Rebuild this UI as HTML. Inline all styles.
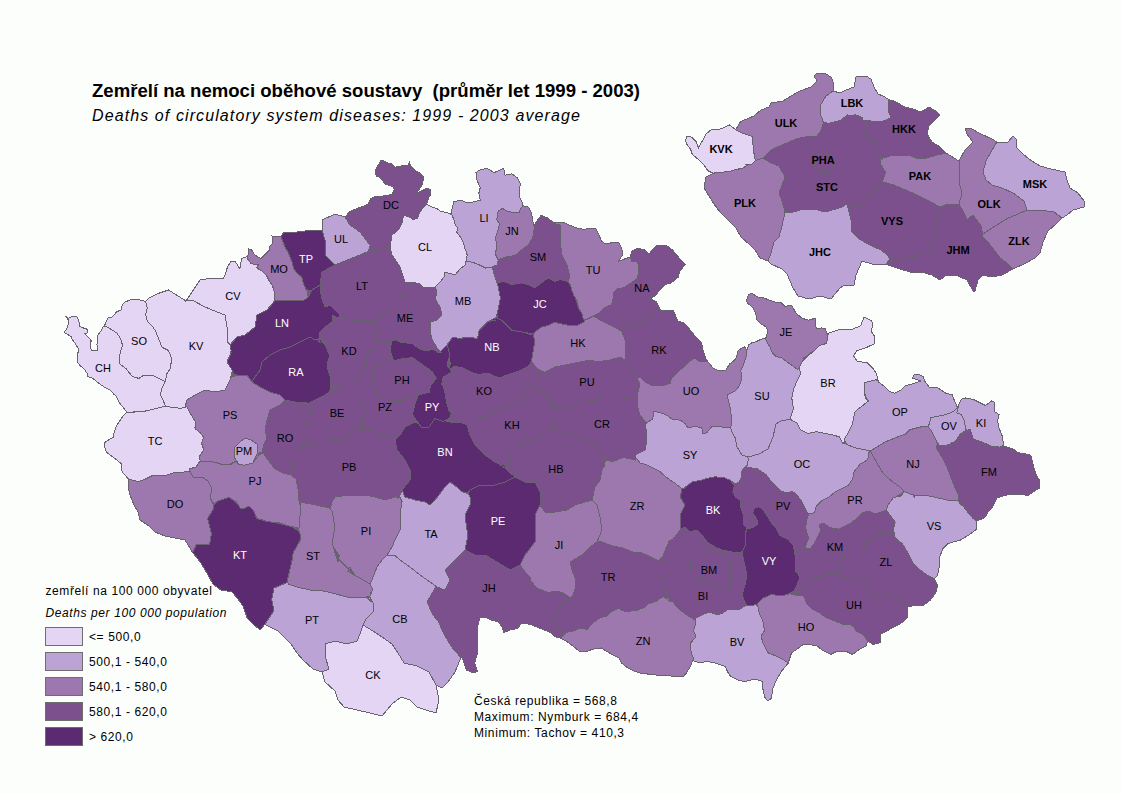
<!DOCTYPE html>
<html><head><meta charset="utf-8"><style>
html,body{margin:0;padding:0;background:#fcfefc;}
body{width:1122px;height:794px;overflow:hidden;position:relative;}
svg{position:absolute;left:0;top:0;font-family:"Liberation Sans",sans-serif;}
.l{font-size:11px;text-anchor:middle;}
.q{font-size:11px;font-weight:bold;text-anchor:middle;}
.s{font-size:12px;letter-spacing:0.6px;}
.t1{font-size:19.2px;font-weight:bold;}
.t2{font-size:16px;font-style:italic;letter-spacing:1.1px;}
</style></head><body>
<svg width="1122" height="794" viewBox="0 0 1122 794" shape-rendering="crispEdges">
<path d="M237.9,462.9 L237.2,462.6 L237.7,463.4 L237.8,463.5 L238.1,464.1 L239.6,464.5 L241.4,464.5 L243.2,465.0 L245.0,465.0 L253.0,463.0 L257.0,454.0 L257.0,444.0 L251.0,440.0 L245.0,438.0 L240.0,442.0 L234.0,448.0 L234.0,457.0 L238.0,463.0ZM253.0,463.0 L254.6,460.5 L254.8,460.1 L254.1,460.4Z" fill="#bba4d5" fill-rule="evenodd"/>
<path d="M939.6,445.1 L939.8,445.3 L941.4,445.3 L942.6,445.1 L943.8,445.3 L946.1,445.3 L953.7,442.8 L953.9,442.6 L954.1,442.2 L950.6,443.3 L955.2,441.8 L958.2,437.3 L961.2,432.7 L959.2,435.7 L959.9,435.6 L961.6,433.1 L966.3,429.9 L966.3,429.5 L965.8,429.7 L964.2,420.6 L961.2,414.5 L956.7,413.0 L958.2,407.0 L953.6,411.5 L946.0,414.5 L938.5,416.1 L930.9,417.6 L929.4,423.6 L927.9,426.7 L930.9,429.7 L933.9,435.8 L937.0,441.8 L936.9,442.4 L938.9,444.4 L937.3,442.8 L937.2,443.5 L939.0,445.2ZM961.6,433.1 L960.3,435.0 L961.0,434.8 L961.9,433.4 L961.4,434.3 L962.1,434.1 L962.3,433.8 L963.0,433.3 L964.8,431.5 L966.9,430.2 L966.8,429.9 L966.0,430.2ZM948.4,445.1 L949.4,445.3 L950.1,445.0 L950.9,444.3 L951.9,443.9 L952.7,443.2 L946.3,445.2 L947.4,445.4Z" fill="#bba4d5" fill-rule="evenodd"/>
<path d="M692.0,575.0 L700.0,580.0 L710.0,582.0 L715.0,587.0 L725.0,590.0 L730.0,585.0 L730.0,575.0 L730.0,562.0 L725.0,555.0 L715.0,550.0 L705.0,552.0 L695.0,555.0 L690.0,560.0 L690.0,567.0Z" fill="#7b508d" fill-rule="evenodd"/>
<path d="M966.3,429.9 L966.0,430.2 L966.8,429.9 L966.9,430.2 L966.2,430.6 L969.6,429.5 L969.7,429.7 L970.2,429.5 L970.0,428.8 L970.3,430.0 L970.3,430.0 L972.8,437.6 L973.0,437.7 L973.3,438.8 L980.9,441.8 L988.5,444.8 L982.0,442.2 L982.6,443.0 L988.3,445.3 L993.8,446.7 L994.9,446.9 L998.1,446.9 L999.3,447.1 L1000.3,446.9 L1000.7,446.9 L1003.7,445.3 L1003.6,444.8 L1002.1,435.8 L999.1,428.2 L999.0,427.5 L997.6,420.6 L999.1,414.5 L994.5,411.5 L994.5,402.4 L991.5,400.9 L985.5,405.5 L979.4,402.4 L973.3,399.4 L965.8,397.9 L961.2,399.4 L958.2,405.5 L957.8,407.4 L958.2,407.0 L956.7,413.0 L961.2,414.5 L964.2,420.6 L965.8,429.7 L966.3,429.5ZM1003.7,445.3 L1001.0,446.8 L1002.6,446.5 L1003.8,445.8 L1003.8,445.8ZM988.3,445.3 L983.5,443.4 L984.1,444.1 L986.1,444.9 L988.7,445.4Z" fill="#bba4d5" fill-rule="evenodd"/>
<path d="M534.1,224.8 L533.5,225.6 L531.5,212.7 L528.7,207.1 L523.1,205.7 L520.4,208.5 L519.0,212.7 L513.4,212.7 L507.9,211.3 L502.4,208.5 L498.2,211.3 L496.8,219.6 L499.6,223.7 L498.2,229.3 L495.4,237.6 L496.8,245.9 L495.4,254.2 L498.2,259.8 L506.5,257.0 L514.8,255.6 L523.1,248.7 L528.7,244.5 L532.8,237.6 L534.2,229.3 L534.2,225.1 L534.6,224.6 L534.5,224.4Z" fill="#9d78ae" fill-rule="evenodd"/>
<path d="M355.0,257.0 L367.0,252.0 L367.3,251.2 L368.0,250.9 L369.3,248.0 L368.3,250.2 L369.0,249.9 L369.5,248.7 L369.5,247.4 L370.0,246.3 L370.0,245.0 L360.0,232.0 L350.0,225.0 L345.0,217.0 L335.0,214.0 L322.0,220.0 L322.0,230.0 L325.0,240.0 L325.0,255.0 L335.0,265.0Z" fill="#bba4d5" fill-rule="evenodd"/>
<path d="M308.5,291.3 L308.4,290.8 L307.9,290.7 L308.5,293.2 L308.8,292.6 L308.7,291.9 L308.9,291.4ZM308.6,293.9 L307.7,290.2 L307.2,290.1 L308.2,294.2 L307.1,289.5 L307.0,289.5 L306.6,289.7 L308.1,295.9 L308.4,295.3 L308.3,294.6ZM254.1,264.7 L258.5,264.7 L256.7,267.3 L258.5,269.1 L262.9,271.7 L266.4,275.3 L269.1,280.6 L272.6,285.9 L274.4,292.9 L274.4,300.8 L279.7,300.8 L286.7,300.0 L295.5,300.8 L304.4,300.0 L307.9,297.3 L308.3,296.7 L306.5,289.2 L306.5,289.2 L306.0,289.4 L303.5,284.0 L301.7,277.0 L297.3,273.5 L293.8,269.0 L292.0,262.0 L288.5,253.2 L285.0,247.0 L281.0,237.0 L272.0,236.0 L272.6,243.5 L269.1,247.0 L269.1,250.6 L264.7,255.0 L261.2,258.5 L261.2,258.5 L258.9,257.7 L258.5,257.6 L258.5,257.6 L258.5,257.6 L254.1,254.1 L254.1,254.1 L251.5,249.7 L248.8,248.8 L247.9,255.9 L247.9,256.2 L247.4,256.3 L246.9,256.5 L246.9,257.0 L247.4,257.7 L247.4,258.6 L247.9,259.4 L250.6,263.0Z" fill="#9d78ae" fill-rule="evenodd"/>
<path d="M307.2,290.1 L311.0,290.8 L311.2,290.4 L311.7,290.5 L312.0,290.0 L320.0,285.0 L322.0,272.0 L335.0,265.0 L325.0,255.0 L325.0,240.0 L322.0,230.0 L305.0,231.0 L297.0,232.0 L284.0,232.0 L281.0,237.0 L285.0,247.0 L288.5,253.2 L292.0,262.0 L293.8,269.0 L297.3,273.5 L301.7,277.0 L303.5,284.0 L306.0,289.4 L306.5,289.2 L306.5,289.2 L306.6,289.7 L307.0,289.5 L307.1,289.5ZM307.2,290.1 L307.7,290.2 L307.9,290.7 L308.4,290.8 L308.5,291.3 L309.4,291.5 L309.7,291.1 L310.2,291.2 L310.5,290.7Z" fill="#5c2a71" fill-rule="evenodd"/>
<path d="M375.6,391.9 L378.9,396.0 L382.1,398.3 L382.5,398.5 L383.5,398.5 L384.3,399.0 L385.3,399.0 L386.1,399.5 L387.1,399.5 L387.5,399.8 L388.7,400.0 L391.4,400.0 L394.6,400.6 L393.8,400.4 L395.7,400.9 L401.7,399.8 L396.8,400.7 L398.0,401.0 L399.2,400.8 L400.0,401.0 L402.9,400.4 L414.1,395.9 L415.7,394.7 L416.6,394.7 L417.3,394.2 L417.7,394.2 L417.6,394.7 L418.1,394.7 L418.0,395.2 L418.3,395.2 L419.1,394.7 L419.9,394.7 L420.7,394.2 L421.6,394.2 L422.3,393.7 L429.2,392.3 L430.6,385.4 L436.2,378.5 L432.0,371.5 L422.3,364.6 L412.6,357.7 L403.0,358.5 L394.6,360.5 L394.4,360.0 L393.8,360.0 L393.6,359.5 L393.1,359.5 L392.9,359.0 L392.3,359.0 L392.2,358.9 L392.1,359.0 L391.4,359.0 L390.9,359.5 L390.2,359.5 L389.7,360.0 L389.0,360.0 L388.5,360.5 L387.7,360.5 L378.0,364.6 L373.5,369.2 L372.0,370.0 L372.0,370.3 L372.5,372.2 L372.5,374.3 L372.9,375.8 L372.9,381.3 L374.3,388.6 L373.0,381.8 L373.0,384.6 L373.1,385.3 L374.4,389.6 L379.8,396.2 L375.3,390.7ZM410.3,397.9 L412.1,396.7 L405.3,399.4 L408.0,398.9Z" fill="#7b508d" fill-rule="evenodd"/>
<path d="M390.0,347.6 L390.0,350.0 L391.8,341.3 L391.3,341.5 L390.6,344.7 L391.2,342.1 L390.6,342.3 L390.5,342.8 L390.5,345.2ZM390.0,350.0 L391.0,353.6 L393.2,358.5 L392.5,357.0 L392.6,357.1 L392.2,357.5 L392.7,358.7 L392.4,358.0 L392.0,358.4 L392.3,359.0 L392.9,359.0 L393.1,359.5 L393.6,359.5 L393.8,360.0 L394.4,360.0 L394.6,360.5 L403.0,358.5 L412.6,357.7 L422.3,364.6 L432.0,371.5 L436.2,378.5 L430.6,385.4 L429.2,392.3 L422.3,393.7 L421.6,394.2 L420.7,394.2 L419.9,394.7 L419.1,394.7 L418.3,395.2 L418.0,395.2 L418.1,394.8 L417.9,395.5 L417.4,395.8 L417.3,396.1 L416.9,397.9 L417.8,396.2 L416.1,399.5 L415.7,401.4 L418.2,396.5 L415.4,402.0 L414.0,407.6 L412.6,413.1 L412.8,412.4 L412.4,413.7 L412.8,414.2 L412.6,414.8 L417.3,421.9 L413.8,416.7 L414.9,419.1 L416.9,422.1 L417.7,422.7 L418.2,423.7 L419.1,424.3 L417.8,421.7 L419.6,425.3 L420.4,425.9 L421.0,427.0 L429.2,427.0 L434.8,418.6 L443.1,421.4 L448.6,418.6 L444.2,420.8 L445.0,421.0 L445.7,420.6 L446.5,420.8 L449.3,419.3 L449.5,419.0 L449.5,417.9 L450.0,417.0 L450.0,415.9 L451.4,413.1 L448.6,410.3 L449.0,410.7 L448.4,408.1 L446.4,401.9 L446.6,402.6 L446.5,402.1 L444.7,391.1 L443.3,386.9 L442.8,384.9 L442.7,385.3 L443.0,383.6 L442.7,382.4 L442.2,385.4 L442.9,381.1 L442.6,379.8 L441.7,385.4 L443.1,377.1 L452.0,372.0 L447.0,365.0 L450.0,355.0 L448.0,349.7 L448.0,348.2 L447.5,346.9 L447.5,345.5 L447.4,345.2 L447.0,345.6 L447.0,345.4 L445.5,346.4 L442.7,349.2 L441.5,351.0 L440.8,351.1 L440.5,351.6 L439.9,351.6 L439.8,351.7 L439.7,351.6 L439.7,351.6 L440.0,352.0 L439.8,352.1 L442.0,352.0 L437.6,352.2 L433.4,349.4 L425.1,350.8 L419.3,348.5 L417.0,347.0 L416.6,346.8 L418.2,348.0 L412.6,343.9 L408.2,343.3 L406.5,342.6 L403.9,342.3 L401.2,341.8 L401.7,342.0 L399.5,340.9 L397.7,340.5 L401.6,342.5 L396.0,339.7 L395.0,340.0 L395.0,340.0 L394.8,340.1 L394.9,340.0 L391.9,341.0ZM447.0,365.0 L449.0,367.8 L449.3,367.4 L447.5,364.9 L449.6,358.1 L449.3,357.2ZM447.5,364.9 L449.0,367.0 L449.3,366.6 L449.0,366.1 L449.4,365.7 L448.6,364.7 L449.5,361.9 L449.3,360.9 L449.5,360.0 L449.3,359.1ZM448.6,364.7 L449.1,365.3 L449.4,364.9 L449.2,364.6 L449.5,363.7 L449.2,362.8ZM449.0,420.1 L449.0,419.5 L447.2,420.4 L448.0,420.6Z" fill="#5c2a71" fill-rule="evenodd"/>
<path d="M262.0,450.3 L262.6,451.4 L262.2,450.6 L261.9,451.1 L262.1,451.6 L261.8,452.0 L262.2,452.7 L262.7,452.5 L262.9,452.9 L263.3,452.8 L263.6,453.1 L264.7,455.2 L266.3,457.1 L267.4,459.2 L269.0,461.0 L275.0,469.0 L283.0,473.0 L291.0,475.0 L293.0,465.0 L291.0,455.0 L296.0,450.0 L304.0,444.0 L308.0,438.0 L307.0,430.0 L310.0,415.0 L310.0,405.0 L305.0,402.0 L295.0,402.0 L285.0,400.0 L280.0,405.0 L270.0,410.0 L267.0,420.0 L265.0,430.0 L266.7,436.7 L266.4,437.8 L266.5,437.9 L266.4,438.1 L266.0,440.0 L263.0,446.0 L263.0,447.8 L262.5,448.5 L262.5,449.4 L262.0,450.1Z" fill="#7b508d" fill-rule="evenodd"/>
<path d="M321.4,340.8 L322.3,341.5 L322.6,342.3 L323.3,342.7 L323.5,343.5 L324.2,344.0 L324.5,344.8 L325.2,345.3 L325.5,346.1 L325.8,346.3 L326.6,348.0 L324.1,340.4 L327.7,351.3 L329.3,354.5 L329.5,355.0 L329.3,355.6 L329.6,356.2 L327.0,365.0 L327.7,366.8 L327.5,367.6 L331.5,377.1 L327.9,368.4 L327.7,369.2 L331.0,377.1 L330.5,380.0 L330.8,381.5 L330.6,382.9 L330.9,384.3 L330.0,390.0 L335.0,387.0 L331.8,388.9 L331.9,389.4 L332.3,389.2 L332.4,389.3 L334.3,388.6 L335.4,387.9 L336.6,387.7 L339.3,386.6 L335.2,387.5 L342.2,386.1 L345.0,385.0 L355.0,385.0 L360.0,375.0 L367.0,365.0 L365.0,355.0 L372.0,350.0 L375.0,340.0 L375.5,338.8 L375.5,337.4 L376.0,336.2 L376.0,331.0 L375.7,329.0 L374.8,326.0 L374.4,322.7 L373.9,321.0 L373.3,321.0 L373.2,320.5 L372.7,320.5 L372.5,320.0 L372.0,320.0 L369.5,320.0 L367.0,320.5 L364.4,320.5 L362.0,321.0 L357.0,320.5 L355.0,320.5 L344.8,319.5 L344.5,319.2 L343.6,319.2 L342.9,318.6 L342.4,318.5 L339.4,317.0 L339.0,317.4 L342.3,319.0 L338.6,317.2 L338.2,317.5 L342.1,319.5 L337.7,317.3 L337.3,317.7 L332.0,315.0 L332.0,322.0 L325.0,327.0 L320.0,332.0 L319.7,332.5 L324.5,340.2 L320.0,332.9 L319.7,333.4 L320.0,333.9 L319.7,334.4 L320.0,334.8 L319.7,335.3 L320.0,335.8 L319.7,336.2 L320.0,336.7 L319.7,337.2 L320.0,337.7 L319.7,338.1ZM365.0,355.0 L365.7,358.3 L366.0,357.5 L365.8,356.6 L366.2,355.7 L366.1,355.4 L366.4,355.3 L366.6,354.8 L366.9,354.3 L365.6,355.2 L367.9,353.5 L368.6,352.4ZM355.0,385.0 L355.0,385.5 L355.3,385.5 L355.7,384.7 L355.9,383.2ZM331.0,377.1 L328.2,370.4 L329.6,375.0 L330.5,377.2 L330.4,377.7 L330.7,378.9Z" fill="#7b508d" fill-rule="evenodd"/>
<path d="M307.0,430.0 L308.0,438.0 L305.9,441.2 L310.0,447.0 L320.0,442.0 L332.0,440.0 L342.0,440.0 L350.0,435.0 L357.0,430.0 L357.6,430.0 L357.8,429.5 L358.4,429.5 L358.6,429.0 L362.3,421.7 L362.0,421.1 L362.3,420.6 L362.0,420.0 L365.0,410.0 L360.0,400.0 L355.0,390.0 L355.5,386.3 L355.5,385.1 L355.3,385.5 L355.0,385.5 L355.0,385.0 L345.0,385.0 L342.2,386.1 L339.3,386.6 L336.6,387.7 L335.4,387.9 L334.3,388.6 L331.9,389.5 L332.0,390.0 L325.0,395.0 L315.0,400.0 L307.7,403.6 L310.0,405.0 L310.0,415.0ZM358.6,429.0 L359.2,429.0 L360.6,426.1 L359.4,428.5 L360.0,428.5 L360.2,428.0 L360.8,428.0 L361.0,427.5 L361.6,427.5 L361.9,427.0 L362.1,427.0 L362.0,426.7 L362.3,426.1 L362.0,425.6 L362.3,425.0 L362.0,424.5 L362.3,423.9 L362.0,423.4 L362.3,422.8 L362.0,422.2Z" fill="#7b508d" fill-rule="evenodd"/>
<path d="M366.4,430.0 L367.0,430.0 L377.0,432.0 L385.0,435.0 L395.0,440.0 L400.0,435.0 L405.0,427.0 L415.0,422.0 L415.5,422.3 L415.6,422.2 L415.4,421.7 L416.2,422.2 L415.8,421.3 L416.6,421.9 L416.3,421.3 L414.9,419.1 L413.8,416.7 L412.6,414.8 L412.8,414.2 L412.4,413.7 L412.8,412.4 L414.0,407.6 L415.4,402.0 L415.7,401.4 L416.1,399.5 L416.9,397.9 L417.3,396.1 L417.4,395.8 L417.9,395.5 L418.1,394.7 L417.6,394.7 L417.7,394.2 L417.3,394.2 L416.6,394.7 L415.7,394.7 L414.1,395.9 L412.1,396.7 L410.3,397.9 L408.0,398.9 L405.3,399.4 L402.9,400.4 L400.0,401.0 L399.2,400.8 L398.0,401.0 L396.8,400.7 L395.7,400.9 L393.8,400.4 L391.4,400.0 L388.7,400.0 L387.5,399.8 L387.1,399.5 L386.1,399.5 L385.3,399.0 L384.3,399.0 L383.5,398.5 L382.5,398.5 L382.1,398.3 L378.9,396.0 L377.7,394.5 L376.7,393.8 L376.5,392.9 L375.6,391.9 L375.3,390.7 L374.4,389.6 L373.1,385.3 L373.0,384.6 L373.0,381.8 L372.9,381.3 L372.9,375.8 L372.5,374.3 L372.5,372.2 L372.0,370.3 L372.0,370.0 L373.5,369.2 L378.0,364.6 L387.7,360.5 L388.5,360.5 L389.0,360.0 L389.7,360.0 L390.2,359.5 L390.9,359.5 L391.4,359.0 L392.1,359.0 L392.2,358.9 L392.0,358.4 L392.4,358.0 L392.2,357.5 L392.6,357.1 L392.5,357.0 L391.0,353.6 L390.0,350.0 L390.0,347.6 L390.5,345.2 L390.5,342.8 L390.6,342.3 L390.5,342.3 L390.5,341.8 L390.0,342.0 L382.0,342.0 L375.0,340.0 L372.0,350.0 L368.6,352.4 L367.9,353.5 L366.9,354.3 L366.6,354.8 L366.4,355.3 L366.1,355.4 L366.2,355.7 L365.8,356.6 L366.0,357.5 L365.7,358.3 L367.0,365.0 L360.0,375.0 L355.9,383.2 L355.7,384.7 L355.5,385.1 L355.5,386.3 L355.0,390.0 L360.0,400.0 L365.0,410.0 L362.0,420.0 L362.3,420.6 L362.0,421.1 L362.3,421.7 L362.0,422.2 L362.3,422.8 L362.0,423.4 L362.3,423.9 L362.0,424.5 L362.3,425.0 L362.0,425.6 L362.3,426.1 L362.0,426.7 L362.4,427.5 L363.0,427.5 L363.2,428.0 L363.8,428.0 L364.0,428.5 L364.6,428.5 L364.8,429.0 L365.4,429.0 L365.6,429.5 L366.2,429.5Z" fill="#7b508d" fill-rule="evenodd"/>
<path d="M815.0,325.7 L815.0,318.2 L808.5,320.3 L802.1,318.2 L795.7,312.8 L793.5,308.6 L791.4,305.3 L785.0,306.4 L780.7,302.1 L775.3,302.1 L768.9,300.0 L763.6,297.8 L757.1,296.8 L751.8,293.0 L748.6,294.6 L746.4,301.1 L747.5,303.2 L751.8,306.4 L753.9,309.6 L756.1,315.0 L757.1,320.3 L760.3,323.5 L765.7,326.8 L767.8,330.0 L766.8,335.3 L766.8,337.4 L766.3,337.6 L765.8,337.8 L765.3,337.9 L765.2,338.0 L765.3,338.1 L765.3,338.8 L765.8,339.3 L765.8,340.0 L766.3,340.5 L766.3,341.2 L766.8,341.7 L770.0,347.1 L772.1,352.5 L776.4,356.7 L781.8,357.8 L787.1,362.1 L793.5,366.4 L797.8,369.6 L800.0,366.4 L802.1,362.1 L804.2,356.7 L802.6,360.8 L803.5,359.9 L804.6,357.0 L803.9,358.8 L804.8,358.0 L805.0,357.3 L806.7,356.1 L807.3,355.5 L810.6,353.0 L808.8,353.9 L813.0,351.8 L814.7,350.6 L820.0,345.3 L822.4,344.7 L826.2,343.2 L825.8,343.3 L826.6,343.1 L827.7,336.4 L827.5,334.7 L827.7,333.4 L827.3,333.5 L826.8,333.7 L826.4,333.8 L825.7,328.9 L821.4,327.8 L817.1,328.9Z" fill="#9d78ae" fill-rule="evenodd"/>
<path d="M374.6,320.5 L374.1,320.5 L374.1,321.0 L373.9,321.0 L374.4,322.7 L374.8,326.0 L375.7,329.0 L376.0,331.0 L376.0,336.2 L375.5,337.4 L375.5,338.8 L375.0,340.0 L382.0,342.0 L390.0,342.0 L390.5,341.8 L390.5,342.3 L391.2,342.1 L391.3,341.5 L391.8,341.3 L391.9,341.0 L394.8,340.1 L395.0,340.0 L395.0,340.0 L396.0,339.7 L397.7,340.5 L399.5,340.9 L401.2,341.8 L403.9,342.3 L406.5,342.6 L408.2,343.3 L412.6,343.9 L416.6,346.8 L417.0,347.0 L419.3,348.5 L425.1,350.8 L433.4,349.4 L437.6,352.2 L439.8,352.1 L440.0,352.0 L439.7,351.6 L439.7,351.6 L437.0,348.0 L432.0,339.0 L430.0,330.0 L430.0,322.0 L437.0,320.0 L442.0,315.0 L440.0,307.0 L435.0,299.0 L437.0,292.0 L435.0,287.0 L432.5,287.0 L430.0,287.5 L427.4,287.5 L425.3,287.9 L424.9,287.5 L424.2,287.5 L423.7,287.0 L423.0,287.0 L420.0,284.0 L411.0,282.0 L405.0,282.0 L405.0,292.0 L397.0,299.0 L391.0,301.0 L391.0,310.0 L387.0,315.0 L380.0,317.0 L375.0,320.0 L374.5,320.0Z" fill="#7b508d" fill-rule="evenodd"/>
<path d="M534.2,225.1 L534.2,229.3 L532.8,237.6 L528.7,244.5 L523.1,248.7 L514.8,255.6 L506.5,257.0 L498.2,259.8 L497.0,265.0 L492.2,266.5 L493.8,273.1 L497.1,282.9 L503.7,281.3 L511.9,284.6 L521.7,282.9 L528.2,284.6 L534.8,287.8 L541.3,282.9 L547.9,278.0 L554.4,281.3 L561.0,279.6 L567.5,281.3 L567.8,281.8 L568.0,281.5 L567.6,281.2 L570.0,277.0 L567.0,265.0 L562.0,255.0 L560.0,240.0 L560.0,225.0 L555.0,223.7 L548.0,218.2 L541.2,215.4 L537.0,221.0 L534.5,224.4 L534.6,224.6ZM555.0,223.7 L555.0,223.1 L554.5,222.7 L554.5,222.2 L553.9,222.2 L553.1,222.2Z" fill="#7b508d" fill-rule="evenodd"/>
<path d="M116.7,332.9 L120.3,338.2 L122.0,343.5 L122.0,347.0 L119.5,355.5 L119.5,363.6 L126.0,368.6 L132.5,376.7 L139.0,378.4 L144.0,375.0 L152.2,375.0 L158.7,378.4 L165.3,381.6 L167.0,373.5 L170.2,368.6 L171.8,358.7 L168.6,350.6 L162.0,347.3 L158.7,339.0 L155.5,331.0 L152.2,326.0 L147.3,321.0 L145.6,314.5 L147.3,308.0 L145.6,301.5 L139.0,299.8 L131.0,299.8 L124.7,302.0 L122.0,305.6 L121.1,310.0 L116.7,311.7 L112.3,317.0 L107.9,317.9 L104.4,325.9 L109.7,328.5Z" fill="#e3d5f3" fill-rule="evenodd"/>
<path d="M734.5,483.7 L734.4,483.8 L734.8,484.2 L734.3,484.4 L734.6,484.8 L734.2,485.0 L734.5,485.4 L733.0,491.4 L736.0,497.5 L740.6,500.5 L740.6,506.5 L743.6,515.6 L743.6,524.7 L746.6,527.7 L746.5,528.2 L747.0,528.2 L746.9,528.7 L748.0,528.7 L749.0,528.2 L750.1,528.2 L751.2,527.7 L752.7,527.7 L757.2,524.7 L757.2,520.1 L752.7,512.6 L754.2,508.0 L758.5,506.9 L759.4,507.2 L760.0,507.1 L760.6,507.6 L761.7,508.0 L761.9,508.2 L763.0,510.0 L764.4,511.4 L766.7,515.3 L766.9,515.5 L768.9,518.8 L769.1,519.3 L770.7,521.5 L772.3,524.7 L773.9,525.8 L774.8,526.9 L775.9,527.7 L778.0,531.9 L778.9,534.0 L779.5,534.4 L779.9,535.3 L788.5,539.5 L793.5,545.9 L794.5,552.1 L794.7,552.7 L795.0,552.5 L795.0,551.9 L799.6,548.9 L800.7,548.9 L801.7,548.4 L802.8,548.4 L804.3,547.6 L803.8,547.9 L804.6,547.9 L804.6,547.5 L805.1,547.3 L805.1,546.7 L805.6,546.5 L805.6,545.9 L808.6,538.3 L805.6,527.7 L807.1,518.6 L808.6,514.1 L805.6,509.6 L801.1,500.5 L796.5,494.4 L792.0,491.4 L787.5,492.9 L781.4,491.4 L775.4,485.4 L770.8,480.8 L766.3,474.8 L757.2,468.7 L745.1,467.2 L742.1,470.2 L742.1,470.5 L741.6,472.5 L741.6,474.5 L741.3,475.7 L741.3,478.0 L740.8,478.7 L740.8,479.6 L738.7,482.4 L737.9,482.6 L737.5,483.2 L736.0,483.6 L735.2,484.0Z" fill="#7b508d" fill-rule="evenodd"/>
<path d="M796.0,586.9 L795.5,587.3 L795.5,587.9 L795.0,588.3 L795.0,588.9 L794.5,589.2 L794.5,589.9 L794.0,590.2 L794.0,590.8 L793.7,591.0 L794.0,590.9 L794.0,591.5 L794.5,591.3 L794.5,591.8 L795.0,591.6 L795.0,592.1 L795.5,592.0 L795.5,592.5 L796.0,592.3 L796.0,592.8 L796.5,592.7 L796.5,593.4 L796.0,593.2 L796.0,593.7 L795.5,593.5 L795.5,594.1 L795.0,593.9 L795.0,594.4 L794.5,594.3 L794.5,594.9 L795.0,594.9 L795.0,595.4 L796.3,595.4 L797.8,594.8 L797.0,594.6 L795.5,595.2 L797.8,594.3 L797.0,594.1 L796.0,594.4 L797.8,593.8 L797.0,593.5 L797.7,593.3 L797.0,593.0 L805.0,590.0 L808.0,582.0 L816.0,577.0 L830.0,574.0 L831.1,574.0 L832.1,573.5 L833.2,573.5 L834.2,573.0 L834.6,573.0 L834.9,572.7 L834.5,572.9 L836.3,571.9 L837.5,570.8 L838.9,570.1 L840.0,569.0 L843.0,558.0 L851.0,553.0 L862.0,553.0 L867.0,542.0 L872.0,537.0 L880.0,532.0 L888.2,532.9 L891.7,531.1 L891.9,531.5 L892.0,531.5 L893.6,530.0 L893.5,529.4 L895.3,522.3 L890.0,515.3 L886.5,510.0 L875.2,514.1 L869.1,511.1 L863.1,512.6 L858.5,517.1 L851.0,523.2 L844.9,526.2 L838.9,529.2 L829.8,527.7 L823.8,523.2 L819.2,524.7 L820.7,530.7 L817.7,536.8 L814.7,542.8 L810.1,548.9 L805.6,548.9 L805.6,548.4 L805.1,548.4 L805.1,547.9 L803.8,547.9 L802.8,548.4 L801.7,548.4 L800.7,548.9 L799.6,548.9 L795.0,551.9 L795.0,552.5 L794.7,552.7 L794.5,552.1 L795.0,554.9 L795.0,560.0 L795.0,570.0 L800.0,577.0 L797.0,585.0 L796.5,585.4 L796.5,586.0 L796.0,586.3ZM892.3,531.2 L892.6,531.7 L893.3,531.0 L893.2,530.4Z" fill="#7b508d" fill-rule="evenodd"/>
<path d="M495.3,318.1 L494.3,318.3 L493.5,318.9 L493.3,319.0 L492.5,319.2 L491.8,319.8 L491.0,320.0 L490.3,320.6 L489.4,320.8 L488.8,321.4 L495.5,320.1 L487.9,321.6 L487.3,322.2 L479.1,330.4 L477.5,338.6 L467.7,337.0 L459.5,338.6 L452.9,337.0 L448.0,343.5 L447.5,343.8 L447.5,344.4 L447.0,344.8 L447.0,345.6 L447.4,345.2 L447.5,345.5 L447.5,346.9 L448.0,348.2 L448.0,349.7 L450.0,355.0 L449.3,357.2 L449.6,358.1 L449.3,359.1 L450.8,364.7 L449.5,360.0 L449.3,360.9 L449.5,361.9 L449.2,362.8 L449.5,363.7 L449.2,364.6 L449.4,364.9 L449.1,365.3 L449.4,365.7 L449.0,366.1 L449.3,366.6 L449.0,367.0 L449.3,367.4 L449.0,367.8 L450.0,369.2 L454.6,366.4 L462.8,368.0 L472.6,373.0 L479.1,374.6 L487.3,373.0 L498.8,378.0 L508.6,374.6 L518.4,371.3 L528.2,366.4 L531.5,361.5 L533.1,351.7 L534.8,341.9 L534.8,340.8 L534.3,339.8 L534.3,338.7 L533.8,337.7 L533.8,336.5 L533.3,335.5 L533.3,334.4 L532.9,333.7 L532.4,333.5 L530.9,333.5 L532.6,334.1 L529.4,333.0 L527.8,333.0 L532.2,334.5 L526.3,332.5 L524.8,332.5 L531.9,334.9 L523.3,332.0 L521.7,332.0 L511.9,330.4 L507.0,325.5 L502.0,320.6 L501.6,320.1 L501.0,320.1 L500.6,319.6 L500.0,319.6 L499.6,319.1 L499.0,319.1 L498.6,318.6 L498.0,318.6 L497.7,318.1 L497.0,318.1 L496.7,317.6 L496.2,317.6 L495.5,318.1Z" fill="#5c2a71" fill-rule="evenodd"/>
<path d="M904.0,491.0 L899.0,486.0 L894.0,483.0 L888.0,478.0 L883.0,473.0 L878.0,465.0 L870.3,450.9 L869.1,452.1 L867.6,459.7 L860.0,464.2 L854.0,471.8 L852.5,479.3 L848.0,485.4 L841.9,488.4 L835.9,491.4 L828.3,497.5 L822.2,500.5 L816.2,506.5 L814.7,512.6 L808.6,514.1 L807.1,518.6 L805.6,527.7 L808.6,538.3 L805.6,545.9 L805.6,546.5 L805.1,546.7 L805.1,547.3 L804.6,547.5 L804.6,547.9 L805.1,547.9 L805.1,548.4 L805.6,548.4 L805.6,548.9 L810.1,548.9 L814.7,542.8 L817.7,536.8 L820.7,530.7 L819.2,524.7 L823.8,523.2 L829.8,527.7 L838.9,529.2 L844.9,526.2 L851.0,523.2 L858.5,517.1 L863.1,512.6 L869.1,511.1 L875.2,514.1 L886.5,510.0 L888.0,505.0 L893.5,497.6 L894.2,497.6 L894.3,497.4 L894.8,497.1 L895.8,497.1 L903.3,492.6 L903.8,491.8 L904.5,491.8 L904.0,491.6 L904.5,491.3ZM896.6,496.6 L897.6,496.6 L900.2,495.0 L898.4,496.1 L899.4,496.1 L900.1,495.7 L900.7,494.7 L901.7,494.1 L902.3,493.2Z" fill="#9d78ae" fill-rule="evenodd"/>
<path d="M496.7,314.3 L497.0,314.7 L496.6,315.0 L496.9,315.4 L496.5,315.6 L499.0,319.1 L499.6,319.1 L500.0,319.6 L500.6,319.6 L501.0,320.1 L501.6,320.1 L502.0,320.6 L507.0,325.5 L511.9,330.4 L521.7,332.0 L523.3,332.0 L524.8,332.5 L526.3,332.5 L527.8,333.0 L529.4,333.0 L530.9,333.5 L532.4,333.5 L532.9,333.7 L533.1,334.0 L533.3,334.0 L533.3,333.5 L533.8,333.5 L533.8,333.0 L534.3,333.0 L534.3,332.5 L534.8,332.5 L534.8,332.0 L541.3,327.1 L547.9,325.5 L554.4,322.2 L561.0,323.9 L569.2,325.5 L577.3,325.5 L583.9,322.2 L584.3,321.8 L584.2,321.2 L584.6,320.8 L584.4,319.8 L583.9,319.8 L584.1,320.6 L583.8,319.3 L583.3,319.3 L582.2,314.0 L577.3,305.8 L579.0,308.7 L578.9,307.5 L577.8,305.6 L575.0,297.1 L573.8,295.4 L574.1,296.0 L570.8,287.8 L572.0,290.8 L571.7,288.6 L571.3,287.6 L568.4,282.0 L567.6,281.2 L568.0,281.5 L567.8,281.8 L567.5,281.3 L561.0,279.6 L554.4,281.3 L547.9,278.0 L541.3,282.9 L534.8,287.8 L528.2,284.6 L521.7,282.9 L511.9,284.6 L503.7,281.3 L497.1,282.9 L498.8,289.5 L500.4,297.7 L498.8,305.8 L497.1,314.0ZM577.8,305.6 L578.2,306.4 L578.1,304.9 L576.6,300.4 L575.5,298.8ZM499.0,319.1 L496.7,316.0 L496.3,316.3 L496.6,316.7 L496.2,317.0 L496.5,317.4 L496.2,317.6 L496.7,317.6 L497.0,318.1 L497.7,318.1 L498.0,318.6 L498.6,318.6ZM569.1,283.3 L570.9,286.8 L570.6,285.2 L570.2,284.4Z" fill="#5c2a71" fill-rule="evenodd"/>
<path d="M639.0,270.0 L637.6,277.3 L633.2,281.6 L624.5,287.4 L617.3,288.9 L613.0,293.2 L613.0,299.0 L611.5,304.8 L604.3,307.7 L598.5,313.5 L594.7,315.4 L593.2,316.4 L594.1,316.4 L601.4,320.8 L610.0,325.1 L618.7,329.4 L621.6,328.0 L630.3,326.5 L640.0,324.0 L648.0,318.0 L656.4,313.9 L661.4,311.3 L656.4,301.9 L650.6,299.0 L656.4,294.7 L659.3,290.4 L659.3,290.3 L659.3,290.3 L662.2,287.4 L665.1,284.5 L670.9,283.1 L678.1,277.3 L679.6,271.5 L685.4,264.3 L679.6,258.5 L672.3,249.8 L666.5,245.4 L656.4,245.4 L653.5,248.3 L651.8,250.5 L649.2,254.1 L649.2,254.1 L649.2,254.1 L644.8,249.8 L637.6,248.3 L631.8,251.2 L630.3,257.0 L630.3,257.0 L631.8,261.4 L637.6,261.4Z" fill="#7b508d" fill-rule="evenodd"/>
<path d="M540.9,371.5 L540.4,371.0 L540.5,371.0 L540.4,371.0 L539.6,370.0 L538.4,369.5 L540.2,371.5ZM446.5,402.1 L446.6,402.6 L448.4,408.1 L449.0,410.7 L451.4,413.1 L450.0,415.9 L450.0,417.0 L449.5,417.9 L449.5,419.0 L449.3,419.3 L449.0,419.5 L449.0,420.1 L448.5,420.3 L448.5,420.7 L449.0,420.8 L449.0,421.3 L449.5,421.4 L449.5,421.9 L450.0,422.0 L460.0,422.0 L467.0,425.0 L472.0,420.0 L480.0,417.0 L490.0,415.0 L500.0,410.0 L510.0,405.0 L520.0,400.0 L525.0,390.0 L535.0,385.0 L540.0,372.0 L540.5,372.0 L540.6,371.9 L537.6,368.5 L536.4,368.0 L531.5,361.5 L528.2,366.4 L518.4,371.3 L508.6,374.6 L498.8,378.0 L487.3,373.0 L479.1,374.6 L472.6,373.0 L462.8,368.0 L454.6,366.4 L450.0,369.2 L452.0,372.0 L443.1,377.1 L442.6,379.8 L442.9,381.1 L442.7,382.4 L443.0,383.6 L442.8,384.9 L443.3,386.9 L444.7,391.1 L444.5,390.1Z" fill="#7b508d" fill-rule="evenodd"/>
<path d="M533.3,335.5 L533.8,336.5 L533.8,337.7 L534.3,338.7 L534.3,339.8 L534.8,340.8 L534.8,341.9 L533.1,351.7 L531.5,361.5 L536.4,368.0 L537.6,368.5 L538.4,369.5 L543.8,372.0 L545.0,372.0 L555.0,367.0 L565.0,365.0 L580.0,362.0 L590.0,360.0 L597.0,362.0 L610.0,360.0 L620.0,357.0 L625.0,360.0 L625.0,350.0 L625.0,340.0 L622.0,332.0 L618.7,329.4 L610.0,325.1 L601.4,320.8 L594.1,316.4 L593.2,316.4 L594.0,315.9 L593.7,315.9 L592.7,316.4 L586.9,319.3 L586.2,319.3 L585.7,319.8 L584.9,319.8 L584.5,320.2 L584.6,320.8 L584.2,321.2 L584.3,321.8 L583.9,322.2 L577.3,325.5 L569.2,325.5 L561.0,323.9 L554.4,322.2 L547.9,325.5 L541.3,327.1 L534.8,332.0 L534.8,332.5 L534.3,332.5 L534.3,333.0 L533.8,333.0 L533.8,333.5 L533.3,333.5 L533.3,334.0 L533.1,334.0 L532.9,333.7 L533.3,334.4ZM538.4,369.5 L539.6,370.0 L540.4,371.0 L541.6,371.5 L542.7,371.5Z" fill="#9d78ae" fill-rule="evenodd"/>
<path d="M318.6,338.9 L318.4,339.3 L318.0,339.0 L317.7,339.5 L318.1,339.7 L318.1,339.7 L317.3,339.2 L317.0,339.6 L316.6,339.3 L316.4,339.7 L320.9,342.9 L315.9,339.4 L315.7,339.9 L315.3,339.6 L315.3,339.6 L315.0,340.0 L310.0,337.0 L300.0,342.0 L290.0,347.0 L280.0,350.0 L270.0,355.0 L262.0,362.0 L260.0,370.0 L255.0,377.0 L252.0,382.0 L260.0,387.0 L270.0,392.0 L280.0,395.0 L285.0,400.0 L295.0,402.0 L305.0,402.0 L307.7,403.6 L315.0,400.0 L325.0,395.0 L332.0,390.0 L331.9,389.5 L332.4,389.3 L332.3,389.2 L331.9,389.4 L331.8,388.9 L330.0,390.0 L330.9,384.3 L330.6,382.9 L330.8,381.5 L330.5,380.0 L330.7,378.9 L330.4,377.7 L330.5,377.2 L329.6,375.0 L328.2,370.4 L327.7,369.2 L327.9,368.4 L327.5,367.6 L327.7,366.8 L327.0,365.0 L329.6,356.2 L329.3,355.6 L329.5,355.0 L329.3,354.5 L327.7,351.3 L326.6,348.0 L325.8,346.3 L325.5,346.1 L325.2,345.3 L324.5,344.8 L324.2,344.0 L323.5,343.5 L323.3,342.7 L322.6,342.3 L322.3,341.5 L321.4,340.8 L320.7,339.7 L319.3,338.8 L319.1,339.2ZM320.2,341.2 L319.7,340.8 L319.4,340.6Z" fill="#5c2a71" fill-rule="evenodd"/>
<path d="M540.2,371.5 L540.6,371.9 L540.5,372.0 L540.0,372.0 L535.0,385.0 L540.0,390.0 L545.0,395.0 L550.0,400.0 L550.7,401.4 L554.7,405.4 L558.7,407.0 L560.0,407.0 L562.5,407.0 L568.7,405.8 L580.0,402.0 L595.0,400.0 L605.0,397.0 L620.0,397.0 L630.0,400.0 L637.0,395.0 L640.0,385.0 L637.0,377.0 L630.0,367.0 L625.0,360.0 L620.0,357.0 L610.0,360.0 L597.0,362.0 L590.0,360.0 L580.0,362.0 L565.0,365.0 L555.0,367.0 L545.0,372.0 L543.8,372.0 L542.7,371.5 L541.6,371.5 L540.5,371.0 L540.4,371.0 L540.9,371.5ZM554.7,405.4 L551.8,402.5 L552.5,403.9 L554.4,405.9 L553.7,405.1 L554.1,406.0 L554.8,406.0 L556.1,406.5 L557.4,406.5Z" fill="#7b508d" fill-rule="evenodd"/>
<path d="M741.6,551.9 L741.6,552.0 L742.1,552.0 L743.6,560.0 L747.0,575.0 L745.0,585.0 L742.0,595.0 L745.0,602.0 L744.7,602.4 L745.2,602.6 L744.9,603.1 L745.4,603.3 L745.1,603.7 L745.6,603.9 L745.3,604.3 L748.6,605.7 L749.0,605.6 L749.5,605.5 L750.3,605.9 L751.1,605.7 L751.9,606.1 L752.3,606.0 L753.5,605.2 L754.9,604.9 L756.1,604.2 L756.8,604.0 L757.3,603.5 L758.4,602.7 L759.3,601.6 L760.5,600.9 L761.6,599.4 L762.4,598.8 L763.3,598.0 L764.4,597.8 L765.2,597.1 L766.3,596.9 L767.2,596.2 L768.2,596.0 L769.1,595.3 L770.1,595.1 L770.2,595.0 L770.5,594.6 L770.9,594.9 L771.2,594.5 L771.7,594.8 L772.0,594.4 L772.4,594.6 L772.7,594.2 L773.1,594.5 L773.5,594.1 L775.0,595.0 L785.0,595.0 L785.5,594.5 L786.0,594.7 L786.4,594.3 L786.9,594.5 L787.3,594.1 L787.8,594.3 L788.2,593.9 L788.7,594.1 L789.1,593.7 L789.6,593.9 L790.0,593.6 L790.5,593.8 L790.7,593.5 L790.2,593.3 L790.9,592.6 L792.2,592.1 L794.0,590.8 L794.0,590.2 L794.5,589.9 L794.5,589.2 L795.0,588.9 L795.0,588.3 L795.5,587.9 L795.5,587.3 L796.0,586.9 L796.0,586.3 L796.5,586.0 L796.5,585.4 L797.0,585.0 L800.0,577.0 L795.0,570.0 L795.0,560.0 L795.0,554.9 L793.5,545.9 L788.5,539.5 L779.9,535.3 L779.5,534.4 L778.9,534.0 L778.0,531.9 L775.9,527.7 L774.8,526.9 L773.9,525.8 L772.3,524.7 L770.7,521.5 L769.1,519.3 L768.9,518.8 L766.9,515.5 L766.7,515.3 L764.4,511.4 L763.0,510.0 L761.9,508.2 L761.7,508.0 L760.6,507.6 L760.0,507.1 L759.4,507.2 L758.5,506.9 L754.2,508.0 L752.7,512.6 L757.2,520.1 L757.2,524.7 L752.7,527.7 L751.2,527.7 L750.1,528.2 L749.0,528.2 L748.0,528.7 L747.2,528.7 L746.6,529.6 L746.3,531.1 L745.5,532.3 L745.1,533.8 L745.1,545.9 L742.1,551.9ZM745.3,604.3 L745.8,604.5 L745.5,604.9 L746.0,605.1 L745.9,605.2 L746.1,605.2 L746.9,605.5 L747.8,605.4Z" fill="#5c2a71" fill-rule="evenodd"/>
<path d="M682.2,488.6 L681.6,488.4 L681.8,488.9 L681.4,489.2 L681.6,489.7 L681.6,489.7 L681.4,490.4 L681.7,491.2 L680.0,497.0 L685.0,505.0 L680.0,515.0 L680.0,530.0 L685.0,527.0 L690.0,532.0 L697.0,530.0 L702.0,535.0 L707.0,542.0 L715.0,547.0 L722.0,550.0 L732.0,552.0 L740.0,552.0 L741.6,552.0 L741.6,551.9 L742.1,551.9 L745.1,545.9 L745.1,533.8 L745.5,532.3 L746.3,531.1 L746.6,529.6 L747.2,528.7 L746.9,528.7 L747.0,528.2 L746.5,528.2 L746.6,527.7 L743.6,524.7 L743.6,515.6 L740.6,506.5 L740.6,500.5 L736.0,497.5 L733.0,491.4 L734.5,485.4 L730.0,480.0 L722.0,477.0 L716.6,477.0 L715.6,476.8 L714.4,477.0 L712.0,477.0 L702.0,480.0 L692.0,482.0 L684.3,488.1 L684.2,488.2 L683.7,488.0 L683.2,488.4 L682.7,488.2ZM734.5,485.4 L734.2,485.0 L734.6,484.8 L734.3,484.4 L734.8,484.2 L734.4,483.8 L734.5,483.7 L735.2,484.0 L734.4,483.7 L733.8,483.0 L732.9,482.7 L732.3,481.9 L731.4,481.6Z" fill="#5c2a71" fill-rule="evenodd"/>
<path d="M495.8,462.5 L496.7,462.5 L497.4,463.0 L498.3,463.0 L499.1,463.5 L500.0,463.5 L500.7,464.0 L501.6,464.0 L502.4,464.5 L503.3,464.5 L504.0,465.0 L504.9,465.0 L505.2,465.2 L505.1,465.5 L505.3,465.0 L505.8,465.0 L505.9,464.5 L506.5,464.5 L506.6,464.0 L507.1,464.0 L507.2,463.5 L507.8,463.5 L508.3,461.7 L507.6,463.0 L509.4,459.4 L510.1,456.9 L507.3,462.5 L511.3,454.5 L512.0,452.0 L520.0,445.0 L522.8,444.2 L525.4,442.9 L528.2,442.0 L530.7,440.7 L533.3,440.0 L535.8,438.8 L536.2,438.7 L536.4,438.5 L537.8,437.8 L538.9,436.7 L540.3,435.9 L541.5,434.8 L542.9,434.1 L544.0,433.0 L550.0,430.0 L552.8,424.5 L555.0,420.0 L555.0,410.0 L555.0,408.9 L551.8,402.5 L550.7,401.4 L550.0,400.0 L545.0,395.0 L540.0,390.0 L535.0,385.0 L525.0,390.0 L520.0,400.0 L510.0,405.0 L500.0,410.0 L490.0,415.0 L480.0,417.0 L472.0,420.0 L467.0,425.0 L470.0,435.0 L475.0,445.0 L485.0,455.0 L495.0,462.0ZM552.8,424.5 L551.2,427.6 L552.0,427.0ZM554.5,406.8 L553.7,405.1 L552.5,403.9 L554.5,407.9Z" fill="#7b508d" fill-rule="evenodd"/>
<path d="M370.0,246.3 L369.5,247.4 L369.5,248.7 L369.0,249.9 L369.0,249.9 L369.5,249.7 L369.5,250.2 L370.0,250.0 L380.0,250.0 L390.0,247.0 L392.0,235.0 L398.3,230.0 L400.4,226.5 L402.4,222.5 L402.4,218.5 L404.4,215.5 L408.4,216.5 L413.4,219.5 L417.5,218.5 L419.5,212.4 L422.5,208.4 L426.5,204.4 L428.5,198.3 L428.5,198.3 L430.6,194.3 L430.6,189.3 L426.5,188.3 L422.5,190.3 L416.5,193.3 L418.5,190.3 L418.5,190.3 L422.1,184.8 L422.5,184.2 L423.5,177.2 L420.5,173.2 L414.5,170.1 L410.4,165.1 L409.4,162.1 L408.4,165.1 L404.4,165.1 L400.4,166.1 L395.3,167.1 L393.8,165.6 L392.3,164.1 L388.3,163.1 L384.2,161.1 L381.2,160.1 L378.2,165.1 L375.2,170.1 L376.2,176.2 L380.2,177.2 L382.2,180.2 L385.2,184.2 L392.3,186.3 L392.3,186.3 L392.3,186.3 L393.0,187.3 L394.3,189.3 L392.3,194.3 L388.3,195.3 L380.2,196.3 L375.2,196.3 L371.1,198.3 L368.1,204.4 L360.0,207.4 L350.0,211.4 L345.0,217.0 L345.0,217.0 L350.0,225.0 L360.0,232.0 L370.0,245.0Z" fill="#7b508d" fill-rule="evenodd"/>
<path d="M246.2,256.8 L241.8,258.5 L240.9,263.0 L240.9,263.0 L239.8,268.6 L237.3,264.7 L235.6,262.0 L231.2,261.2 L227.6,266.5 L225.0,275.0 L223.0,279.0 L223.0,279.0 L213.0,278.0 L200.0,280.0 L186.0,301.0 L192.0,300.0 L205.0,307.0 L217.0,312.0 L225.0,315.0 L227.0,327.0 L227.0,341.0 L230.0,345.0 L237.0,337.0 L245.0,335.0 L255.0,327.0 L257.0,315.0 L267.0,310.0 L272.6,303.5 L274.4,300.8 L274.4,292.9 L272.6,285.9 L269.1,280.6 L266.4,275.3 L262.9,271.7 L258.5,269.1 L256.7,267.3 L258.5,264.7 L254.1,264.7 L250.6,263.0 L247.9,259.4 L247.4,258.6 L247.4,257.7 L246.7,256.6Z" fill="#e3d5f3" fill-rule="evenodd"/>
<path d="M126.4,411.5 L126.8,412.0 L133.4,412.0 L134.9,411.5 L136.5,411.5 L137.9,411.0 L145.6,411.0 L158.7,407.8 L165.2,406.2 L165.9,406.4 L165.9,406.3 L165.3,406.2 L163.6,401.3 L160.4,394.7 L162.0,388.2 L165.3,381.6 L158.7,378.4 L152.2,375.0 L144.0,375.0 L139.0,378.4 L132.5,376.7 L126.0,368.6 L119.5,363.6 L119.5,355.5 L122.0,347.0 L122.0,343.5 L120.3,338.2 L116.7,332.9 L109.7,328.5 L104.4,325.9 L102.6,327.6 L100.9,331.1 L97.3,335.6 L97.0,344.7 L97.0,350.9 L97.0,350.9 L92.8,350.3 L91.2,350.0 L90.3,344.4 L90.3,344.4 L91.2,340.8 L89.3,338.4 L88.5,337.3 L85.0,333.8 L85.0,333.8 L85.0,333.8 L87.6,332.9 L87.6,329.4 L85.0,328.5 L79.7,326.7 L78.8,320.6 L77.0,317.0 L71.8,316.2 L68.2,318.8 L68.2,318.8 L66.9,317.5 L65.6,316.2 L68.2,319.7 L68.2,324.1 L66.5,329.4 L64.7,331.1 L63.8,332.0 L64.7,332.9 L70.9,336.4 L71.3,337.2 L72.6,340.0 L75.3,343.5 L78.5,349.1 L77.6,355.3 L77.6,362.3 L80.3,365.9 L83.8,368.5 L87.3,373.8 L87.3,376.4 L92.6,378.2 L97.9,382.6 L101.0,384.8 L104.1,387.0 L106.2,388.1 L109.6,389.8 L114.5,394.8 L116.2,396.4 L117.9,399.7 L119.5,403.0 L126.0,411.0Z" fill="#e3d5f3" fill-rule="evenodd"/>
<path d="M451.1,212.7 L453.9,219.6 L455.2,225.1 L458.0,227.9 L457.8,227.7 L457.9,228.1 L456.6,232.0 L460.8,237.6 L463.6,243.1 L465.0,248.7 L467.7,255.6 L466.1,251.4 L466.5,253.8 L467.2,255.6 L466.9,256.6 L467.0,257.0 L465.8,261.6 L466.1,261.7 L466.4,260.8 L466.3,261.2 L473.3,262.5 L480.2,265.3 L485.7,268.1 L492.0,267.0 L492.3,266.9 L492.2,266.5 L497.0,265.0 L498.2,259.8 L495.4,254.2 L496.8,245.9 L495.4,237.6 L498.2,229.3 L499.6,223.7 L496.8,219.6 L498.2,211.3 L502.4,208.5 L507.9,211.3 L513.4,212.7 L519.0,212.7 L520.4,208.5 L523.1,205.7 L521.8,201.6 L519.0,196.0 L519.0,196.0 L519.0,190.5 L519.0,190.5 L520.4,183.6 L517.6,178.0 L512.0,173.9 L505.1,175.2 L503.7,168.3 L498.2,171.1 L497.5,171.3 L494.0,172.5 L494.0,172.5 L487.1,168.3 L480.2,169.7 L476.0,172.5 L477.0,180.0 L480.2,187.7 L478.8,193.3 L480.2,200.2 L474.6,201.6 L467.7,203.0 L460.8,200.2 L453.9,201.6ZM451.1,212.7 L450.9,213.5 L451.4,214.7 L452.0,215.0 L452.2,215.4Z" fill="#bba4d5" fill-rule="evenodd"/>
<path d="M937.7,443.9 L937.2,443.5 L937.3,442.8 L936.9,442.4 L937.0,441.8 L933.9,435.8 L930.9,429.7 L927.9,426.7 L921.8,426.7 L915.8,428.2 L909.7,429.7 L905.2,434.2 L900.6,435.8 L893.0,438.8 L885.5,441.8 L877.9,446.4 L870.3,450.9 L878.0,465.0 L883.0,473.0 L888.0,478.0 L894.0,483.0 L899.0,486.0 L904.0,491.0 L904.5,491.3 L904.0,491.6 L905.5,492.3 L906.6,492.3 L910.0,494.0 L912.3,494.0 L912.6,494.5 L913.2,494.5 L913.5,495.0 L914.1,495.0 L914.5,495.5 L915.1,495.5 L915.4,495.9 L917.0,495.5 L919.1,495.5 L920.6,495.1 L921.8,495.4 L924.1,495.4 L926.5,495.9 L928.9,495.9 L934.0,497.0 L947.0,500.0 L957.4,500.0 L957.8,500.5 L958.4,500.5 L958.8,501.0 L959.0,501.0 L959.0,500.4 L959.0,500.0 L958.7,499.7 L958.5,499.7 L958.5,499.1 L958.0,499.0 L958.0,494.0 L953.0,483.0 L947.0,467.0 L942.0,457.0 L939.2,452.7 L938.8,451.4 L936.0,447.7 L936.3,446.2 L936.8,446.1 L936.9,445.6 L937.4,445.5 L937.5,444.7 L937.5,445.0 L938.0,444.9 L937.6,444.5Z" fill="#9d78ae" fill-rule="evenodd"/>
<path d="M893.7,532.8 L892.9,531.3 L892.6,531.7 L892.3,531.2 L892.0,531.5 L891.9,531.5 L891.7,531.1 L888.2,532.9 L880.0,532.0 L872.0,537.0 L867.0,542.0 L862.0,553.0 L851.0,553.0 L843.0,558.0 L840.0,569.0 L838.9,570.1 L837.5,570.8 L836.3,571.9 L834.9,572.7 L834.1,573.5 L834.8,573.5 L834.3,574.0 L835.0,574.0 L846.0,577.0 L856.0,580.0 L860.0,578.8 L867.0,584.0 L870.6,592.9 L877.6,596.4 L886.5,594.6 L895.3,598.2 L902.3,599.9 L907.6,607.0 L914.7,605.2 L923.5,605.2 L930.5,599.9 L934.9,594.0 L935.8,592.9 L937.6,585.8 L934.1,578.8 L927.0,575.2 L920.0,570.0 L912.9,562.9 L907.6,552.3 L902.3,543.5 L895.3,538.2 L894.9,536.3 L894.1,534.7Z" fill="#7b508d" fill-rule="evenodd"/>
<path d="M625.0,340.0 L625.0,350.0 L625.0,360.0 L630.0,367.0 L637.0,377.0 L641.3,378.1 L645.0,381.9 L652.6,385.6 L662.7,385.6 L670.2,383.1 L671.5,378.1 L676.5,373.0 L684.0,366.8 L689.1,361.7 L694.2,358.0 L700.5,361.7 L708.0,361.7 L705.5,358.0 L703.0,350.4 L701.7,342.8 L695.4,336.5 L690.4,330.2 L690.2,330.0 L684.0,322.7 L682.2,322.3 L677.8,321.4 L675.3,315.1 L672.7,310.0 L665.2,310.0 L661.4,311.3 L661.4,311.3 L656.4,313.9 L648.0,318.0 L640.0,324.0 L630.3,326.5 L621.6,328.0 L618.7,329.4 L622.0,332.0Z" fill="#7b508d" fill-rule="evenodd"/>
<path d="M299.0,531.7 L299.5,532.5 L299.5,533.4 L300.0,534.1 L300.0,540.4 L299.5,541.1 L299.5,542.0 L298.7,543.2 L294.0,551.1 L293.5,551.8 L293.5,551.9 L293.2,552.4 L293.2,553.2 L292.7,555.4 L292.7,557.6 L291.0,565.0 L288.0,578.0 L289.6,570.9 L288.9,573.1 L287.5,580.0 L287.5,582.7 L288.0,583.0 L288.0,584.0 L297.0,587.0 L310.0,590.0 L319.0,590.0 L332.0,593.0 L347.0,597.0 L366.0,597.0 L366.4,597.3 L366.7,597.0 L367.1,597.3 L367.5,596.9 L367.9,597.3 L368.2,596.9 L368.6,597.2 L368.9,596.9 L369.3,597.2 L370.0,596.6 L369.9,596.0 L370.3,595.5 L370.2,594.9 L370.6,594.5 L370.5,593.9 L371.0,593.4 L370.9,592.8 L371.3,592.4 L371.2,591.8 L373.0,590.0 L370.0,584.0 L360.0,578.0 L347.0,571.0 L354.3,574.9 L353.8,574.1 L353.0,573.7 L352.6,572.9 L351.8,572.4 L351.4,571.6 L347.9,569.8 L350.6,571.2 L350.1,570.4 L349.3,570.0 L348.9,569.2 L348.5,569.0 L340.2,560.7 L339.9,559.7 L339.1,559.0 L338.8,557.9 L337.8,556.4 L339.3,561.2 L337.3,554.7 L336.3,553.2 L338.9,561.5 L335.7,551.5 L334.7,550.0 L334.2,548.3 L333.2,546.8 L338.0,562.0 L332.0,543.0 L335.0,527.0 L332.0,511.0 L330.2,509.2 L330.3,508.6 L329.9,508.2 L330.0,508.0 L329.6,507.9 L329.3,507.5 L321.7,505.8 L318.3,505.5 L329.0,508.0 L316.0,505.0 L300.0,502.0 L300.0,511.0 L300.0,516.0 L299.5,519.0 L299.5,522.0 L299.0,525.0 L299.0,528.1 L298.8,529.2 L298.5,529.1 L298.5,529.6 L298.1,529.6 L298.5,529.9 L298.5,530.5 L299.0,530.9Z" fill="#9d78ae" fill-rule="evenodd"/>
<path d="M640.0,415.0 L637.0,405.0 L637.0,395.0 L630.0,400.0 L620.0,397.0 L605.0,397.0 L595.0,400.0 L580.0,402.0 L568.7,405.8 L562.5,407.0 L560.0,407.0 L558.7,407.0 L557.4,406.5 L556.1,406.5 L554.8,406.0 L554.1,406.0 L554.5,406.8 L554.5,407.9 L555.0,408.9 L555.0,410.0 L555.0,417.0 L555.0,420.0 L552.8,424.5 L552.0,427.0 L562.0,432.0 L575.0,435.0 L585.0,440.0 L595.0,445.0 L602.0,455.0 L602.2,455.7 L602.8,456.0 L603.0,456.6 L603.6,456.9 L603.8,457.6 L604.4,457.9 L604.6,458.6 L605.2,458.9 L605.4,459.5 L606.4,460.0 L607.5,460.0 L608.5,460.5 L609.6,460.5 L610.6,461.0 L611.8,461.0 L611.9,461.1 L617.9,459.3 L612.1,461.0 L613.9,461.0 L616.1,460.3 L618.7,459.0 L621.5,458.2 L622.6,457.6 L623.4,457.8 L624.1,457.5 L635.0,460.0 L635.0,457.0 L635.5,457.5 L635.5,456.8 L635.6,456.9 L635.5,456.2 L635.5,455.3 L635.8,455.1 L635.7,454.6 L645.0,450.0 L647.0,440.0 L646.4,435.5 L646.4,431.7 L645.9,428.0 L645.9,424.6 L645.4,423.6 L644.4,421.5 L643.9,420.6 L642.6,419.1 L641.7,417.3 L640.4,415.8Z" fill="#7b508d" fill-rule="evenodd"/>
<path d="M445.0,272.0 L444.0,277.0 L440.0,282.0 L435.0,287.0 L437.0,292.0 L435.0,299.0 L440.0,307.0 L442.0,315.0 L437.0,320.0 L430.0,322.0 L430.0,330.0 L432.0,339.0 L437.0,348.0 L439.8,351.7 L440.1,351.3 L440.3,351.6 L440.5,351.6 L440.8,351.1 L441.5,351.0 L442.7,349.2 L445.5,346.4 L447.0,345.4 L447.0,344.8 L447.5,344.4 L447.5,343.8 L448.0,343.5 L452.9,337.0 L459.5,338.6 L467.7,337.0 L477.5,338.6 L479.1,330.4 L487.3,322.2 L487.9,321.6 L488.8,321.4 L489.4,320.8 L490.3,320.6 L491.0,320.0 L491.8,319.8 L492.5,319.2 L493.3,319.0 L493.5,318.9 L494.3,318.3 L495.3,318.1 L495.5,318.1 L496.5,317.4 L496.2,317.0 L496.6,316.7 L496.3,316.3 L496.7,316.0 L496.5,315.6 L496.9,315.4 L496.6,315.0 L497.0,314.7 L496.7,314.3 L497.1,314.0 L498.8,305.8 L500.4,297.7 L498.8,289.5 L497.1,282.9 L493.8,273.1 L492.3,266.9 L492.0,267.0 L485.7,268.1 L480.2,265.3 L473.3,262.5 L466.3,261.2 L466.4,260.8 L466.1,261.7 L465.8,261.6 L465.0,265.0 L460.0,269.0 L455.0,275.0Z" fill="#bba4d5" fill-rule="evenodd"/>
<path d="M797.0,594.1 L801.1,595.5 L801.9,595.2 L802.7,595.5 L803.5,595.2 L806.8,603.7 L811.9,608.8 L818.7,612.2 L825.5,617.3 L834.0,620.6 L842.4,624.0 L849.2,624.0 L854.3,627.4 L856.0,630.8 L862.7,634.2 L867.8,641.0 L872.9,644.4 L880.0,642.7 L881.0,634.0 L894.0,627.0 L903.0,622.0 L907.6,617.0 L907.6,607.0 L907.6,607.0 L902.3,599.9 L895.3,598.2 L886.5,594.6 L877.6,596.4 L870.6,592.9 L867.0,584.0 L860.0,578.8 L856.0,580.0 L846.0,577.0 L835.0,574.0 L834.3,574.0 L834.8,573.5 L834.1,573.5 L834.6,573.0 L834.2,573.0 L833.2,573.5 L832.1,573.5 L831.1,574.0 L830.0,574.0 L816.0,577.0 L808.0,582.0 L805.0,590.0 L797.0,593.0 L797.7,593.3 L797.0,593.5 L797.8,593.8ZM797.0,594.1 L797.8,594.3 L797.0,594.6 L797.8,594.8 L797.0,595.1 L797.9,595.4 L798.2,595.4 L798.8,595.2 L799.6,595.5 L800.4,595.2ZM790.9,592.6 L790.2,593.3 L790.7,593.5 L790.5,593.8 L792.1,594.4 L793.3,594.4 L794.5,594.8 L794.5,594.3 L795.0,594.4 L795.0,593.9 L795.5,594.1 L795.5,593.5 L796.0,593.7 L796.0,593.2 L796.5,593.4 L796.5,592.7 L796.0,592.8 L796.0,592.3 L795.5,592.5 L795.5,592.0 L795.0,592.1 L795.0,591.6 L794.5,591.8 L794.5,591.3 L794.0,591.5 L794.0,590.9 L793.7,591.0 L792.2,592.1Z" fill="#7b508d" fill-rule="evenodd"/>
<path d="M790.0,593.6 L789.6,593.9 L789.1,593.7 L788.7,594.1 L788.2,593.9 L787.8,594.3 L787.3,594.1 L786.9,594.5 L786.4,594.3 L786.0,594.7 L785.5,594.5 L785.0,595.0 L775.0,595.0 L773.5,594.1 L773.1,594.5 L772.7,594.2 L772.4,594.6 L772.0,594.4 L771.7,594.8 L771.2,594.5 L770.9,594.9 L770.5,594.6 L770.2,595.0 L770.1,595.1 L770.2,595.1 L769.1,595.3 L768.2,596.0 L767.2,596.2 L766.3,596.9 L765.2,597.1 L764.4,597.8 L763.3,598.0 L761.6,599.4 L760.5,600.9 L759.3,601.6 L758.4,602.7 L757.3,603.5 L756.4,604.6 L757.1,604.5 L756.7,605.1 L757.4,604.9 L757.2,605.3 L757.2,605.5 L757.7,605.4 L759.4,613.9 L762.8,620.6 L764.5,630.8 L761.1,635.9 L762.8,642.7 L767.9,652.8 L776.4,656.2 L783.1,659.6 L788.2,663.0 L791.6,652.8 L796.7,649.4 L803.5,644.4 L808.5,644.4 L817.0,646.0 L823.8,651.1 L830.6,654.5 L837.3,651.1 L845.8,651.1 L852.6,654.5 L858.2,650.2 L859.3,649.4 L866.1,646.0 L866.8,644.0 L867.8,641.0 L862.7,634.2 L856.0,630.8 L854.3,627.4 L849.2,624.0 L842.4,624.0 L834.0,620.6 L825.5,617.3 L818.7,612.2 L811.9,608.8 L806.8,603.7 L803.5,595.2 L802.7,595.5 L801.9,595.2 L801.1,595.5 L800.4,595.2 L799.6,595.5 L798.8,595.2 L798.2,595.4 L797.9,595.4 L797.0,595.1 L796.3,595.4 L795.0,595.4 L795.0,594.9 L794.5,594.9 L794.5,594.8 L793.3,594.4 L792.1,594.4Z" fill="#9d78ae" fill-rule="evenodd"/>
<path d="M450.7,214.4 L446.7,212.4 L440.6,211.4 L436.6,208.4 L430.6,206.4 L426.5,204.4 L422.5,208.4 L419.5,212.4 L417.5,218.5 L413.4,219.5 L408.4,216.5 L404.4,215.5 L402.4,218.5 L402.4,222.5 L400.4,226.5 L398.3,230.0 L392.0,235.0 L390.0,247.0 L392.0,255.0 L400.0,267.0 L405.0,282.0 L411.0,282.0 L420.0,284.0 L423.0,287.0 L423.7,287.0 L424.2,287.5 L424.9,287.5 L425.3,287.9 L427.4,287.5 L430.0,287.5 L432.5,287.0 L435.0,287.0 L440.0,282.0 L444.0,277.0 L445.0,272.0 L455.0,275.0 L460.0,269.0 L465.0,265.0 L467.0,257.0 L466.9,256.6 L467.2,255.6 L466.5,253.8 L466.1,251.4 L465.0,248.7 L463.6,243.1 L460.8,237.6 L456.6,232.0 L457.9,228.1 L457.8,227.7 L455.2,225.1 L453.9,219.6 L452.2,215.4 L452.0,215.0 L451.4,214.7 L451.1,214.0 L450.9,213.9 L450.8,213.9Z" fill="#e3d5f3" fill-rule="evenodd"/>
<path d="M320.0,334.8 L319.7,334.4 L320.0,333.9 L319.7,333.4 L320.0,332.9 L319.7,332.5 L320.0,332.0 L325.0,327.0 L332.0,322.0 L332.0,315.0 L337.3,317.7 L337.7,317.3 L338.2,317.5 L338.6,317.2 L339.0,317.4 L339.4,317.0 L339.9,317.3 L340.5,316.7 L340.1,316.3 L340.4,316.0 L340.0,315.7 L340.4,315.3 L340.0,315.0 L330.0,305.0 L325.0,307.0 L324.2,304.2 L322.9,301.6 L322.0,298.8 L321.0,296.8 L321.0,294.0 L320.5,291.0 L320.5,288.0 L320.1,285.5 L320.0,285.6 L320.0,285.0 L312.0,290.0 L307.9,297.3 L304.4,300.0 L295.5,300.8 L286.7,300.0 L279.7,300.8 L274.4,300.8 L272.6,303.5 L267.0,310.0 L257.0,315.0 L255.0,327.0 L245.0,335.0 L237.0,337.0 L230.0,345.0 L231.1,350.6 L230.8,351.7 L231.1,352.8 L230.8,354.0 L230.9,354.8 L230.2,355.8 L229.3,357.9 L227.9,359.8 L227.0,362.0 L227.7,363.4 L228.8,364.5 L229.8,366.4 L231.7,369.2 L233.1,371.9 L233.0,372.0 L233.4,372.5 L233.3,373.1 L233.6,373.7 L233.5,374.3 L233.8,374.8 L234.2,374.5 L234.5,374.9 L234.9,374.6 L235.2,375.1 L235.6,374.8 L235.9,375.2 L236.3,374.9 L236.6,375.3 L237.0,375.0 L247.0,375.0 L252.0,382.0 L255.0,377.0 L260.0,370.0 L262.0,362.0 L270.0,355.0 L280.0,350.0 L290.0,347.0 L300.0,342.0 L310.0,337.0 L315.0,340.0 L315.3,339.6 L315.3,339.6 L315.7,339.9 L315.9,339.4 L316.4,339.7 L316.6,339.3 L317.0,339.6 L317.3,339.2 L318.1,339.7 L318.1,339.7 L317.7,339.5 L318.0,339.0 L318.4,339.3 L318.6,338.9 L319.1,339.2 L320.0,337.7 L319.7,337.2 L320.0,336.7 L319.7,336.2 L320.0,335.8 L319.7,335.3ZM308.3,296.7 L311.7,290.5 L311.2,290.4 L311.0,290.8 L310.5,290.7 L309.0,293.3 L310.2,291.2 L309.7,291.1 L309.4,291.5 L308.9,291.4 L308.7,291.9 L308.8,292.6 L308.5,293.2 L308.6,293.9 L308.3,294.6 L308.4,295.3 L308.1,295.9Z" fill="#5c2a71" fill-rule="evenodd"/>
<path d="M254.6,460.5 L253.0,463.0 L245.0,465.0 L243.2,465.0 L241.4,464.5 L239.6,464.5 L238.1,464.1 L237.8,463.5 L237.7,463.4 L237.2,462.6 L236.8,462.5 L236.0,461.0 L230.0,465.0 L234.1,462.3 L232.5,462.8 L229.8,464.5 L231.0,463.7 L228.4,464.5 L226.7,464.5 L225.0,465.0 L223.3,464.5 L222.1,464.5 L214.8,462.1 L213.9,462.3 L210.0,461.0 L200.0,461.0 L196.0,467.0 L189.0,469.0 L193.0,477.0 L202.0,477.0 L208.0,481.0 L212.0,489.0 L210.0,497.0 L210.4,498.5 L213.8,503.6 L211.3,499.9 L211.7,501.4 L213.7,504.3 L212.6,502.8 L213.1,504.3 L213.5,504.9 L214.4,504.5 L214.8,503.7 L215.5,503.4 L215.9,502.6 L216.6,502.2 L217.0,501.5 L218.0,501.0 L221.2,500.0 L222.2,499.5 L224.3,498.9 L228.4,497.6 L228.8,497.8 L229.4,497.7 L234.4,500.9 L236.1,502.2 L236.7,503.3 L237.8,504.1 L236.0,501.0 L240.0,508.0 L245.0,508.0 L249.0,506.0 L248.8,506.1 L249.7,506.7 L253.7,510.7 L254.2,511.9 L254.6,512.3 L255.6,515.5 L256.8,518.4 L257.6,518.7 L264.9,520.5 L264.4,520.4 L267.8,521.5 L276.8,523.0 L277.2,523.1 L279.5,523.5 L280.4,523.7 L283.4,524.7 L286.6,525.2 L277.0,522.0 L289.0,526.0 L298.0,528.0 L291.7,526.6 L292.7,527.3 L293.8,527.6 L294.8,528.3 L298.8,529.2 L299.0,528.1 L299.0,525.0 L299.5,522.0 L299.5,519.0 L300.0,516.0 L300.0,511.0 L300.0,505.0 L298.0,497.0 L298.0,489.0 L296.0,479.0 L291.0,475.0 L283.0,473.0 L275.0,469.0 L269.0,461.0 L267.4,459.2 L266.3,457.1 L264.7,455.2 L263.6,453.1 L263.3,452.8 L258.7,455.0 L258.2,455.8 L257.3,456.3 L255.0,460.0 L254.8,460.1ZM263.3,452.8 L262.9,452.9 L262.7,452.5 L260.1,453.8 L259.5,454.6ZM262.7,452.5 L262.2,452.7 L262.0,452.3 L261.5,452.5 L261.2,452.8 L260.9,453.4ZM298.8,529.2 L296.0,528.6 L296.9,529.3 L298.5,529.6 L298.5,529.1Z" fill="#9d78ae" fill-rule="evenodd"/>
<path d="M899.4,496.1 L898.4,496.1 L897.6,496.6 L896.6,496.6 L895.8,497.1 L894.8,497.1 L894.3,497.4 L894.2,497.6 L893.5,497.6 L888.0,505.0 L886.5,510.0 L890.0,515.3 L895.3,522.3 L893.5,529.4 L895.3,538.2 L902.3,543.5 L907.6,552.3 L912.9,562.9 L920.0,570.0 L927.0,575.2 L934.1,578.8 L937.6,575.2 L939.4,566.4 L939.4,557.6 L942.9,548.8 L948.2,543.5 L960.5,540.0 L969.3,534.7 L976.4,529.4 L976.4,522.3 L976.4,521.6 L973.3,518.5 L972.8,518.2 L972.4,517.6 L970.0,515.3 L968.6,513.4 L964.9,508.4 L964.5,507.7 L963.1,505.9 L959.0,500.4 L959.0,501.0 L958.8,501.0 L958.4,500.5 L957.8,500.5 L962.3,506.5 L957.4,500.0 L947.0,500.0 L934.0,497.0 L928.9,495.9 L926.5,495.9 L924.1,495.4 L921.8,495.4 L920.6,495.1 L919.1,495.5 L917.0,495.5 L915.4,495.9 L915.1,495.5 L914.5,495.5 L914.1,495.0 L913.5,495.0 L913.2,494.5 L912.6,494.5 L914.7,497.6 L912.3,494.0 L910.0,494.0 L906.6,492.3 L905.5,492.3 L904.5,491.8 L903.8,491.8 L900.3,497.1 L903.3,492.6 L902.3,493.2 L901.7,494.1 L900.7,494.7 L900.1,495.7ZM963.0,505.7 L961.9,503.6 L959.9,501.6ZM894.9,536.3 L893.6,530.0 L893.2,530.4 L893.3,531.0 L892.9,531.3 L893.7,532.8 L893.6,532.3 L894.1,534.7Z" fill="#bba4d5" fill-rule="evenodd"/>
<path d="M398.4,496.4 L398.1,496.7 L397.7,496.5 L397.3,496.8 L398.6,497.7 L396.9,496.5 L396.5,496.9 L398.3,498.1 L396.1,496.6 L395.8,496.9 L398.1,498.6 L395.4,496.6 L395.0,497.0 L385.0,500.0 L375.0,497.0 L365.0,495.0 L350.0,495.0 L335.0,497.0 L332.0,502.0 L330.2,509.2 L332.0,511.0 L335.0,527.0 L332.0,543.0 L333.2,546.8 L340.0,557.0 L334.2,548.3 L334.7,550.0 L335.7,551.5 L336.3,553.2 L339.2,557.6 L336.3,553.2 L337.3,554.7 L337.8,556.4 L338.8,557.9 L339.1,559.0 L339.9,559.7 L340.2,560.7 L348.5,569.0 L348.9,569.2 L349.3,570.0 L350.1,570.4 L350.5,571.1 L350.6,571.2 L351.4,571.6 L351.8,572.4 L352.6,572.9 L349.6,567.3 L353.0,573.7 L353.8,574.1 L350.0,567.0 L354.3,574.9 L360.0,578.0 L370.0,584.0 L370.2,584.4 L372.0,580.0 L377.0,567.0 L382.0,560.0 L387.0,555.0 L392.0,547.0 L395.0,540.0 L400.0,530.0 L400.0,515.0 L402.0,502.0 L402.0,501.4 L401.5,501.0 L401.5,500.4 L401.0,500.1 L401.0,499.4 L400.5,499.1 L400.5,498.5 L400.0,498.1 L400.0,497.5 L399.5,497.1 L399.5,496.5 L399.2,496.3 L398.9,496.7Z" fill="#9d78ae" fill-rule="evenodd"/>
<path d="M368.3,250.2 L368.0,250.9 L367.3,251.2 L367.0,252.0 L355.0,257.0 L335.0,265.0 L322.0,272.0 L320.0,285.0 L320.5,288.0 L320.5,291.0 L321.0,294.0 L321.0,296.8 L322.0,298.8 L322.9,301.6 L324.2,304.2 L322.0,297.0 L325.0,307.0 L330.0,305.0 L340.0,315.0 L340.4,315.3 L340.0,315.7 L340.4,316.0 L340.1,316.3 L340.5,316.7 L340.1,317.0 L341.3,318.0 L342.4,318.5 L342.9,318.6 L343.6,319.2 L344.5,319.2 L344.8,319.5 L355.0,320.5 L357.0,320.5 L362.0,321.0 L364.4,320.5 L367.0,320.5 L369.5,320.0 L372.0,320.0 L372.5,320.0 L372.7,320.5 L373.2,320.5 L373.3,321.0 L374.1,321.0 L374.1,320.5 L374.6,320.5 L374.5,320.0 L375.0,320.0 L380.0,317.0 L387.0,315.0 L391.0,310.0 L391.0,301.0 L397.0,299.0 L405.0,292.0 L405.0,282.0 L400.0,267.0 L392.0,255.0 L390.0,247.0 L380.0,250.0 L370.0,250.0 L368.2,250.8 L369.5,250.2 L369.5,249.7 L369.0,249.9 L369.0,249.9 L369.3,249.2 L369.0,249.9Z" fill="#7b508d" fill-rule="evenodd"/>
<path d="M877.9,380.5 L877.3,380.6 L877.5,380.8 L876.4,379.7 L870.3,381.2 L864.2,382.7 L864.2,387.4 L864.1,387.6 L864.1,390.4 L865.3,395.0 L864.6,392.2 L864.6,394.2 L864.9,395.2 L867.0,399.5 L867.8,400.1 L868.2,400.7 L868.1,400.8 L868.5,401.1 L862.7,405.5 L855.2,411.5 L853.6,417.6 L852.1,425.2 L849.1,431.2 L844.5,438.8 L845.0,439.8 L844.7,440.3 L847.0,444.7 L847.6,444.8 L855.2,447.9 L862.7,449.4 L870.3,450.9 L877.9,446.4 L885.5,441.8 L893.0,438.8 L900.6,435.8 L905.2,434.2 L909.7,429.7 L915.8,428.2 L921.8,426.7 L927.9,426.7 L929.4,423.6 L930.9,417.6 L938.5,416.1 L946.0,414.5 L953.6,411.5 L958.2,407.0 L957.8,407.4 L958.2,405.5 L958.2,405.5 L957.3,407.4 L952.1,394.8 L946.0,393.3 L941.5,390.3 L937.0,387.3 L929.4,387.3 L924.8,381.2 L923.3,376.7 L918.8,374.4 L914.2,374.4 L912.7,378.2 L921.2,381.0 L914.3,383.2 L911.2,384.2 L905.2,385.8 L903.0,388.0 L900.6,390.3 L897.5,391.8 L894.5,393.3 L894.5,393.3 L890.0,391.8 L885.5,387.3 L879.4,382.7 L878.5,381.8 L878.5,381.8 L878.5,381.8 L878.3,380.9ZM865.7,398.1 L866.6,398.6 L865.1,395.6 L865.1,396.8ZM844.7,441.4 L845.7,443.4 L845.0,442.0 L844.7,442.5 L845.2,443.4 L845.8,443.5 L846.1,444.0 L846.7,444.1 L845.0,440.9Z" fill="#bba4d5" fill-rule="evenodd"/>
<path d="M213.5,504.9 L213.1,504.3 L213.6,506.1 L213.9,505.5 L213.7,504.8ZM211.3,499.9 L210.4,498.5 L210.0,497.0 L212.0,489.0 L208.0,481.0 L202.0,477.0 L193.0,477.0 L190.2,471.4 L187.9,471.4 L181.1,472.5 L174.3,472.5 L167.5,474.8 L163.0,475.9 L151.7,475.9 L144.9,479.3 L138.1,481.6 L129.0,479.3 L128.0,487.0 L130.0,495.0 L134.0,505.0 L138.0,512.0 L138.0,512.0 L140.0,520.0 L149.0,526.0 L155.0,532.0 L165.0,536.0 L185.0,540.0 L192.6,552.3 L192.6,552.3 L196.3,544.8 L209.5,544.8 L211.4,533.5 L207.7,518.4 L213.3,508.9 L213.6,508.2 L213.4,507.5 L213.8,506.8 L212.6,502.8 L211.7,501.4Z" fill="#9d78ae" fill-rule="evenodd"/>
<path d="M570.5,284.7 L570.9,286.8 L571.3,287.6 L571.7,288.6 L572.0,290.8 L573.8,295.4 L575.0,297.1 L575.5,298.8 L577.7,302.1 L576.6,300.4 L577.2,302.1 L577.2,302.3 L577.3,302.5 L578.1,304.9 L578.2,306.4 L578.9,307.5 L579.0,308.7 L582.2,314.0 L583.3,319.3 L583.8,319.3 L583.9,319.8 L584.4,319.8 L584.5,320.2 L584.9,319.8 L585.7,319.8 L586.2,319.3 L586.9,319.3 L592.7,316.4 L593.7,315.9 L594.0,315.9 L594.7,315.4 L598.5,313.5 L604.3,307.7 L611.5,304.8 L613.0,299.0 L613.0,293.2 L617.3,288.9 L624.5,287.4 L633.2,281.6 L637.6,277.3 L639.0,270.0 L637.6,261.4 L631.8,261.4 L630.3,257.0 L627.3,258.1 L626.0,258.5 L618.5,261.1 L620.2,258.5 L623.0,254.1 L621.6,248.3 L618.7,242.5 L613.0,242.5 L605.7,244.0 L601.4,241.1 L598.5,233.8 L595.6,228.0 L589.8,228.0 L584.0,229.5 L576.7,228.0 L569.5,225.1 L563.7,222.2 L555.0,222.2 L554.5,222.2 L554.5,222.7 L555.0,223.1 L555.0,223.7 L560.0,225.0 L560.0,240.0 L562.0,255.0 L567.0,265.0 L570.0,277.0 L567.6,281.2 L568.4,282.0 L569.1,283.3Z" fill="#9d78ae" fill-rule="evenodd"/>
<path d="M597.6,541.9 L597.0,542.0 L602.0,530.0 L600.0,517.0 L597.0,505.0 L592.0,500.0 L585.0,502.0 L575.0,505.0 L567.0,510.0 L555.0,512.0 L545.0,512.0 L540.0,505.0 L535.0,515.0 L535.0,530.0 L535.0,542.0 L525.0,555.0 L520.0,565.0 L525.0,572.0 L530.0,577.0 L530.0,580.0 L537.0,588.3 L548.0,592.5 L557.7,591.1 L564.7,593.9 L570.2,598.0 L569.6,598.2 L570.2,598.6 L570.7,598.2 L571.1,597.1 L573.0,595.2 L575.7,586.9 L575.7,581.3 L576.0,580.0 L572.0,570.0 L570.0,562.0 L582.0,555.0 L590.0,547.0 L596.8,542.2 L597.5,542.0Z" fill="#9d78ae" fill-rule="evenodd"/>
<path d="M757.2,605.5 L757.2,605.3 L757.4,604.9 L756.7,605.1 L757.1,604.5 L756.4,604.6 L756.8,604.0 L756.1,604.2 L754.9,604.9 L753.5,605.2 L752.3,606.0 L751.9,606.1 L751.1,605.7 L750.3,605.9 L749.5,605.5 L749.0,605.6 L748.6,605.7 L747.8,605.4 L746.9,605.5 L746.1,605.2 L745.3,605.4 L744.9,605.9 L744.2,606.1 L743.9,606.7 L743.2,606.8 L742.8,607.4 L742.1,607.5 L741.8,608.1 L741.1,608.2 L740.7,608.8 L735.0,610.0 L734.3,609.6 L733.6,609.7 L733.0,609.3 L732.3,609.5 L731.7,609.1 L731.6,609.1 L731.2,609.4 L730.8,609.1 L730.4,609.5 L729.9,609.2 L729.5,609.5 L729.1,609.2 L728.7,609.6 L728.2,609.3 L727.8,609.6 L727.4,609.4 L724.1,612.0 L721.8,613.6 L720.0,614.0 L717.5,614.0 L716.5,614.2 L716.2,614.0 L715.4,614.0 L714.7,613.5 L713.9,613.5 L713.2,613.0 L712.4,613.0 L711.7,612.5 L710.9,612.5 L710.3,612.1 L709.8,612.3 L709.4,612.0 L708.9,612.2 L708.9,612.2 L705.6,613.3 L702.6,614.8 L700.2,615.5 L699.5,616.2 L698.6,616.4 L697.8,617.2 L695.9,617.7 L695.9,624.0 L693.4,630.3 L695.9,636.6 L690.8,642.9 L690.8,650.5 L691.7,654.5 L693.3,657.7 L693.4,658.0 L693.2,658.6 L693.5,659.2 L693.3,659.9 L693.6,660.5 L693.5,660.8 L693.8,660.9 L694.4,661.1 L695.1,661.3 L700.2,663.0 L706.9,661.3 L715.4,663.0 L720.5,664.7 L725.6,666.4 L727.3,671.4 L730.6,676.5 L737.4,679.9 L744.2,681.6 L751.0,679.9 L757.7,679.9 L762.8,681.6 L762.8,688.4 L764.5,696.8 L767.9,701.1 L771.3,698.5 L773.0,688.4 L776.4,679.9 L781.4,671.4 L788.2,663.0 L783.1,659.6 L776.4,656.2 L767.9,652.8 L762.8,642.7 L761.1,635.9 L764.5,630.8 L762.8,620.6 L759.4,613.9 L757.7,605.4Z" fill="#bba4d5" fill-rule="evenodd"/>
<path d="M640.4,415.8 L646.4,422.7 L641.7,417.3 L642.6,419.1 L646.3,423.3 L647.7,422.6 L648.9,421.4 L652.7,418.9 L653.9,411.3 L660.2,412.6 L666.5,415.1 L671.6,418.9 L680.4,420.2 L685.4,423.9 L687.9,427.7 L695.5,426.4 L701.8,427.7 L703.0,434.0 L706.8,432.7 L711.9,426.4 L718.2,426.4 L725.7,427.7 L730.8,427.7 L732.0,420.0 L730.0,407.0 L727.0,395.0 L730.7,393.2 L735.7,390.7 L739.5,385.6 L742.0,378.1 L740.8,370.5 L743.3,365.5 L745.8,357.9 L747.0,350.4 L744.5,346.6 L738.2,350.4 L735.7,359.2 L729.4,364.2 L725.6,370.5 L718.1,370.5 L718.1,370.5 L713.0,368.0 L711.3,365.9 L708.0,361.7 L708.0,361.7 L700.5,361.7 L694.2,358.0 L689.1,361.7 L684.0,366.8 L676.5,373.0 L671.5,378.1 L670.2,383.1 L662.7,385.6 L652.6,385.6 L645.0,381.9 L641.3,378.1 L637.0,377.0 L640.0,385.0 L637.0,395.0 L637.0,405.0 L640.0,415.0ZM643.9,420.6 L644.8,422.4 L645.9,423.7 L646.3,423.3Z" fill="#9d78ae" fill-rule="evenodd"/>
<path d="M949.9,445.3 L948.4,445.1 L947.4,445.4 L946.3,445.2 L946.1,445.3 L943.8,445.3 L942.6,445.1 L941.4,445.3 L939.8,445.3 L939.6,445.1 L939.0,445.2 L938.6,444.8 L937.5,445.0 L937.4,445.5 L938.2,445.3 L936.9,445.6 L936.8,446.1 L936.3,446.2 L936.0,447.7 L938.8,451.4 L939.2,452.7 L942.0,457.0 L947.0,467.0 L953.0,483.0 L958.0,494.0 L958.0,499.0 L958.5,499.1 L958.5,499.7 L958.7,499.7 L962.3,503.3 L964.9,508.4 L968.6,513.4 L970.0,515.3 L972.4,517.6 L972.8,518.2 L973.3,518.5 L975.1,520.3 L976.4,521.2 L976.4,520.8 L976.6,520.7 L981.6,519.4 L985.4,516.9 L987.9,511.9 L991.7,508.1 L993.6,504.2 L994.2,503.0 L996.8,498.0 L1004.3,495.5 L1011.9,494.2 L1020.7,494.2 L1028.2,495.5 L1033.3,491.7 L1039.6,487.9 L1039.6,480.4 L1035.8,474.1 L1035.5,473.1 L1033.3,465.3 L1030.8,455.2 L1025.7,453.9 L1018.2,452.7 L1013.1,448.9 L1005.6,446.4 L1004.6,446.1 L1001.0,446.8 L1000.7,446.9 L1000.3,446.9 L999.3,447.1 L998.1,446.9 L994.9,446.9 L993.8,446.7 L988.7,445.4 L984.5,444.6 L986.1,444.9 L984.1,444.1 L983.5,443.4 L982.6,443.0 L982.0,442.2 L980.9,441.8 L973.3,438.8 L973.0,437.7 L972.8,437.6 L970.3,430.0 L970.3,430.0 L970.2,429.5 L969.7,429.7 L969.6,429.5 L966.2,430.6 L964.8,431.5 L962.2,434.1 L961.4,434.3 L961.0,434.8 L962.5,434.5 L960.3,435.0 L959.9,435.6 L959.2,435.7 L958.2,437.3 L955.2,441.8 L954.1,442.2 L953.9,442.6 L953.7,442.8 L952.7,443.2 L950.0,445.9 L951.9,443.9 L950.9,444.3ZM962.3,503.3 L959.0,500.0 L959.0,500.4 L959.9,501.6 L961.9,503.6 L963.0,505.7 L963.1,505.9 L964.5,507.7Z" fill="#7b508d" fill-rule="evenodd"/>
<path d="M468.0,493.4 L468.0,494.0 L468.5,494.3 L468.5,494.9 L469.0,495.2 L469.0,495.8 L469.5,496.1 L469.5,496.7 L470.0,497.0 L470.0,505.0 L465.0,515.0 L467.0,530.0 L467.0,540.0 L465.0,550.0 L475.0,555.0 L485.0,555.0 L497.0,562.0 L510.0,570.0 L520.0,565.0 L525.0,555.0 L535.0,542.0 L535.0,530.0 L535.0,515.0 L540.0,505.0 L540.0,492.0 L535.0,482.0 L525.0,482.0 L515.0,477.0 L505.0,482.0 L495.0,485.0 L480.0,485.0 L470.0,490.0 L469.5,490.1 L469.5,490.6 L469.0,490.8 L469.0,491.3 L468.5,491.4 L468.5,491.9 L468.0,492.0 L468.0,492.6 L467.5,492.7 L467.5,493.1Z" fill="#5c2a71" fill-rule="evenodd"/>
<path d="M399.5,496.5 L399.5,497.1 L400.0,497.5 L400.0,498.1 L400.5,498.5 L400.5,499.1 L401.0,499.4 L401.0,500.1 L401.5,500.4 L401.5,501.0 L402.0,501.4 L402.0,502.0 L400.0,515.0 L400.0,530.0 L395.0,540.0 L392.0,547.0 L387.0,555.0 L392.5,555.0 L393.8,555.5 L394.8,555.5 L395.9,556.6 L398.0,558.0 L400.0,560.0 L410.0,567.0 L420.0,575.0 L430.0,582.0 L437.0,587.0 L445.0,590.0 L450.0,580.0 L445.0,570.0 L455.0,560.0 L465.0,550.0 L467.0,540.0 L467.0,530.0 L465.0,515.0 L470.0,505.0 L470.0,497.0 L469.5,496.7 L469.5,496.1 L469.0,495.8 L469.0,495.2 L468.5,494.9 L468.5,494.3 L465.2,492.2 L464.5,492.4 L463.9,492.0 L463.3,492.2 L462.7,491.8 L462.0,492.0 L457.0,487.0 L450.0,482.0 L445.0,487.0 L435.0,500.0 L430.0,505.0 L425.0,502.0 L415.0,500.0 L405.0,497.0 L402.0,490.0 L401.5,490.5 L401.5,491.2 L401.0,491.7 L401.0,492.4 L400.5,492.9 L400.5,493.6 L400.0,494.1 L400.0,494.8 L399.5,495.3 L399.5,496.0 L399.2,496.3ZM467.7,492.6 L467.1,492.8 L466.5,492.4 L465.8,492.6 L468.0,494.0 L468.0,493.4 L467.5,493.1 L467.5,492.7Z" fill="#bba4d5" fill-rule="evenodd"/>
<path d="M748.0,457.0 L759.0,454.0 L768.0,449.0 L773.0,437.0 L776.0,424.0 L781.0,421.0 L790.0,419.3 L793.5,408.8 L791.8,398.2 L793.5,389.4 L797.1,380.5 L800.6,373.5 L799.1,367.7 L797.8,369.6 L793.5,366.4 L787.1,362.1 L781.8,357.8 L776.4,356.7 L772.1,352.5 L770.0,347.1 L766.8,341.7 L766.3,341.2 L766.3,340.5 L765.8,340.0 L765.8,339.3 L765.3,338.8 L765.3,338.1 L765.2,338.0 L764.7,338.1 L764.1,338.3 L763.6,338.5 L760.3,339.6 L756.0,341.7 L751.8,342.8 L748.6,345.0 L746.8,350.1 L745.0,347.3 L747.0,350.4 L745.8,357.9 L743.3,365.5 L740.8,370.5 L742.0,378.1 L739.5,385.6 L735.7,390.7 L730.7,393.2 L727.0,395.0 L730.0,407.0 L732.0,420.0 L730.8,427.7 L730.4,427.7 L731.2,429.4 L731.7,431.6 L733.7,435.5 L735.2,438.0 L735.0,437.0 L737.0,447.0 L742.0,455.0Z" fill="#bba4d5" fill-rule="evenodd"/>
<path d="M605.2,458.9 L604.6,458.6 L604.4,457.9 L603.8,457.6 L603.6,456.9 L603.0,456.6 L602.8,456.0 L602.2,455.7 L602.0,455.0 L595.0,445.0 L585.0,440.0 L575.0,435.0 L562.0,432.0 L552.0,427.0 L551.2,427.6 L550.0,430.0 L544.0,433.0 L542.9,434.1 L541.5,434.8 L540.3,435.9 L538.9,436.7 L537.8,437.8 L536.4,438.5 L536.2,438.7 L535.8,438.8 L533.3,440.0 L536.5,439.1 L530.7,440.7 L528.2,442.0 L529.9,441.5 L525.4,442.9 L522.8,444.2 L520.0,445.0 L512.0,452.0 L511.3,454.5 L510.1,456.9 L506.6,469.7 L507.0,470.0 L515.0,477.0 L525.0,482.0 L535.0,482.0 L540.0,492.0 L540.0,505.0 L545.0,512.0 L555.0,512.0 L567.0,510.0 L575.0,505.0 L585.0,502.0 L592.0,500.0 L595.0,487.0 L600.0,480.0 L602.0,470.0 L605.0,465.0 L602.6,456.9 L604.1,462.0 L604.6,462.0 L603.7,459.0 L604.5,461.5 L605.0,461.5 L604.1,458.6 L604.8,461.0 L605.4,461.0 L604.8,459.0 L605.2,460.5 L605.7,460.5 L605.6,460.0 L606.1,460.0 L606.1,459.8 L605.4,459.5ZM505.1,465.7 L505.5,466.0 L505.4,466.5 L505.8,466.8 L505.7,467.3 L506.1,467.6 L507.2,463.5 L507.1,464.0 L506.6,464.0 L506.5,464.5 L505.9,464.5 L505.8,465.0 L505.3,465.0ZM507.2,463.5 L506.0,468.1 L506.4,468.4 L506.3,468.9 L506.7,469.2 L509.4,459.4 L508.3,461.7 L507.8,463.5Z" fill="#7b508d" fill-rule="evenodd"/>
<path d="M635.8,455.1 L635.5,455.3 L635.5,456.2 L635.8,457.8 L637.5,459.5 L640.1,463.0 L643.2,463.6 L644.8,464.4 L646.3,464.7 L647.9,465.4 L659.6,471.3 L660.6,471.8 L661.8,472.8 L665.0,476.0 L670.0,480.0 L670.1,480.1 L673.8,482.3 L677.6,485.3 L680.0,487.0 L680.1,487.3 L680.2,487.3 L680.8,487.6 L681.0,488.2 L682.2,488.6 L682.7,488.2 L683.2,488.4 L683.7,488.0 L684.2,488.2 L684.3,488.1 L692.0,482.0 L702.0,480.0 L707.7,478.3 L708.1,478.1 L708.7,478.0 L712.0,477.0 L714.4,477.0 L715.6,476.8 L716.6,477.0 L722.0,477.0 L730.0,480.0 L731.4,481.6 L732.3,481.9 L732.9,482.7 L733.8,483.0 L734.4,483.7 L735.2,484.0 L736.0,483.6 L737.5,483.2 L737.9,482.6 L738.7,482.4 L740.8,479.6 L740.8,478.7 L741.3,478.0 L741.3,475.7 L741.6,474.5 L741.6,472.5 L742.1,470.5 L742.1,470.2 L745.1,467.2 L745.4,467.2 L747.1,465.5 L748.4,459.2 L747.6,456.9 L742.0,455.0 L737.0,447.0 L735.2,438.0 L733.7,435.5 L731.7,431.6 L731.2,429.4 L730.4,427.7 L725.7,427.7 L718.2,426.4 L711.9,426.4 L706.8,432.7 L703.0,434.0 L701.8,427.7 L695.5,426.4 L687.9,427.7 L685.4,423.9 L680.4,420.2 L671.6,418.9 L666.5,415.1 L660.2,412.6 L653.9,411.3 L652.7,418.9 L648.9,421.4 L647.7,422.6 L646.3,423.3 L646.3,423.3 L645.9,423.7 L645.6,423.3 L645.4,423.5 L645.4,423.6 L645.9,424.6 L645.9,428.0 L646.4,431.7 L646.4,435.5 L647.0,440.0 L645.0,450.0 L635.7,454.6Z" fill="#bba4d5" fill-rule="evenodd"/>
<path d="M322.0,672.0 L329.0,669.0 L325.0,656.0 L325.0,644.0 L335.0,641.0 L347.0,644.0 L357.0,641.0 L360.0,634.0 L363.0,625.0 L366.0,619.0 L373.0,612.0 L373.0,603.0 L366.0,597.0 L347.0,597.0 L332.0,593.0 L319.0,590.0 L310.0,590.0 L297.0,587.0 L288.0,584.0 L288.0,583.0 L287.5,582.7 L287.5,582.2 L287.1,582.0 L287.0,582.5 L273.8,588.2 L271.8,599.5 L273.8,610.9 L266.2,622.2 L265.7,622.9 L265.7,623.7 L265.2,624.4 L265.2,624.5 L265.7,624.7 L266.2,625.0 L272.0,628.0 L278.0,631.0 L284.0,637.0 L291.0,644.0 L297.0,653.0 L303.0,660.0 L313.0,669.0ZM373.0,603.0 L372.9,602.2 L366.7,597.0 L366.4,597.3ZM368.6,597.2 L368.2,596.9 L367.9,597.3 L367.5,596.9 L367.1,597.3 L372.3,601.7 L372.2,601.0 L371.6,600.5 L371.5,599.7 L370.9,599.2 L370.8,598.4 L370.2,597.9 L370.1,597.2 L369.7,596.9 L369.3,597.2 L368.9,596.9Z" fill="#bba4d5" fill-rule="evenodd"/>
<path d="M687.0,615.0 L695.0,620.0 L695.9,619.1 L695.9,617.7 L697.8,617.2 L698.6,616.4 L699.5,616.2 L700.2,615.5 L702.6,614.8 L705.6,613.3 L708.9,612.2 L708.9,612.2 L709.4,612.0 L709.8,612.3 L710.3,612.1 L710.9,612.5 L711.7,612.5 L712.4,613.0 L713.2,613.0 L713.9,613.5 L714.7,613.5 L715.4,614.0 L716.2,614.0 L716.5,614.2 L717.5,614.0 L720.0,614.0 L721.8,613.6 L724.1,612.0 L727.4,609.4 L727.8,609.6 L728.2,609.3 L728.7,609.6 L729.1,609.2 L729.5,609.5 L729.9,609.2 L730.4,609.5 L730.8,609.1 L731.2,609.4 L731.6,609.1 L731.7,609.1 L732.3,609.5 L733.0,609.3 L733.6,609.7 L734.3,609.6 L735.0,610.0 L740.7,608.8 L741.1,608.2 L741.8,608.1 L742.1,607.5 L742.8,607.4 L743.2,606.8 L743.9,606.7 L744.2,606.1 L744.9,605.9 L745.3,605.4 L745.9,605.2 L746.0,605.1 L745.5,604.9 L745.8,604.5 L745.3,604.3 L745.6,603.9 L745.1,603.7 L745.4,603.3 L744.9,603.1 L745.2,602.6 L744.7,602.4 L745.0,602.0 L742.0,595.0 L745.0,585.0 L747.0,575.0 L743.6,560.0 L742.1,552.0 L740.0,552.0 L732.0,552.0 L722.0,550.0 L715.0,547.0 L707.0,542.0 L702.0,535.0 L697.0,530.0 L690.0,532.0 L685.0,527.0 L680.0,530.0 L675.0,537.0 L674.0,537.6 L673.3,538.7 L672.3,539.3 L671.6,540.3 L670.6,541.0 L669.9,542.0 L668.9,542.6 L668.1,543.7 L667.8,545.2 L666.9,546.4 L666.6,547.8 L665.7,549.1 L665.5,550.1 L665.3,550.6 L664.6,551.8 L662.8,556.4 L662.8,557.9 L662.0,560.0 L662.0,563.9 L661.5,565.9 L661.5,568.0 L661.2,569.2 L661.8,574.0 L663.0,580.3 L663.6,585.6 L664.2,586.7 L665.9,589.0 L666.9,591.0 L666.7,591.7 L667.0,592.4 L666.8,593.1 L667.2,593.8 L667.0,594.5 L667.3,595.2 L667.1,596.0 L667.5,596.7 L667.4,597.0 L667.8,597.3 L668.3,598.3 L669.2,598.9 L669.4,599.5 L670.1,599.6 L670.3,600.1 L671.0,600.3 L671.2,600.8 L671.8,600.9 L672.1,601.5 L672.7,601.6 L673.0,602.1 L673.6,602.2 L675.0,605.0 L680.0,610.0ZM695.0,555.0 L705.0,552.0 L715.0,550.0 L725.0,555.0 L730.0,562.0 L730.0,575.0 L730.0,585.0 L725.0,590.0 L715.0,587.0 L710.0,582.0 L700.0,580.0 L692.0,575.0 L690.0,567.0 L690.0,560.0Z" fill="#7b508d" fill-rule="evenodd"/>
<path d="M127.0,412.2 L126.7,412.5 L124.8,414.4 L123.3,415.9 L120.0,420.4 L116.5,426.1 L114.3,431.7 L113.1,437.4 L105.2,441.9 L104.1,445.3 L106.3,452.1 L115.4,458.9 L121.0,463.5 L122.2,472.5 L126.7,477.0 L129.0,479.3 L129.0,479.3 L138.1,481.6 L144.9,479.3 L151.7,475.9 L163.0,475.9 L167.5,474.8 L174.3,472.5 L181.1,472.5 L187.9,471.4 L190.2,471.4 L189.0,469.0 L196.0,467.0 L200.0,461.0 L200.3,461.0 L199.2,456.7 L203.8,449.9 L201.5,443.0 L203.8,437.4 L200.4,432.9 L195.8,429.2 L195.7,428.5 L195.2,428.1 L195.4,427.2 L195.2,425.9 L194.7,428.3 L195.8,422.7 L192.5,417.0 L189.0,411.3 L186.8,406.8 L185.1,407.5 L185.1,407.4 L185.1,407.5 L184.2,407.8 L182.8,407.8 L181.0,408.5 L181.5,408.3 L179.8,408.3 L176.4,407.8 L175.0,407.8 L165.9,406.3 L165.9,406.4 L165.2,406.2 L158.7,407.8 L145.6,411.0 L137.9,411.0 L133.5,412.5 L136.5,411.5 L134.9,411.5 L133.4,412.0 L126.8,412.0Z" fill="#e3d5f3" fill-rule="evenodd"/>
<path d="M232.6,375.7 L232.4,376.4 L231.8,376.9 L231.6,377.6 L231.0,378.1 L230.8,378.8 L230.2,379.3 L230.0,380.0 L225.0,390.0 L215.0,392.0 L205.0,390.0 L195.0,395.0 L187.0,400.0 L185.0,407.0 L185.1,407.5 L186.8,406.8 L189.0,411.3 L192.5,417.0 L195.8,422.7 L195.2,425.9 L195.4,427.2 L195.2,428.1 L195.7,428.5 L195.8,429.2 L200.4,432.9 L203.8,437.4 L201.5,443.0 L203.8,449.9 L199.7,455.9 L199.3,457.2 L200.3,461.0 L210.0,461.0 L213.9,462.3 L215.0,462.0 L214.8,462.1 L222.1,464.5 L223.3,464.5 L225.0,465.0 L226.8,464.4 L226.7,464.5 L228.4,464.5 L231.0,463.7 L232.5,462.8 L234.1,462.3 L236.0,461.0 L236.8,462.5 L237.9,462.9 L234.0,457.0 L234.0,448.0 L240.0,442.0 L245.0,438.0 L251.0,440.0 L257.0,444.0 L257.0,454.0 L254.1,460.4 L255.0,460.0 L260.0,452.0 L257.3,456.3 L258.2,455.8 L260.4,452.3 L258.7,455.0 L259.5,454.6 L260.1,453.8 L260.9,453.4 L261.2,452.8 L261.5,452.5 L262.0,452.3 L261.8,452.0 L261.5,452.5 L262.1,451.6 L261.9,451.1 L262.2,450.6 L262.0,450.3 L262.0,450.1 L262.5,449.4 L262.5,448.5 L263.0,447.8 L263.0,446.0 L266.0,440.0 L266.7,436.7 L265.0,430.0 L267.0,420.0 L270.0,410.0 L280.0,405.0 L285.0,400.0 L280.0,395.0 L270.0,392.0 L260.0,387.0 L252.0,382.0 L247.0,375.0 L237.0,375.0 L236.6,375.3 L236.3,374.9 L233.0,377.2 L235.9,375.2 L235.6,374.8 L235.2,375.1 L234.9,374.6 L234.5,374.9 L234.2,374.5 L233.8,374.8 L233.5,374.4 L233.4,374.5 L233.3,375.2Z" fill="#9d78ae" fill-rule="evenodd"/>
<path d="M395.0,440.0 L397.0,450.0 L405.0,460.0 L410.0,470.0 L410.0,480.0 L402.0,490.0 L405.0,497.0 L415.0,500.0 L425.0,502.0 L430.0,505.0 L435.0,500.0 L445.0,487.0 L450.0,482.0 L457.0,487.0 L462.0,492.0 L462.7,491.8 L463.3,492.2 L463.9,492.0 L464.5,492.4 L465.2,492.2 L465.8,492.6 L466.5,492.4 L467.1,492.8 L467.7,492.6 L468.0,492.6 L468.0,492.0 L468.5,491.9 L468.5,491.4 L469.0,491.3 L469.0,490.8 L469.5,490.6 L469.5,490.1 L470.0,490.0 L480.0,485.0 L495.0,485.0 L505.0,482.0 L515.0,477.0 L507.0,470.0 L506.6,469.7 L506.7,469.2 L498.5,463.7 L506.3,468.9 L506.4,468.4 L506.0,468.1 L506.1,467.6 L505.7,467.3 L505.8,466.8 L505.4,466.5 L505.5,466.0 L504.0,465.0 L503.3,464.5 L502.4,464.5 L501.6,464.0 L500.7,464.0 L500.0,463.5 L499.1,463.5 L498.3,463.0 L497.4,463.0 L496.7,462.5 L495.8,462.5 L495.0,462.0 L485.0,455.0 L475.0,445.0 L470.0,435.0 L467.0,425.0 L460.0,422.0 L450.0,422.0 L446.3,421.3 L449.5,421.9 L449.5,421.4 L445.7,420.6 L445.0,421.0 L444.2,420.8 L443.1,421.4 L434.8,418.6 L429.2,427.0 L422.0,427.0 L421.0,427.0 L420.4,425.9 L419.6,425.3 L419.1,424.3 L415.4,421.7 L415.6,422.2 L415.5,422.3 L415.0,422.0 L405.0,427.0 L400.0,435.0ZM446.5,420.8 L449.0,421.3 L449.0,420.8 L448.5,420.7 L448.5,420.3 L448.0,420.6 L447.2,420.4ZM416.6,421.9 L415.8,421.3 L416.2,422.2 L418.2,423.7 L417.7,422.7 L416.9,422.1 L416.1,420.9 L416.3,421.3Z" fill="#5c2a71" fill-rule="evenodd"/>
<path d="M844.4,443.2 L843.9,443.2 L843.6,443.6 L843.2,443.5 L843.2,443.4 L842.9,444.0 L839.4,437.0 L834.1,435.2 L825.3,433.5 L816.5,431.7 L807.6,433.5 L800.6,429.9 L797.1,422.9 L790.0,419.3 L781.0,421.0 L776.0,424.0 L773.0,437.0 L768.0,449.0 L759.0,454.0 L748.0,457.0 L747.6,456.9 L748.4,459.2 L747.1,465.5 L745.4,467.2 L757.2,468.7 L766.3,474.8 L770.8,480.8 L775.4,485.4 L781.4,491.4 L787.5,492.9 L792.0,491.4 L796.5,494.4 L801.1,500.5 L805.6,509.6 L808.6,514.1 L814.7,512.6 L816.2,506.5 L822.2,500.5 L828.3,497.5 L835.9,491.4 L841.9,488.4 L848.0,485.4 L852.5,479.3 L854.0,471.8 L860.0,464.2 L867.6,459.7 L869.1,452.1 L870.3,450.9 L862.7,449.4 L855.2,447.9 L847.6,444.8 L847.0,444.7 L846.7,444.1 L846.1,444.0 L845.8,443.5 L845.2,443.4 L844.9,442.8 L844.6,442.8Z" fill="#bba4d5" fill-rule="evenodd"/>
<path d="M662.0,560.0 L662.8,557.9 L662.8,556.4 L663.2,555.3 L663.2,555.3 L662.8,556.4 L658.5,560.6 L650.0,556.4 L639.2,552.0 L632.8,552.0 L622.0,547.8 L611.4,545.6 L600.7,541.4 L597.6,541.9 L597.5,542.0 L596.8,542.2 L590.0,547.0 L582.0,555.0 L570.0,562.0 L572.0,570.0 L576.0,580.0 L575.7,581.3 L575.7,586.9 L573.0,595.2 L571.1,597.1 L570.7,598.2 L570.2,598.6 L569.7,598.3 L569.0,598.8 L567.8,599.1 L565.8,600.6 L566.7,599.9 L565.4,600.3 L565.2,600.3 L564.4,601.4 L563.3,602.1 L562.5,603.2 L561.3,603.8 L560.5,604.9 L556.3,613.2 L553.6,621.6 L559.1,629.9 L563.3,635.4 L564.2,634.8 L564.8,633.9 L565.7,633.3 L566.9,631.4 L566.3,632.4 L567.7,631.5 L568.5,631.6 L569.2,631.2 L569.9,631.4 L570.2,631.2 L570.8,631.0 L572.8,631.3 L579.3,628.1 L586.7,629.2 L587.0,628.9 L587.5,629.0 L590.9,625.0 L592.3,623.6 L596.7,620.1 L599.0,618.4 L604.2,616.6 L606.9,615.9 L611.5,611.4 L613.5,610.6 L618.3,608.5 L620.1,609.1 L622.1,610.3 L625.3,611.4 L626.1,611.0 L630.6,611.0 L638.1,610.0 L645.6,606.7 L648.8,603.5 L656.3,601.4 L659.1,598.6 L660.0,598.3 L660.6,597.7 L662.5,597.2 L663.6,596.7 L664.0,597.0 L666.1,596.0 L667.0,592.4 L666.7,591.7 L665.7,595.7 L666.9,591.0 L665.9,589.0 L664.2,586.7 L663.6,585.6 L663.7,586.0 L663.0,580.3 L661.8,574.0 L661.2,569.2 L661.5,568.0 L661.5,565.9 L662.0,563.9ZM666.1,596.0 L664.5,596.8 L665.0,597.1 L665.5,596.9 L666.0,597.2 L666.5,597.0 L666.9,597.3 L667.4,597.1 L667.5,596.7 L667.1,596.0 L667.3,595.2 L667.0,594.5 L667.2,593.8 L666.8,593.1 L667.0,592.4Z" fill="#7b508d" fill-rule="evenodd"/>
<path d="M329.0,669.0 L322.0,672.0 L325.0,682.0 L335.0,691.0 L338.0,700.0 L344.0,707.0 L357.0,710.0 L370.0,713.0 L382.0,716.0 L392.0,704.0 L401.0,697.0 L410.0,700.0 L417.0,707.0 L426.0,710.0 L436.0,713.0 L439.0,700.0 L436.0,685.0 L429.0,672.0 L417.0,666.0 L404.0,663.0 L398.0,653.0 L392.0,644.0 L382.0,637.0 L373.0,631.0 L363.0,625.0 L360.0,634.0 L357.0,641.0 L347.0,644.0 L335.0,641.0 L325.0,644.0 L325.0,656.0Z" fill="#e3d5f3" fill-rule="evenodd"/>
<path d="M666.9,597.3 L666.5,597.0 L666.0,597.2 L665.5,596.9 L665.0,597.1 L664.5,596.8 L664.0,597.0 L663.6,596.7 L668.6,600.4 L671.2,600.8 L671.0,600.3 L670.3,600.1 L670.1,599.6 L669.0,599.4 L669.4,599.5 L669.2,598.9 L668.3,598.3 L667.8,597.3 L667.4,597.0 L667.4,597.1ZM668.6,600.4 L663.6,596.7 L662.5,597.2 L663.2,597.1 L660.6,597.7 L660.0,598.3 L659.1,598.6 L656.3,601.4 L648.8,603.5 L645.6,606.7 L638.1,610.0 L630.6,611.0 L626.1,611.0 L625.3,611.4 L622.1,610.3 L620.1,609.1 L618.3,608.5 L613.5,610.6 L611.5,611.4 L606.9,615.9 L604.2,616.6 L599.0,618.4 L596.7,620.1 L592.3,623.6 L590.9,625.0 L587.5,629.0 L587.0,628.9 L586.7,629.2 L579.3,628.1 L572.8,631.3 L570.8,631.0 L570.2,631.2 L569.9,631.4 L569.2,631.2 L566.0,633.2 L568.5,631.6 L567.7,631.5 L566.3,632.4 L565.7,633.3 L564.8,633.9 L564.2,634.8 L563.3,635.4 L560.5,638.2 L563.2,639.5 L566.0,640.9 L573.0,646.0 L580.0,651.7 L586.3,651.7 L592.6,649.2 L601.4,647.9 L605.2,650.5 L611.5,654.2 L619.0,658.0 L621.6,663.0 L627.9,668.1 L632.9,670.6 L640.5,673.1 L650.5,674.4 L660.6,675.6 L668.2,675.6 L677.0,676.9 L683.3,676.9 L687.1,671.9 L690.8,665.6 L691.7,663.0 L692.6,660.5 L693.0,660.6 L693.5,660.8 L693.6,660.5 L693.3,659.9 L693.5,659.2 L693.2,658.6 L693.4,658.0 L693.3,657.7 L691.7,654.5 L690.8,650.5 L690.8,642.9 L695.9,636.6 L693.4,630.3 L695.9,624.0 L695.9,619.1 L695.0,620.0 L687.0,615.0 L680.0,610.0 L675.0,605.0 L673.6,602.2 L673.0,602.1 L672.7,601.6 L668.4,600.8 L672.1,601.5 L671.8,600.9Z" fill="#9d78ae" fill-rule="evenodd"/>
<path d="M803.5,359.9 L807.6,355.9 L813.0,351.8 L810.6,353.0 L807.3,355.5 L803.9,358.8ZM807.6,355.9 L802.6,360.8 L802.1,362.1 L800.0,366.4 L799.1,367.7 L800.6,373.5 L797.1,380.5 L793.5,389.4 L791.8,398.2 L793.5,408.8 L790.0,419.3 L797.1,422.9 L800.6,429.9 L807.6,433.5 L816.5,431.7 L825.3,433.5 L834.1,435.2 L839.4,437.0 L842.9,444.0 L845.0,439.8 L844.5,438.8 L849.1,431.2 L852.1,425.2 L853.6,417.6 L855.2,411.5 L862.7,405.5 L868.5,401.1 L868.1,400.8 L868.2,400.7 L867.8,400.1 L864.6,397.9 L867.0,399.5 L866.6,398.6 L865.7,398.1 L865.1,396.8 L865.1,395.6 L864.9,395.2 L864.6,394.2 L864.6,392.2 L864.1,390.4 L864.1,387.6 L864.2,387.4 L864.2,382.7 L870.3,381.2 L876.4,379.7 L877.3,380.6 L877.9,380.5 L878.3,380.9 L878.2,380.5 L876.4,373.5 L872.9,368.2 L867.6,362.9 L857.0,361.1 L853.5,355.9 L857.0,350.6 L867.6,347.0 L874.7,343.5 L874.7,336.5 L871.1,331.2 L872.9,324.1 L871.1,320.6 L864.1,317.0 L860.5,325.9 L851.7,329.4 L839.4,329.4 L828.8,333.0 L828.3,333.2 L826.6,343.1 L825.8,343.3 L822.4,344.7 L827.0,343.5 L820.0,345.3 L814.7,350.6ZM828.3,333.2 L827.7,333.4 L827.5,334.7 L827.7,336.4ZM844.6,442.8 L845.0,442.0 L844.7,441.4 L845.0,440.9 L844.7,440.3 L843.2,443.4 L843.2,443.5 L843.6,443.6 L843.9,443.2 L844.4,443.2Z" fill="#e3d5f3" fill-rule="evenodd"/>
<path d="M370.0,596.7 L370.2,597.9 L370.8,598.4 L370.9,599.2 L371.5,599.7 L371.6,600.5 L372.2,601.0 L372.3,601.7 L372.9,602.2 L373.0,603.0 L373.0,612.0 L366.0,619.0 L363.0,625.0 L373.0,631.0 L382.0,637.0 L392.0,644.0 L398.0,653.0 L404.0,663.0 L417.0,666.0 L429.0,672.0 L436.0,685.0 L442.0,688.0 L448.0,682.0 L455.0,672.0 L460.0,660.0 L460.2,659.5 L460.4,658.9 L460.7,658.4 L460.6,658.3 L459.9,656.7 L457.5,653.6 L454.5,650.7 L454.2,650.4 L454.0,650.1 L453.6,649.6 L448.4,641.7 L447.1,639.5 L446.8,639.0 L446.7,638.8 L444.8,635.8 L443.6,632.9 L442.1,630.6 L441.7,629.7 L440.0,624.7 L438.1,621.1 L436.9,620.0 L436.1,618.6 L434.9,617.5 L434.2,616.1 L433.0,615.0 L427.0,602.0 L433.0,592.0 L435.9,586.2 L430.0,582.0 L420.0,575.0 L410.0,567.0 L400.0,560.0 L398.0,558.0 L395.9,556.6 L394.8,555.5 L393.8,555.5 L392.5,555.0 L387.0,555.0 L382.0,560.0 L377.0,567.0 L372.0,580.0 L370.2,584.4 L373.0,590.0 L371.2,591.8 L371.3,592.4 L370.9,592.8 L371.0,593.4 L370.5,593.9 L370.6,594.5 L370.2,594.9 L370.3,595.5 L369.9,596.0 L370.0,596.6 L369.7,596.9 L370.1,597.2Z" fill="#bba4d5" fill-rule="evenodd"/>
<path d="M232.4,376.4 L233.3,373.1 L233.4,372.5 L233.0,372.0 L231.8,376.9ZM233.3,373.1 L232.6,375.7 L233.3,375.2 L233.4,374.5 L233.5,374.4 L233.5,374.3 L233.6,373.7ZM160.4,394.7 L163.6,401.3 L165.3,406.2 L175.0,407.8 L176.4,407.8 L179.8,408.3 L181.5,408.3 L182.8,407.8 L184.2,407.8 L185.1,407.5 L185.1,407.4 L185.0,407.0 L187.0,400.0 L195.0,395.0 L205.0,390.0 L215.0,392.0 L225.0,390.0 L230.0,380.0 L232.0,372.0 L230.2,379.3 L230.8,378.8 L232.5,371.9 L231.0,378.1 L231.6,377.6 L233.1,371.9 L231.7,369.2 L229.8,366.4 L228.8,364.5 L227.7,363.4 L227.0,362.0 L230.0,355.0 L227.9,359.8 L229.3,357.9 L230.5,355.2 L230.2,355.8 L230.9,354.8 L230.8,354.0 L231.1,352.8 L230.8,351.7 L231.1,350.6 L230.0,345.0 L227.0,341.0 L227.0,327.0 L225.0,315.0 L217.0,312.0 L205.0,307.0 L192.0,300.0 L186.0,301.0 L168.6,290.0 L158.7,293.3 L149.0,298.0 L145.6,301.5 L145.6,301.5 L147.3,308.0 L145.6,314.5 L147.3,321.0 L152.2,326.0 L155.5,331.0 L158.7,339.0 L162.0,347.3 L168.6,350.6 L171.8,358.7 L170.2,368.6 L167.0,373.5 L165.3,381.6 L162.0,388.2Z" fill="#e3d5f3" fill-rule="evenodd"/>
<path d="M361.6,427.5 L361.0,427.5 L360.8,428.0 L360.2,428.0 L360.0,428.5 L359.4,428.5 L359.2,429.0 L358.6,429.0 L358.4,429.5 L357.8,429.5 L357.6,430.0 L357.0,430.0 L350.0,435.0 L342.0,440.0 L332.0,440.0 L320.0,442.0 L310.0,447.0 L305.9,441.2 L304.0,444.0 L296.0,450.0 L291.0,455.0 L293.0,465.0 L291.0,475.0 L296.0,479.0 L298.0,489.0 L298.0,497.0 L300.0,505.0 L300.0,502.0 L316.0,505.0 L318.3,505.5 L324.0,506.0 L321.7,505.8 L329.3,507.5 L329.6,507.9 L330.0,508.0 L330.1,507.5 L330.6,507.6 L332.0,502.0 L335.0,497.0 L350.0,495.0 L365.0,495.0 L375.0,497.0 L385.0,500.0 L395.0,497.0 L395.4,496.6 L395.8,496.9 L396.1,496.6 L396.5,496.9 L396.9,496.5 L397.3,496.8 L397.7,496.5 L398.1,496.7 L398.4,496.4 L398.9,496.7 L399.5,496.0 L399.5,495.3 L400.0,494.8 L400.0,494.1 L400.5,493.6 L400.5,492.9 L401.0,492.4 L401.0,491.7 L401.5,491.2 L401.5,490.5 L402.0,490.0 L410.0,480.0 L410.0,470.0 L405.0,460.0 L397.0,450.0 L395.0,440.0 L385.0,435.0 L377.0,432.0 L367.0,430.0 L366.4,430.0 L366.2,429.5 L365.6,429.5 L365.4,429.0 L364.8,429.0 L364.6,428.5 L364.0,428.5 L363.8,428.0 L363.2,428.0 L363.0,427.5 L362.4,427.5 L362.1,427.0 L361.9,427.0Z" fill="#7b508d" fill-rule="evenodd"/>
<path d="M606.1,460.0 L605.6,460.0 L605.7,460.5 L605.2,460.5 L605.4,461.0 L604.8,461.0 L605.0,461.5 L604.5,461.5 L604.6,462.0 L604.1,462.0 L605.0,465.0 L602.0,470.0 L600.0,480.0 L595.0,487.0 L592.0,500.0 L597.0,505.0 L600.0,517.0 L602.0,530.0 L597.0,542.0 L600.7,541.4 L611.4,545.6 L622.0,547.8 L632.8,552.0 L639.2,552.0 L650.0,556.4 L658.5,560.6 L662.8,556.4 L663.2,555.3 L663.2,555.3 L664.6,551.8 L665.3,550.6 L665.5,550.1 L665.7,549.1 L666.6,547.8 L666.9,546.4 L667.8,545.2 L668.3,543.0 L669.9,542.0 L670.6,541.0 L671.6,540.3 L672.3,539.3 L667.4,542.3 L673.3,538.7 L674.0,537.6 L675.0,537.0 L680.0,530.0 L680.0,515.0 L685.0,505.0 L680.0,497.0 L681.7,491.2 L681.4,490.4 L681.6,489.7 L681.6,489.7 L681.4,489.2 L681.8,488.9 L681.6,488.4 L681.0,488.2 L680.8,487.6 L680.2,487.3 L680.1,487.3 L680.0,487.0 L677.6,485.3 L673.8,482.3 L670.1,480.1 L670.0,480.0 L660.0,472.0 L665.0,476.0 L661.8,472.8 L660.6,471.8 L659.6,471.3 L647.9,465.4 L646.3,464.7 L644.8,464.4 L643.2,463.6 L640.1,463.0 L637.5,459.5 L635.8,457.8 L635.6,456.9 L635.5,456.8 L635.5,457.5 L635.0,457.0 L635.0,460.0 L624.1,457.5 L623.4,457.8 L622.6,457.6 L621.5,458.2 L618.7,459.0 L616.1,460.3 L613.9,461.0 L612.1,461.0 L611.9,461.1 L611.8,461.0 L610.6,461.0 L609.6,460.5 L608.5,460.5 L607.5,460.0 L606.4,460.0 L606.1,459.8Z" fill="#9d78ae" fill-rule="evenodd"/>
<path d="M213.6,506.1 L213.8,506.8 L213.4,507.5 L213.6,508.2 L213.3,508.9 L207.7,518.4 L211.4,533.5 L209.5,544.8 L196.3,544.8 L192.6,552.3 L192.6,552.3 L192.6,552.3 L200.1,561.8 L205.8,571.2 L213.3,584.4 L220.9,590.0 L232.2,592.0 L239.8,601.4 L243.5,607.1 L247.3,618.4 L254.9,626.0 L260.5,629.8 L265.1,623.7 L264.7,624.2 L265.1,624.5 L265.7,623.7 L265.7,622.9 L266.2,622.2 L273.8,610.9 L271.8,599.5 L273.8,588.2 L287.0,582.5 L287.3,580.9 L287.1,582.0 L287.5,582.2 L287.5,580.0 L288.9,573.1 L289.6,570.9 L291.0,565.0 L292.7,557.6 L292.7,555.4 L293.2,553.2 L293.2,552.4 L293.5,551.9 L293.5,551.8 L294.0,551.1 L298.7,543.2 L299.5,542.0 L299.5,541.1 L298.3,542.9 L300.0,540.4 L300.0,534.1 L299.5,533.4 L299.5,532.5 L299.0,531.7 L299.0,530.9 L298.5,530.5 L298.5,529.9 L298.1,529.6 L296.9,529.3 L296.0,528.6 L294.8,528.3 L298.7,531.3 L293.8,527.6 L292.7,527.3 L291.7,526.6 L289.0,526.0 L286.6,525.2 L283.4,524.7 L280.4,523.7 L279.5,523.5 L268.2,521.6 L264.4,520.4 L257.6,518.7 L268.1,522.1 L256.8,518.4 L253.7,510.7 L249.7,506.7 L248.8,506.1 L245.0,508.0 L240.0,508.0 L237.8,504.1 L234.1,501.3 L236.7,503.3 L236.1,502.2 L234.4,500.9 L229.4,497.7 L228.8,497.8 L228.4,497.6 L224.3,498.9 L222.2,499.5 L221.2,500.0 L222.1,499.7 L218.0,501.0 L217.0,501.5 L216.6,502.2 L215.9,502.6 L215.5,503.4 L214.8,503.7 L214.4,504.5 L213.7,504.8 L213.9,505.5ZM268.2,521.6 L277.2,523.1 L276.8,523.0 L267.8,521.5Z" fill="#5c2a71" fill-rule="evenodd"/>
<path d="M569.7,598.3 L569.6,598.2 L570.2,598.0 L564.7,593.9 L557.7,591.1 L548.0,592.5 L537.0,588.3 L530.0,580.0 L530.0,577.0 L525.0,572.0 L520.0,565.0 L510.0,570.0 L497.0,562.0 L485.0,555.0 L475.0,555.0 L465.0,550.0 L455.0,560.0 L445.0,570.0 L450.0,580.0 L445.0,590.0 L437.0,587.0 L435.9,586.2 L433.0,592.0 L427.0,602.0 L433.0,615.0 L434.2,616.1 L434.9,617.5 L436.1,618.6 L436.9,620.0 L439.1,622.2 L438.1,621.1 L440.0,624.7 L441.7,629.7 L442.1,630.6 L444.7,634.5 L443.6,632.9 L444.8,635.8 L446.7,638.8 L446.8,639.0 L447.1,639.5 L448.4,641.7 L453.6,649.6 L454.5,650.7 L459.5,655.6 L454.5,650.7 L457.5,653.6 L459.9,656.7 L460.6,658.3 L460.7,658.4 L460.9,657.8 L461.2,657.2 L461.5,656.5 L461.6,656.1 L466.3,670.0 L473.2,672.8 L477.4,671.4 L474.6,663.1 L477.4,653.4 L477.4,640.9 L477.4,628.5 L478.8,621.6 L480.2,617.4 L485.7,617.4 L491.2,620.2 L498.2,621.6 L502.3,627.1 L503.7,632.6 L510.6,629.9 L517.6,628.5 L521.7,622.9 L530.0,624.3 L537.0,627.1 L543.9,629.9 L550.8,632.6 L555.0,636.8 L560.5,638.2 L563.3,635.4 L559.1,629.9 L553.6,621.6 L556.3,613.2 L560.5,604.9 L561.3,603.8 L562.5,603.2 L563.3,602.1 L564.4,601.4 L565.2,600.3 L565.4,600.3 L566.7,599.9 L567.8,599.1 L569.0,598.8Z" fill="#7b508d" fill-rule="evenodd"/>
<path d="M237.9,462.9 L237.2,462.6 L237.7,463.4 L237.8,463.5 L238.1,464.1 L239.6,464.5 L241.4,464.5 L243.2,465.0 L245.0,465.0 L253.0,463.0 L257.0,454.0 L257.0,444.0 L251.0,440.0 L245.0,438.0 L240.0,442.0 L234.0,448.0 L234.0,457.0 L238.0,463.0ZM253.0,463.0 L254.6,460.5 L254.8,460.1 L254.1,460.4Z" fill="none" stroke="#68626e" stroke-width="1"/>
<path d="M939.6,445.1 L939.8,445.3 L941.4,445.3 L942.6,445.1 L943.8,445.3 L946.1,445.3 L953.7,442.8 L953.9,442.6 L954.1,442.2 L950.6,443.3 L955.2,441.8 L958.2,437.3 L961.2,432.7 L959.2,435.7 L959.9,435.6 L961.6,433.1 L966.3,429.9 L966.3,429.5 L965.8,429.7 L964.2,420.6 L961.2,414.5 L956.7,413.0 L958.2,407.0 L953.6,411.5 L946.0,414.5 L938.5,416.1 L930.9,417.6 L929.4,423.6 L927.9,426.7 L930.9,429.7 L933.9,435.8 L937.0,441.8 L936.9,442.4 L938.9,444.4 L937.3,442.8 L937.2,443.5 L939.0,445.2ZM961.6,433.1 L960.3,435.0 L961.0,434.8 L961.9,433.4 L961.4,434.3 L962.1,434.1 L962.3,433.8 L963.0,433.3 L964.8,431.5 L966.9,430.2 L966.8,429.9 L966.0,430.2ZM948.4,445.1 L949.4,445.3 L950.1,445.0 L950.9,444.3 L951.9,443.9 L952.7,443.2 L946.3,445.2 L947.4,445.4Z" fill="none" stroke="#68626e" stroke-width="1"/>
<path d="M692.0,575.0 L700.0,580.0 L710.0,582.0 L715.0,587.0 L725.0,590.0 L730.0,585.0 L730.0,575.0 L730.0,562.0 L725.0,555.0 L715.0,550.0 L705.0,552.0 L695.0,555.0 L690.0,560.0 L690.0,567.0Z" fill="none" stroke="#68626e" stroke-width="1"/>
<path d="M966.3,429.9 L966.0,430.2 L966.8,429.9 L966.9,430.2 L966.2,430.6 L969.6,429.5 L969.7,429.7 L970.2,429.5 L970.0,428.8 L970.3,430.0 L970.3,430.0 L972.8,437.6 L973.0,437.7 L973.3,438.8 L980.9,441.8 L988.5,444.8 L982.0,442.2 L982.6,443.0 L988.3,445.3 L993.8,446.7 L994.9,446.9 L998.1,446.9 L999.3,447.1 L1000.3,446.9 L1000.7,446.9 L1003.7,445.3 L1003.6,444.8 L1002.1,435.8 L999.1,428.2 L999.0,427.5 L997.6,420.6 L999.1,414.5 L994.5,411.5 L994.5,402.4 L991.5,400.9 L985.5,405.5 L979.4,402.4 L973.3,399.4 L965.8,397.9 L961.2,399.4 L958.2,405.5 L957.8,407.4 L958.2,407.0 L956.7,413.0 L961.2,414.5 L964.2,420.6 L965.8,429.7 L966.3,429.5ZM1003.7,445.3 L1001.0,446.8 L1002.6,446.5 L1003.8,445.8 L1003.8,445.8ZM988.3,445.3 L983.5,443.4 L984.1,444.1 L986.1,444.9 L988.7,445.4Z" fill="none" stroke="#68626e" stroke-width="1"/>
<path d="M534.1,224.8 L533.5,225.6 L531.5,212.7 L528.7,207.1 L523.1,205.7 L520.4,208.5 L519.0,212.7 L513.4,212.7 L507.9,211.3 L502.4,208.5 L498.2,211.3 L496.8,219.6 L499.6,223.7 L498.2,229.3 L495.4,237.6 L496.8,245.9 L495.4,254.2 L498.2,259.8 L506.5,257.0 L514.8,255.6 L523.1,248.7 L528.7,244.5 L532.8,237.6 L534.2,229.3 L534.2,225.1 L534.6,224.6 L534.5,224.4Z" fill="none" stroke="#68626e" stroke-width="1"/>
<path d="M355.0,257.0 L367.0,252.0 L367.3,251.2 L368.0,250.9 L369.3,248.0 L368.3,250.2 L369.0,249.9 L369.5,248.7 L369.5,247.4 L370.0,246.3 L370.0,245.0 L360.0,232.0 L350.0,225.0 L345.0,217.0 L335.0,214.0 L322.0,220.0 L322.0,230.0 L325.0,240.0 L325.0,255.0 L335.0,265.0Z" fill="none" stroke="#68626e" stroke-width="1"/>
<path d="M308.5,291.3 L308.4,290.8 L307.9,290.7 L308.5,293.2 L308.8,292.6 L308.7,291.9 L308.9,291.4ZM308.6,293.9 L307.7,290.2 L307.2,290.1 L308.2,294.2 L307.1,289.5 L307.0,289.5 L306.6,289.7 L308.1,295.9 L308.4,295.3 L308.3,294.6ZM254.1,264.7 L258.5,264.7 L256.7,267.3 L258.5,269.1 L262.9,271.7 L266.4,275.3 L269.1,280.6 L272.6,285.9 L274.4,292.9 L274.4,300.8 L279.7,300.8 L286.7,300.0 L295.5,300.8 L304.4,300.0 L307.9,297.3 L308.3,296.7 L306.5,289.2 L306.5,289.2 L306.0,289.4 L303.5,284.0 L301.7,277.0 L297.3,273.5 L293.8,269.0 L292.0,262.0 L288.5,253.2 L285.0,247.0 L281.0,237.0 L272.0,236.0 L272.6,243.5 L269.1,247.0 L269.1,250.6 L264.7,255.0 L261.2,258.5 L261.2,258.5 L258.9,257.7 L258.5,257.6 L258.5,257.6 L258.5,257.6 L254.1,254.1 L254.1,254.1 L251.5,249.7 L248.8,248.8 L247.9,255.9 L247.9,256.2 L247.4,256.3 L246.9,256.5 L246.9,257.0 L247.4,257.7 L247.4,258.6 L247.9,259.4 L250.6,263.0Z" fill="none" stroke="#68626e" stroke-width="1"/>
<path d="M307.2,290.1 L311.0,290.8 L311.2,290.4 L311.7,290.5 L312.0,290.0 L320.0,285.0 L322.0,272.0 L335.0,265.0 L325.0,255.0 L325.0,240.0 L322.0,230.0 L305.0,231.0 L297.0,232.0 L284.0,232.0 L281.0,237.0 L285.0,247.0 L288.5,253.2 L292.0,262.0 L293.8,269.0 L297.3,273.5 L301.7,277.0 L303.5,284.0 L306.0,289.4 L306.5,289.2 L306.5,289.2 L306.6,289.7 L307.0,289.5 L307.1,289.5ZM307.2,290.1 L307.7,290.2 L307.9,290.7 L308.4,290.8 L308.5,291.3 L309.4,291.5 L309.7,291.1 L310.2,291.2 L310.5,290.7Z" fill="none" stroke="#68626e" stroke-width="1"/>
<path d="M375.6,391.9 L378.9,396.0 L382.1,398.3 L382.5,398.5 L383.5,398.5 L384.3,399.0 L385.3,399.0 L386.1,399.5 L387.1,399.5 L387.5,399.8 L388.7,400.0 L391.4,400.0 L394.6,400.6 L393.8,400.4 L395.7,400.9 L401.7,399.8 L396.8,400.7 L398.0,401.0 L399.2,400.8 L400.0,401.0 L402.9,400.4 L414.1,395.9 L415.7,394.7 L416.6,394.7 L417.3,394.2 L417.7,394.2 L417.6,394.7 L418.1,394.7 L418.0,395.2 L418.3,395.2 L419.1,394.7 L419.9,394.7 L420.7,394.2 L421.6,394.2 L422.3,393.7 L429.2,392.3 L430.6,385.4 L436.2,378.5 L432.0,371.5 L422.3,364.6 L412.6,357.7 L403.0,358.5 L394.6,360.5 L394.4,360.0 L393.8,360.0 L393.6,359.5 L393.1,359.5 L392.9,359.0 L392.3,359.0 L392.2,358.9 L392.1,359.0 L391.4,359.0 L390.9,359.5 L390.2,359.5 L389.7,360.0 L389.0,360.0 L388.5,360.5 L387.7,360.5 L378.0,364.6 L373.5,369.2 L372.0,370.0 L372.0,370.3 L372.5,372.2 L372.5,374.3 L372.9,375.8 L372.9,381.3 L374.3,388.6 L373.0,381.8 L373.0,384.6 L373.1,385.3 L374.4,389.6 L379.8,396.2 L375.3,390.7ZM410.3,397.9 L412.1,396.7 L405.3,399.4 L408.0,398.9Z" fill="none" stroke="#68626e" stroke-width="1"/>
<path d="M390.0,347.6 L390.0,350.0 L391.8,341.3 L391.3,341.5 L390.6,344.7 L391.2,342.1 L390.6,342.3 L390.5,342.8 L390.5,345.2ZM390.0,350.0 L391.0,353.6 L393.2,358.5 L392.5,357.0 L392.6,357.1 L392.2,357.5 L392.7,358.7 L392.4,358.0 L392.0,358.4 L392.3,359.0 L392.9,359.0 L393.1,359.5 L393.6,359.5 L393.8,360.0 L394.4,360.0 L394.6,360.5 L403.0,358.5 L412.6,357.7 L422.3,364.6 L432.0,371.5 L436.2,378.5 L430.6,385.4 L429.2,392.3 L422.3,393.7 L421.6,394.2 L420.7,394.2 L419.9,394.7 L419.1,394.7 L418.3,395.2 L418.0,395.2 L418.1,394.8 L417.9,395.5 L417.4,395.8 L417.3,396.1 L416.9,397.9 L417.8,396.2 L416.1,399.5 L415.7,401.4 L418.2,396.5 L415.4,402.0 L414.0,407.6 L412.6,413.1 L412.8,412.4 L412.4,413.7 L412.8,414.2 L412.6,414.8 L417.3,421.9 L413.8,416.7 L414.9,419.1 L416.9,422.1 L417.7,422.7 L418.2,423.7 L419.1,424.3 L417.8,421.7 L419.6,425.3 L420.4,425.9 L421.0,427.0 L429.2,427.0 L434.8,418.6 L443.1,421.4 L448.6,418.6 L444.2,420.8 L445.0,421.0 L445.7,420.6 L446.5,420.8 L449.3,419.3 L449.5,419.0 L449.5,417.9 L450.0,417.0 L450.0,415.9 L451.4,413.1 L448.6,410.3 L449.0,410.7 L448.4,408.1 L446.4,401.9 L446.6,402.6 L446.5,402.1 L444.7,391.1 L443.3,386.9 L442.8,384.9 L442.7,385.3 L443.0,383.6 L442.7,382.4 L442.2,385.4 L442.9,381.1 L442.6,379.8 L441.7,385.4 L443.1,377.1 L452.0,372.0 L447.0,365.0 L450.0,355.0 L448.0,349.7 L448.0,348.2 L447.5,346.9 L447.5,345.5 L447.4,345.2 L447.0,345.6 L447.0,345.4 L445.5,346.4 L442.7,349.2 L441.5,351.0 L440.8,351.1 L440.5,351.6 L439.9,351.6 L439.8,351.7 L439.7,351.6 L439.7,351.6 L440.0,352.0 L439.8,352.1 L442.0,352.0 L437.6,352.2 L433.4,349.4 L425.1,350.8 L419.3,348.5 L417.0,347.0 L416.6,346.8 L418.2,348.0 L412.6,343.9 L408.2,343.3 L406.5,342.6 L403.9,342.3 L401.2,341.8 L401.7,342.0 L399.5,340.9 L397.7,340.5 L401.6,342.5 L396.0,339.7 L395.0,340.0 L395.0,340.0 L394.8,340.1 L394.9,340.0 L391.9,341.0ZM447.0,365.0 L449.0,367.8 L449.3,367.4 L447.5,364.9 L449.6,358.1 L449.3,357.2ZM447.5,364.9 L449.0,367.0 L449.3,366.6 L449.0,366.1 L449.4,365.7 L448.6,364.7 L449.5,361.9 L449.3,360.9 L449.5,360.0 L449.3,359.1ZM448.6,364.7 L449.1,365.3 L449.4,364.9 L449.2,364.6 L449.5,363.7 L449.2,362.8ZM449.0,420.1 L449.0,419.5 L447.2,420.4 L448.0,420.6Z" fill="none" stroke="#68626e" stroke-width="1"/>
<path d="M262.0,450.3 L262.6,451.4 L262.2,450.6 L261.9,451.1 L262.1,451.6 L261.8,452.0 L262.2,452.7 L262.7,452.5 L262.9,452.9 L263.3,452.8 L263.6,453.1 L264.7,455.2 L266.3,457.1 L267.4,459.2 L269.0,461.0 L275.0,469.0 L283.0,473.0 L291.0,475.0 L293.0,465.0 L291.0,455.0 L296.0,450.0 L304.0,444.0 L308.0,438.0 L307.0,430.0 L310.0,415.0 L310.0,405.0 L305.0,402.0 L295.0,402.0 L285.0,400.0 L280.0,405.0 L270.0,410.0 L267.0,420.0 L265.0,430.0 L266.7,436.7 L266.4,437.8 L266.5,437.9 L266.4,438.1 L266.0,440.0 L263.0,446.0 L263.0,447.8 L262.5,448.5 L262.5,449.4 L262.0,450.1Z" fill="none" stroke="#68626e" stroke-width="1"/>
<path d="M321.4,340.8 L322.3,341.5 L322.6,342.3 L323.3,342.7 L323.5,343.5 L324.2,344.0 L324.5,344.8 L325.2,345.3 L325.5,346.1 L325.8,346.3 L326.6,348.0 L324.1,340.4 L327.7,351.3 L329.3,354.5 L329.5,355.0 L329.3,355.6 L329.6,356.2 L327.0,365.0 L327.7,366.8 L327.5,367.6 L331.5,377.1 L327.9,368.4 L327.7,369.2 L331.0,377.1 L330.5,380.0 L330.8,381.5 L330.6,382.9 L330.9,384.3 L330.0,390.0 L335.0,387.0 L331.8,388.9 L331.9,389.4 L332.3,389.2 L332.4,389.3 L334.3,388.6 L335.4,387.9 L336.6,387.7 L339.3,386.6 L335.2,387.5 L342.2,386.1 L345.0,385.0 L355.0,385.0 L360.0,375.0 L367.0,365.0 L365.0,355.0 L372.0,350.0 L375.0,340.0 L375.5,338.8 L375.5,337.4 L376.0,336.2 L376.0,331.0 L375.7,329.0 L374.8,326.0 L374.4,322.7 L373.9,321.0 L373.3,321.0 L373.2,320.5 L372.7,320.5 L372.5,320.0 L372.0,320.0 L369.5,320.0 L367.0,320.5 L364.4,320.5 L362.0,321.0 L357.0,320.5 L355.0,320.5 L344.8,319.5 L344.5,319.2 L343.6,319.2 L342.9,318.6 L342.4,318.5 L339.4,317.0 L339.0,317.4 L342.3,319.0 L338.6,317.2 L338.2,317.5 L342.1,319.5 L337.7,317.3 L337.3,317.7 L332.0,315.0 L332.0,322.0 L325.0,327.0 L320.0,332.0 L319.7,332.5 L324.5,340.2 L320.0,332.9 L319.7,333.4 L320.0,333.9 L319.7,334.4 L320.0,334.8 L319.7,335.3 L320.0,335.8 L319.7,336.2 L320.0,336.7 L319.7,337.2 L320.0,337.7 L319.7,338.1ZM365.0,355.0 L365.7,358.3 L366.0,357.5 L365.8,356.6 L366.2,355.7 L366.1,355.4 L366.4,355.3 L366.6,354.8 L366.9,354.3 L365.6,355.2 L367.9,353.5 L368.6,352.4ZM355.0,385.0 L355.0,385.5 L355.3,385.5 L355.7,384.7 L355.9,383.2ZM331.0,377.1 L328.2,370.4 L329.6,375.0 L330.5,377.2 L330.4,377.7 L330.7,378.9Z" fill="none" stroke="#68626e" stroke-width="1"/>
<path d="M307.0,430.0 L308.0,438.0 L305.9,441.2 L310.0,447.0 L320.0,442.0 L332.0,440.0 L342.0,440.0 L350.0,435.0 L357.0,430.0 L357.6,430.0 L357.8,429.5 L358.4,429.5 L358.6,429.0 L362.3,421.7 L362.0,421.1 L362.3,420.6 L362.0,420.0 L365.0,410.0 L360.0,400.0 L355.0,390.0 L355.5,386.3 L355.5,385.1 L355.3,385.5 L355.0,385.5 L355.0,385.0 L345.0,385.0 L342.2,386.1 L339.3,386.6 L336.6,387.7 L335.4,387.9 L334.3,388.6 L331.9,389.5 L332.0,390.0 L325.0,395.0 L315.0,400.0 L307.7,403.6 L310.0,405.0 L310.0,415.0ZM358.6,429.0 L359.2,429.0 L360.6,426.1 L359.4,428.5 L360.0,428.5 L360.2,428.0 L360.8,428.0 L361.0,427.5 L361.6,427.5 L361.9,427.0 L362.1,427.0 L362.0,426.7 L362.3,426.1 L362.0,425.6 L362.3,425.0 L362.0,424.5 L362.3,423.9 L362.0,423.4 L362.3,422.8 L362.0,422.2Z" fill="none" stroke="#68626e" stroke-width="1"/>
<path d="M366.4,430.0 L367.0,430.0 L377.0,432.0 L385.0,435.0 L395.0,440.0 L400.0,435.0 L405.0,427.0 L415.0,422.0 L415.5,422.3 L415.6,422.2 L415.4,421.7 L416.2,422.2 L415.8,421.3 L416.6,421.9 L416.3,421.3 L414.9,419.1 L413.8,416.7 L412.6,414.8 L412.8,414.2 L412.4,413.7 L412.8,412.4 L414.0,407.6 L415.4,402.0 L415.7,401.4 L416.1,399.5 L416.9,397.9 L417.3,396.1 L417.4,395.8 L417.9,395.5 L418.1,394.7 L417.6,394.7 L417.7,394.2 L417.3,394.2 L416.6,394.7 L415.7,394.7 L414.1,395.9 L412.1,396.7 L410.3,397.9 L408.0,398.9 L405.3,399.4 L402.9,400.4 L400.0,401.0 L399.2,400.8 L398.0,401.0 L396.8,400.7 L395.7,400.9 L393.8,400.4 L391.4,400.0 L388.7,400.0 L387.5,399.8 L387.1,399.5 L386.1,399.5 L385.3,399.0 L384.3,399.0 L383.5,398.5 L382.5,398.5 L382.1,398.3 L378.9,396.0 L377.7,394.5 L376.7,393.8 L376.5,392.9 L375.6,391.9 L375.3,390.7 L374.4,389.6 L373.1,385.3 L373.0,384.6 L373.0,381.8 L372.9,381.3 L372.9,375.8 L372.5,374.3 L372.5,372.2 L372.0,370.3 L372.0,370.0 L373.5,369.2 L378.0,364.6 L387.7,360.5 L388.5,360.5 L389.0,360.0 L389.7,360.0 L390.2,359.5 L390.9,359.5 L391.4,359.0 L392.1,359.0 L392.2,358.9 L392.0,358.4 L392.4,358.0 L392.2,357.5 L392.6,357.1 L392.5,357.0 L391.0,353.6 L390.0,350.0 L390.0,347.6 L390.5,345.2 L390.5,342.8 L390.6,342.3 L390.5,342.3 L390.5,341.8 L390.0,342.0 L382.0,342.0 L375.0,340.0 L372.0,350.0 L368.6,352.4 L367.9,353.5 L366.9,354.3 L366.6,354.8 L366.4,355.3 L366.1,355.4 L366.2,355.7 L365.8,356.6 L366.0,357.5 L365.7,358.3 L367.0,365.0 L360.0,375.0 L355.9,383.2 L355.7,384.7 L355.5,385.1 L355.5,386.3 L355.0,390.0 L360.0,400.0 L365.0,410.0 L362.0,420.0 L362.3,420.6 L362.0,421.1 L362.3,421.7 L362.0,422.2 L362.3,422.8 L362.0,423.4 L362.3,423.9 L362.0,424.5 L362.3,425.0 L362.0,425.6 L362.3,426.1 L362.0,426.7 L362.4,427.5 L363.0,427.5 L363.2,428.0 L363.8,428.0 L364.0,428.5 L364.6,428.5 L364.8,429.0 L365.4,429.0 L365.6,429.5 L366.2,429.5Z" fill="none" stroke="#68626e" stroke-width="1"/>
<path d="M815.0,325.7 L815.0,318.2 L808.5,320.3 L802.1,318.2 L795.7,312.8 L793.5,308.6 L791.4,305.3 L785.0,306.4 L780.7,302.1 L775.3,302.1 L768.9,300.0 L763.6,297.8 L757.1,296.8 L751.8,293.0 L748.6,294.6 L746.4,301.1 L747.5,303.2 L751.8,306.4 L753.9,309.6 L756.1,315.0 L757.1,320.3 L760.3,323.5 L765.7,326.8 L767.8,330.0 L766.8,335.3 L766.8,337.4 L766.3,337.6 L765.8,337.8 L765.3,337.9 L765.2,338.0 L765.3,338.1 L765.3,338.8 L765.8,339.3 L765.8,340.0 L766.3,340.5 L766.3,341.2 L766.8,341.7 L770.0,347.1 L772.1,352.5 L776.4,356.7 L781.8,357.8 L787.1,362.1 L793.5,366.4 L797.8,369.6 L800.0,366.4 L802.1,362.1 L804.2,356.7 L802.6,360.8 L803.5,359.9 L804.6,357.0 L803.9,358.8 L804.8,358.0 L805.0,357.3 L806.7,356.1 L807.3,355.5 L810.6,353.0 L808.8,353.9 L813.0,351.8 L814.7,350.6 L820.0,345.3 L822.4,344.7 L826.2,343.2 L825.8,343.3 L826.6,343.1 L827.7,336.4 L827.5,334.7 L827.7,333.4 L827.3,333.5 L826.8,333.7 L826.4,333.8 L825.7,328.9 L821.4,327.8 L817.1,328.9Z" fill="none" stroke="#68626e" stroke-width="1"/>
<path d="M374.6,320.5 L374.1,320.5 L374.1,321.0 L373.9,321.0 L374.4,322.7 L374.8,326.0 L375.7,329.0 L376.0,331.0 L376.0,336.2 L375.5,337.4 L375.5,338.8 L375.0,340.0 L382.0,342.0 L390.0,342.0 L390.5,341.8 L390.5,342.3 L391.2,342.1 L391.3,341.5 L391.8,341.3 L391.9,341.0 L394.8,340.1 L395.0,340.0 L395.0,340.0 L396.0,339.7 L397.7,340.5 L399.5,340.9 L401.2,341.8 L403.9,342.3 L406.5,342.6 L408.2,343.3 L412.6,343.9 L416.6,346.8 L417.0,347.0 L419.3,348.5 L425.1,350.8 L433.4,349.4 L437.6,352.2 L439.8,352.1 L440.0,352.0 L439.7,351.6 L439.7,351.6 L437.0,348.0 L432.0,339.0 L430.0,330.0 L430.0,322.0 L437.0,320.0 L442.0,315.0 L440.0,307.0 L435.0,299.0 L437.0,292.0 L435.0,287.0 L432.5,287.0 L430.0,287.5 L427.4,287.5 L425.3,287.9 L424.9,287.5 L424.2,287.5 L423.7,287.0 L423.0,287.0 L420.0,284.0 L411.0,282.0 L405.0,282.0 L405.0,292.0 L397.0,299.0 L391.0,301.0 L391.0,310.0 L387.0,315.0 L380.0,317.0 L375.0,320.0 L374.5,320.0Z" fill="none" stroke="#68626e" stroke-width="1"/>
<path d="M534.2,225.1 L534.2,229.3 L532.8,237.6 L528.7,244.5 L523.1,248.7 L514.8,255.6 L506.5,257.0 L498.2,259.8 L497.0,265.0 L492.2,266.5 L493.8,273.1 L497.1,282.9 L503.7,281.3 L511.9,284.6 L521.7,282.9 L528.2,284.6 L534.8,287.8 L541.3,282.9 L547.9,278.0 L554.4,281.3 L561.0,279.6 L567.5,281.3 L567.8,281.8 L568.0,281.5 L567.6,281.2 L570.0,277.0 L567.0,265.0 L562.0,255.0 L560.0,240.0 L560.0,225.0 L555.0,223.7 L548.0,218.2 L541.2,215.4 L537.0,221.0 L534.5,224.4 L534.6,224.6ZM555.0,223.7 L555.0,223.1 L554.5,222.7 L554.5,222.2 L553.9,222.2 L553.1,222.2Z" fill="none" stroke="#68626e" stroke-width="1"/>
<path d="M116.7,332.9 L120.3,338.2 L122.0,343.5 L122.0,347.0 L119.5,355.5 L119.5,363.6 L126.0,368.6 L132.5,376.7 L139.0,378.4 L144.0,375.0 L152.2,375.0 L158.7,378.4 L165.3,381.6 L167.0,373.5 L170.2,368.6 L171.8,358.7 L168.6,350.6 L162.0,347.3 L158.7,339.0 L155.5,331.0 L152.2,326.0 L147.3,321.0 L145.6,314.5 L147.3,308.0 L145.6,301.5 L139.0,299.8 L131.0,299.8 L124.7,302.0 L122.0,305.6 L121.1,310.0 L116.7,311.7 L112.3,317.0 L107.9,317.9 L104.4,325.9 L109.7,328.5Z" fill="none" stroke="#68626e" stroke-width="1"/>
<path d="M734.5,483.7 L734.4,483.8 L734.8,484.2 L734.3,484.4 L734.6,484.8 L734.2,485.0 L734.5,485.4 L733.0,491.4 L736.0,497.5 L740.6,500.5 L740.6,506.5 L743.6,515.6 L743.6,524.7 L746.6,527.7 L746.5,528.2 L747.0,528.2 L746.9,528.7 L748.0,528.7 L749.0,528.2 L750.1,528.2 L751.2,527.7 L752.7,527.7 L757.2,524.7 L757.2,520.1 L752.7,512.6 L754.2,508.0 L758.5,506.9 L759.4,507.2 L760.0,507.1 L760.6,507.6 L761.7,508.0 L761.9,508.2 L763.0,510.0 L764.4,511.4 L766.7,515.3 L766.9,515.5 L768.9,518.8 L769.1,519.3 L770.7,521.5 L772.3,524.7 L773.9,525.8 L774.8,526.9 L775.9,527.7 L778.0,531.9 L778.9,534.0 L779.5,534.4 L779.9,535.3 L788.5,539.5 L793.5,545.9 L794.5,552.1 L794.7,552.7 L795.0,552.5 L795.0,551.9 L799.6,548.9 L800.7,548.9 L801.7,548.4 L802.8,548.4 L804.3,547.6 L803.8,547.9 L804.6,547.9 L804.6,547.5 L805.1,547.3 L805.1,546.7 L805.6,546.5 L805.6,545.9 L808.6,538.3 L805.6,527.7 L807.1,518.6 L808.6,514.1 L805.6,509.6 L801.1,500.5 L796.5,494.4 L792.0,491.4 L787.5,492.9 L781.4,491.4 L775.4,485.4 L770.8,480.8 L766.3,474.8 L757.2,468.7 L745.1,467.2 L742.1,470.2 L742.1,470.5 L741.6,472.5 L741.6,474.5 L741.3,475.7 L741.3,478.0 L740.8,478.7 L740.8,479.6 L738.7,482.4 L737.9,482.6 L737.5,483.2 L736.0,483.6 L735.2,484.0Z" fill="none" stroke="#68626e" stroke-width="1"/>
<path d="M796.0,586.9 L795.5,587.3 L795.5,587.9 L795.0,588.3 L795.0,588.9 L794.5,589.2 L794.5,589.9 L794.0,590.2 L794.0,590.8 L793.7,591.0 L794.0,590.9 L794.0,591.5 L794.5,591.3 L794.5,591.8 L795.0,591.6 L795.0,592.1 L795.5,592.0 L795.5,592.5 L796.0,592.3 L796.0,592.8 L796.5,592.7 L796.5,593.4 L796.0,593.2 L796.0,593.7 L795.5,593.5 L795.5,594.1 L795.0,593.9 L795.0,594.4 L794.5,594.3 L794.5,594.9 L795.0,594.9 L795.0,595.4 L796.3,595.4 L797.8,594.8 L797.0,594.6 L795.5,595.2 L797.8,594.3 L797.0,594.1 L796.0,594.4 L797.8,593.8 L797.0,593.5 L797.7,593.3 L797.0,593.0 L805.0,590.0 L808.0,582.0 L816.0,577.0 L830.0,574.0 L831.1,574.0 L832.1,573.5 L833.2,573.5 L834.2,573.0 L834.6,573.0 L834.9,572.7 L834.5,572.9 L836.3,571.9 L837.5,570.8 L838.9,570.1 L840.0,569.0 L843.0,558.0 L851.0,553.0 L862.0,553.0 L867.0,542.0 L872.0,537.0 L880.0,532.0 L888.2,532.9 L891.7,531.1 L891.9,531.5 L892.0,531.5 L893.6,530.0 L893.5,529.4 L895.3,522.3 L890.0,515.3 L886.5,510.0 L875.2,514.1 L869.1,511.1 L863.1,512.6 L858.5,517.1 L851.0,523.2 L844.9,526.2 L838.9,529.2 L829.8,527.7 L823.8,523.2 L819.2,524.7 L820.7,530.7 L817.7,536.8 L814.7,542.8 L810.1,548.9 L805.6,548.9 L805.6,548.4 L805.1,548.4 L805.1,547.9 L803.8,547.9 L802.8,548.4 L801.7,548.4 L800.7,548.9 L799.6,548.9 L795.0,551.9 L795.0,552.5 L794.7,552.7 L794.5,552.1 L795.0,554.9 L795.0,560.0 L795.0,570.0 L800.0,577.0 L797.0,585.0 L796.5,585.4 L796.5,586.0 L796.0,586.3ZM892.3,531.2 L892.6,531.7 L893.3,531.0 L893.2,530.4Z" fill="none" stroke="#68626e" stroke-width="1"/>
<path d="M495.3,318.1 L494.3,318.3 L493.5,318.9 L493.3,319.0 L492.5,319.2 L491.8,319.8 L491.0,320.0 L490.3,320.6 L489.4,320.8 L488.8,321.4 L495.5,320.1 L487.9,321.6 L487.3,322.2 L479.1,330.4 L477.5,338.6 L467.7,337.0 L459.5,338.6 L452.9,337.0 L448.0,343.5 L447.5,343.8 L447.5,344.4 L447.0,344.8 L447.0,345.6 L447.4,345.2 L447.5,345.5 L447.5,346.9 L448.0,348.2 L448.0,349.7 L450.0,355.0 L449.3,357.2 L449.6,358.1 L449.3,359.1 L450.8,364.7 L449.5,360.0 L449.3,360.9 L449.5,361.9 L449.2,362.8 L449.5,363.7 L449.2,364.6 L449.4,364.9 L449.1,365.3 L449.4,365.7 L449.0,366.1 L449.3,366.6 L449.0,367.0 L449.3,367.4 L449.0,367.8 L450.0,369.2 L454.6,366.4 L462.8,368.0 L472.6,373.0 L479.1,374.6 L487.3,373.0 L498.8,378.0 L508.6,374.6 L518.4,371.3 L528.2,366.4 L531.5,361.5 L533.1,351.7 L534.8,341.9 L534.8,340.8 L534.3,339.8 L534.3,338.7 L533.8,337.7 L533.8,336.5 L533.3,335.5 L533.3,334.4 L532.9,333.7 L532.4,333.5 L530.9,333.5 L532.6,334.1 L529.4,333.0 L527.8,333.0 L532.2,334.5 L526.3,332.5 L524.8,332.5 L531.9,334.9 L523.3,332.0 L521.7,332.0 L511.9,330.4 L507.0,325.5 L502.0,320.6 L501.6,320.1 L501.0,320.1 L500.6,319.6 L500.0,319.6 L499.6,319.1 L499.0,319.1 L498.6,318.6 L498.0,318.6 L497.7,318.1 L497.0,318.1 L496.7,317.6 L496.2,317.6 L495.5,318.1Z" fill="none" stroke="#68626e" stroke-width="1"/>
<path d="M904.0,491.0 L899.0,486.0 L894.0,483.0 L888.0,478.0 L883.0,473.0 L878.0,465.0 L870.3,450.9 L869.1,452.1 L867.6,459.7 L860.0,464.2 L854.0,471.8 L852.5,479.3 L848.0,485.4 L841.9,488.4 L835.9,491.4 L828.3,497.5 L822.2,500.5 L816.2,506.5 L814.7,512.6 L808.6,514.1 L807.1,518.6 L805.6,527.7 L808.6,538.3 L805.6,545.9 L805.6,546.5 L805.1,546.7 L805.1,547.3 L804.6,547.5 L804.6,547.9 L805.1,547.9 L805.1,548.4 L805.6,548.4 L805.6,548.9 L810.1,548.9 L814.7,542.8 L817.7,536.8 L820.7,530.7 L819.2,524.7 L823.8,523.2 L829.8,527.7 L838.9,529.2 L844.9,526.2 L851.0,523.2 L858.5,517.1 L863.1,512.6 L869.1,511.1 L875.2,514.1 L886.5,510.0 L888.0,505.0 L893.5,497.6 L894.2,497.6 L894.3,497.4 L894.8,497.1 L895.8,497.1 L903.3,492.6 L903.8,491.8 L904.5,491.8 L904.0,491.6 L904.5,491.3ZM896.6,496.6 L897.6,496.6 L900.2,495.0 L898.4,496.1 L899.4,496.1 L900.1,495.7 L900.7,494.7 L901.7,494.1 L902.3,493.2Z" fill="none" stroke="#68626e" stroke-width="1"/>
<path d="M496.7,314.3 L497.0,314.7 L496.6,315.0 L496.9,315.4 L496.5,315.6 L499.0,319.1 L499.6,319.1 L500.0,319.6 L500.6,319.6 L501.0,320.1 L501.6,320.1 L502.0,320.6 L507.0,325.5 L511.9,330.4 L521.7,332.0 L523.3,332.0 L524.8,332.5 L526.3,332.5 L527.8,333.0 L529.4,333.0 L530.9,333.5 L532.4,333.5 L532.9,333.7 L533.1,334.0 L533.3,334.0 L533.3,333.5 L533.8,333.5 L533.8,333.0 L534.3,333.0 L534.3,332.5 L534.8,332.5 L534.8,332.0 L541.3,327.1 L547.9,325.5 L554.4,322.2 L561.0,323.9 L569.2,325.5 L577.3,325.5 L583.9,322.2 L584.3,321.8 L584.2,321.2 L584.6,320.8 L584.4,319.8 L583.9,319.8 L584.1,320.6 L583.8,319.3 L583.3,319.3 L582.2,314.0 L577.3,305.8 L579.0,308.7 L578.9,307.5 L577.8,305.6 L575.0,297.1 L573.8,295.4 L574.1,296.0 L570.8,287.8 L572.0,290.8 L571.7,288.6 L571.3,287.6 L568.4,282.0 L567.6,281.2 L568.0,281.5 L567.8,281.8 L567.5,281.3 L561.0,279.6 L554.4,281.3 L547.9,278.0 L541.3,282.9 L534.8,287.8 L528.2,284.6 L521.7,282.9 L511.9,284.6 L503.7,281.3 L497.1,282.9 L498.8,289.5 L500.4,297.7 L498.8,305.8 L497.1,314.0ZM577.8,305.6 L578.2,306.4 L578.1,304.9 L576.6,300.4 L575.5,298.8ZM499.0,319.1 L496.7,316.0 L496.3,316.3 L496.6,316.7 L496.2,317.0 L496.5,317.4 L496.2,317.6 L496.7,317.6 L497.0,318.1 L497.7,318.1 L498.0,318.6 L498.6,318.6ZM569.1,283.3 L570.9,286.8 L570.6,285.2 L570.2,284.4Z" fill="none" stroke="#68626e" stroke-width="1"/>
<path d="M639.0,270.0 L637.6,277.3 L633.2,281.6 L624.5,287.4 L617.3,288.9 L613.0,293.2 L613.0,299.0 L611.5,304.8 L604.3,307.7 L598.5,313.5 L594.7,315.4 L593.2,316.4 L594.1,316.4 L601.4,320.8 L610.0,325.1 L618.7,329.4 L621.6,328.0 L630.3,326.5 L640.0,324.0 L648.0,318.0 L656.4,313.9 L661.4,311.3 L656.4,301.9 L650.6,299.0 L656.4,294.7 L659.3,290.4 L659.3,290.3 L659.3,290.3 L662.2,287.4 L665.1,284.5 L670.9,283.1 L678.1,277.3 L679.6,271.5 L685.4,264.3 L679.6,258.5 L672.3,249.8 L666.5,245.4 L656.4,245.4 L653.5,248.3 L651.8,250.5 L649.2,254.1 L649.2,254.1 L649.2,254.1 L644.8,249.8 L637.6,248.3 L631.8,251.2 L630.3,257.0 L630.3,257.0 L631.8,261.4 L637.6,261.4Z" fill="none" stroke="#68626e" stroke-width="1"/>
<path d="M540.9,371.5 L540.4,371.0 L540.5,371.0 L540.4,371.0 L539.6,370.0 L538.4,369.5 L540.2,371.5ZM446.5,402.1 L446.6,402.6 L448.4,408.1 L449.0,410.7 L451.4,413.1 L450.0,415.9 L450.0,417.0 L449.5,417.9 L449.5,419.0 L449.3,419.3 L449.0,419.5 L449.0,420.1 L448.5,420.3 L448.5,420.7 L449.0,420.8 L449.0,421.3 L449.5,421.4 L449.5,421.9 L450.0,422.0 L460.0,422.0 L467.0,425.0 L472.0,420.0 L480.0,417.0 L490.0,415.0 L500.0,410.0 L510.0,405.0 L520.0,400.0 L525.0,390.0 L535.0,385.0 L540.0,372.0 L540.5,372.0 L540.6,371.9 L537.6,368.5 L536.4,368.0 L531.5,361.5 L528.2,366.4 L518.4,371.3 L508.6,374.6 L498.8,378.0 L487.3,373.0 L479.1,374.6 L472.6,373.0 L462.8,368.0 L454.6,366.4 L450.0,369.2 L452.0,372.0 L443.1,377.1 L442.6,379.8 L442.9,381.1 L442.7,382.4 L443.0,383.6 L442.8,384.9 L443.3,386.9 L444.7,391.1 L444.5,390.1Z" fill="none" stroke="#68626e" stroke-width="1"/>
<path d="M533.3,335.5 L533.8,336.5 L533.8,337.7 L534.3,338.7 L534.3,339.8 L534.8,340.8 L534.8,341.9 L533.1,351.7 L531.5,361.5 L536.4,368.0 L537.6,368.5 L538.4,369.5 L543.8,372.0 L545.0,372.0 L555.0,367.0 L565.0,365.0 L580.0,362.0 L590.0,360.0 L597.0,362.0 L610.0,360.0 L620.0,357.0 L625.0,360.0 L625.0,350.0 L625.0,340.0 L622.0,332.0 L618.7,329.4 L610.0,325.1 L601.4,320.8 L594.1,316.4 L593.2,316.4 L594.0,315.9 L593.7,315.9 L592.7,316.4 L586.9,319.3 L586.2,319.3 L585.7,319.8 L584.9,319.8 L584.5,320.2 L584.6,320.8 L584.2,321.2 L584.3,321.8 L583.9,322.2 L577.3,325.5 L569.2,325.5 L561.0,323.9 L554.4,322.2 L547.9,325.5 L541.3,327.1 L534.8,332.0 L534.8,332.5 L534.3,332.5 L534.3,333.0 L533.8,333.0 L533.8,333.5 L533.3,333.5 L533.3,334.0 L533.1,334.0 L532.9,333.7 L533.3,334.4ZM538.4,369.5 L539.6,370.0 L540.4,371.0 L541.6,371.5 L542.7,371.5Z" fill="none" stroke="#68626e" stroke-width="1"/>
<path d="M318.6,338.9 L318.4,339.3 L318.0,339.0 L317.7,339.5 L318.1,339.7 L318.1,339.7 L317.3,339.2 L317.0,339.6 L316.6,339.3 L316.4,339.7 L320.9,342.9 L315.9,339.4 L315.7,339.9 L315.3,339.6 L315.3,339.6 L315.0,340.0 L310.0,337.0 L300.0,342.0 L290.0,347.0 L280.0,350.0 L270.0,355.0 L262.0,362.0 L260.0,370.0 L255.0,377.0 L252.0,382.0 L260.0,387.0 L270.0,392.0 L280.0,395.0 L285.0,400.0 L295.0,402.0 L305.0,402.0 L307.7,403.6 L315.0,400.0 L325.0,395.0 L332.0,390.0 L331.9,389.5 L332.4,389.3 L332.3,389.2 L331.9,389.4 L331.8,388.9 L330.0,390.0 L330.9,384.3 L330.6,382.9 L330.8,381.5 L330.5,380.0 L330.7,378.9 L330.4,377.7 L330.5,377.2 L329.6,375.0 L328.2,370.4 L327.7,369.2 L327.9,368.4 L327.5,367.6 L327.7,366.8 L327.0,365.0 L329.6,356.2 L329.3,355.6 L329.5,355.0 L329.3,354.5 L327.7,351.3 L326.6,348.0 L325.8,346.3 L325.5,346.1 L325.2,345.3 L324.5,344.8 L324.2,344.0 L323.5,343.5 L323.3,342.7 L322.6,342.3 L322.3,341.5 L321.4,340.8 L320.7,339.7 L319.3,338.8 L319.1,339.2ZM320.2,341.2 L319.7,340.8 L319.4,340.6Z" fill="none" stroke="#68626e" stroke-width="1"/>
<path d="M540.2,371.5 L540.6,371.9 L540.5,372.0 L540.0,372.0 L535.0,385.0 L540.0,390.0 L545.0,395.0 L550.0,400.0 L550.7,401.4 L554.7,405.4 L558.7,407.0 L560.0,407.0 L562.5,407.0 L568.7,405.8 L580.0,402.0 L595.0,400.0 L605.0,397.0 L620.0,397.0 L630.0,400.0 L637.0,395.0 L640.0,385.0 L637.0,377.0 L630.0,367.0 L625.0,360.0 L620.0,357.0 L610.0,360.0 L597.0,362.0 L590.0,360.0 L580.0,362.0 L565.0,365.0 L555.0,367.0 L545.0,372.0 L543.8,372.0 L542.7,371.5 L541.6,371.5 L540.5,371.0 L540.4,371.0 L540.9,371.5ZM554.7,405.4 L551.8,402.5 L552.5,403.9 L554.4,405.9 L553.7,405.1 L554.1,406.0 L554.8,406.0 L556.1,406.5 L557.4,406.5Z" fill="none" stroke="#68626e" stroke-width="1"/>
<path d="M741.6,551.9 L741.6,552.0 L742.1,552.0 L743.6,560.0 L747.0,575.0 L745.0,585.0 L742.0,595.0 L745.0,602.0 L744.7,602.4 L745.2,602.6 L744.9,603.1 L745.4,603.3 L745.1,603.7 L745.6,603.9 L745.3,604.3 L748.6,605.7 L749.0,605.6 L749.5,605.5 L750.3,605.9 L751.1,605.7 L751.9,606.1 L752.3,606.0 L753.5,605.2 L754.9,604.9 L756.1,604.2 L756.8,604.0 L757.3,603.5 L758.4,602.7 L759.3,601.6 L760.5,600.9 L761.6,599.4 L762.4,598.8 L763.3,598.0 L764.4,597.8 L765.2,597.1 L766.3,596.9 L767.2,596.2 L768.2,596.0 L769.1,595.3 L770.1,595.1 L770.2,595.0 L770.5,594.6 L770.9,594.9 L771.2,594.5 L771.7,594.8 L772.0,594.4 L772.4,594.6 L772.7,594.2 L773.1,594.5 L773.5,594.1 L775.0,595.0 L785.0,595.0 L785.5,594.5 L786.0,594.7 L786.4,594.3 L786.9,594.5 L787.3,594.1 L787.8,594.3 L788.2,593.9 L788.7,594.1 L789.1,593.7 L789.6,593.9 L790.0,593.6 L790.5,593.8 L790.7,593.5 L790.2,593.3 L790.9,592.6 L792.2,592.1 L794.0,590.8 L794.0,590.2 L794.5,589.9 L794.5,589.2 L795.0,588.9 L795.0,588.3 L795.5,587.9 L795.5,587.3 L796.0,586.9 L796.0,586.3 L796.5,586.0 L796.5,585.4 L797.0,585.0 L800.0,577.0 L795.0,570.0 L795.0,560.0 L795.0,554.9 L793.5,545.9 L788.5,539.5 L779.9,535.3 L779.5,534.4 L778.9,534.0 L778.0,531.9 L775.9,527.7 L774.8,526.9 L773.9,525.8 L772.3,524.7 L770.7,521.5 L769.1,519.3 L768.9,518.8 L766.9,515.5 L766.7,515.3 L764.4,511.4 L763.0,510.0 L761.9,508.2 L761.7,508.0 L760.6,507.6 L760.0,507.1 L759.4,507.2 L758.5,506.9 L754.2,508.0 L752.7,512.6 L757.2,520.1 L757.2,524.7 L752.7,527.7 L751.2,527.7 L750.1,528.2 L749.0,528.2 L748.0,528.7 L747.2,528.7 L746.6,529.6 L746.3,531.1 L745.5,532.3 L745.1,533.8 L745.1,545.9 L742.1,551.9ZM745.3,604.3 L745.8,604.5 L745.5,604.9 L746.0,605.1 L745.9,605.2 L746.1,605.2 L746.9,605.5 L747.8,605.4Z" fill="none" stroke="#68626e" stroke-width="1"/>
<path d="M682.2,488.6 L681.6,488.4 L681.8,488.9 L681.4,489.2 L681.6,489.7 L681.6,489.7 L681.4,490.4 L681.7,491.2 L680.0,497.0 L685.0,505.0 L680.0,515.0 L680.0,530.0 L685.0,527.0 L690.0,532.0 L697.0,530.0 L702.0,535.0 L707.0,542.0 L715.0,547.0 L722.0,550.0 L732.0,552.0 L740.0,552.0 L741.6,552.0 L741.6,551.9 L742.1,551.9 L745.1,545.9 L745.1,533.8 L745.5,532.3 L746.3,531.1 L746.6,529.6 L747.2,528.7 L746.9,528.7 L747.0,528.2 L746.5,528.2 L746.6,527.7 L743.6,524.7 L743.6,515.6 L740.6,506.5 L740.6,500.5 L736.0,497.5 L733.0,491.4 L734.5,485.4 L730.0,480.0 L722.0,477.0 L716.6,477.0 L715.6,476.8 L714.4,477.0 L712.0,477.0 L702.0,480.0 L692.0,482.0 L684.3,488.1 L684.2,488.2 L683.7,488.0 L683.2,488.4 L682.7,488.2ZM734.5,485.4 L734.2,485.0 L734.6,484.8 L734.3,484.4 L734.8,484.2 L734.4,483.8 L734.5,483.7 L735.2,484.0 L734.4,483.7 L733.8,483.0 L732.9,482.7 L732.3,481.9 L731.4,481.6Z" fill="none" stroke="#68626e" stroke-width="1"/>
<path d="M495.8,462.5 L496.7,462.5 L497.4,463.0 L498.3,463.0 L499.1,463.5 L500.0,463.5 L500.7,464.0 L501.6,464.0 L502.4,464.5 L503.3,464.5 L504.0,465.0 L504.9,465.0 L505.2,465.2 L505.1,465.5 L505.3,465.0 L505.8,465.0 L505.9,464.5 L506.5,464.5 L506.6,464.0 L507.1,464.0 L507.2,463.5 L507.8,463.5 L508.3,461.7 L507.6,463.0 L509.4,459.4 L510.1,456.9 L507.3,462.5 L511.3,454.5 L512.0,452.0 L520.0,445.0 L522.8,444.2 L525.4,442.9 L528.2,442.0 L530.7,440.7 L533.3,440.0 L535.8,438.8 L536.2,438.7 L536.4,438.5 L537.8,437.8 L538.9,436.7 L540.3,435.9 L541.5,434.8 L542.9,434.1 L544.0,433.0 L550.0,430.0 L552.8,424.5 L555.0,420.0 L555.0,410.0 L555.0,408.9 L551.8,402.5 L550.7,401.4 L550.0,400.0 L545.0,395.0 L540.0,390.0 L535.0,385.0 L525.0,390.0 L520.0,400.0 L510.0,405.0 L500.0,410.0 L490.0,415.0 L480.0,417.0 L472.0,420.0 L467.0,425.0 L470.0,435.0 L475.0,445.0 L485.0,455.0 L495.0,462.0ZM552.8,424.5 L551.2,427.6 L552.0,427.0ZM554.5,406.8 L553.7,405.1 L552.5,403.9 L554.5,407.9Z" fill="none" stroke="#68626e" stroke-width="1"/>
<path d="M370.0,246.3 L369.5,247.4 L369.5,248.7 L369.0,249.9 L369.0,249.9 L369.5,249.7 L369.5,250.2 L370.0,250.0 L380.0,250.0 L390.0,247.0 L392.0,235.0 L398.3,230.0 L400.4,226.5 L402.4,222.5 L402.4,218.5 L404.4,215.5 L408.4,216.5 L413.4,219.5 L417.5,218.5 L419.5,212.4 L422.5,208.4 L426.5,204.4 L428.5,198.3 L428.5,198.3 L430.6,194.3 L430.6,189.3 L426.5,188.3 L422.5,190.3 L416.5,193.3 L418.5,190.3 L418.5,190.3 L422.1,184.8 L422.5,184.2 L423.5,177.2 L420.5,173.2 L414.5,170.1 L410.4,165.1 L409.4,162.1 L408.4,165.1 L404.4,165.1 L400.4,166.1 L395.3,167.1 L393.8,165.6 L392.3,164.1 L388.3,163.1 L384.2,161.1 L381.2,160.1 L378.2,165.1 L375.2,170.1 L376.2,176.2 L380.2,177.2 L382.2,180.2 L385.2,184.2 L392.3,186.3 L392.3,186.3 L392.3,186.3 L393.0,187.3 L394.3,189.3 L392.3,194.3 L388.3,195.3 L380.2,196.3 L375.2,196.3 L371.1,198.3 L368.1,204.4 L360.0,207.4 L350.0,211.4 L345.0,217.0 L345.0,217.0 L350.0,225.0 L360.0,232.0 L370.0,245.0Z" fill="none" stroke="#68626e" stroke-width="1"/>
<path d="M246.2,256.8 L241.8,258.5 L240.9,263.0 L240.9,263.0 L239.8,268.6 L237.3,264.7 L235.6,262.0 L231.2,261.2 L227.6,266.5 L225.0,275.0 L223.0,279.0 L223.0,279.0 L213.0,278.0 L200.0,280.0 L186.0,301.0 L192.0,300.0 L205.0,307.0 L217.0,312.0 L225.0,315.0 L227.0,327.0 L227.0,341.0 L230.0,345.0 L237.0,337.0 L245.0,335.0 L255.0,327.0 L257.0,315.0 L267.0,310.0 L272.6,303.5 L274.4,300.8 L274.4,292.9 L272.6,285.9 L269.1,280.6 L266.4,275.3 L262.9,271.7 L258.5,269.1 L256.7,267.3 L258.5,264.7 L254.1,264.7 L250.6,263.0 L247.9,259.4 L247.4,258.6 L247.4,257.7 L246.7,256.6Z" fill="none" stroke="#68626e" stroke-width="1"/>
<path d="M126.4,411.5 L126.8,412.0 L133.4,412.0 L134.9,411.5 L136.5,411.5 L137.9,411.0 L145.6,411.0 L158.7,407.8 L165.2,406.2 L165.9,406.4 L165.9,406.3 L165.3,406.2 L163.6,401.3 L160.4,394.7 L162.0,388.2 L165.3,381.6 L158.7,378.4 L152.2,375.0 L144.0,375.0 L139.0,378.4 L132.5,376.7 L126.0,368.6 L119.5,363.6 L119.5,355.5 L122.0,347.0 L122.0,343.5 L120.3,338.2 L116.7,332.9 L109.7,328.5 L104.4,325.9 L102.6,327.6 L100.9,331.1 L97.3,335.6 L97.0,344.7 L97.0,350.9 L97.0,350.9 L92.8,350.3 L91.2,350.0 L90.3,344.4 L90.3,344.4 L91.2,340.8 L89.3,338.4 L88.5,337.3 L85.0,333.8 L85.0,333.8 L85.0,333.8 L87.6,332.9 L87.6,329.4 L85.0,328.5 L79.7,326.7 L78.8,320.6 L77.0,317.0 L71.8,316.2 L68.2,318.8 L68.2,318.8 L66.9,317.5 L65.6,316.2 L68.2,319.7 L68.2,324.1 L66.5,329.4 L64.7,331.1 L63.8,332.0 L64.7,332.9 L70.9,336.4 L71.3,337.2 L72.6,340.0 L75.3,343.5 L78.5,349.1 L77.6,355.3 L77.6,362.3 L80.3,365.9 L83.8,368.5 L87.3,373.8 L87.3,376.4 L92.6,378.2 L97.9,382.6 L101.0,384.8 L104.1,387.0 L106.2,388.1 L109.6,389.8 L114.5,394.8 L116.2,396.4 L117.9,399.7 L119.5,403.0 L126.0,411.0Z" fill="none" stroke="#68626e" stroke-width="1"/>
<path d="M451.1,212.7 L453.9,219.6 L455.2,225.1 L458.0,227.9 L457.8,227.7 L457.9,228.1 L456.6,232.0 L460.8,237.6 L463.6,243.1 L465.0,248.7 L467.7,255.6 L466.1,251.4 L466.5,253.8 L467.2,255.6 L466.9,256.6 L467.0,257.0 L465.8,261.6 L466.1,261.7 L466.4,260.8 L466.3,261.2 L473.3,262.5 L480.2,265.3 L485.7,268.1 L492.0,267.0 L492.3,266.9 L492.2,266.5 L497.0,265.0 L498.2,259.8 L495.4,254.2 L496.8,245.9 L495.4,237.6 L498.2,229.3 L499.6,223.7 L496.8,219.6 L498.2,211.3 L502.4,208.5 L507.9,211.3 L513.4,212.7 L519.0,212.7 L520.4,208.5 L523.1,205.7 L521.8,201.6 L519.0,196.0 L519.0,196.0 L519.0,190.5 L519.0,190.5 L520.4,183.6 L517.6,178.0 L512.0,173.9 L505.1,175.2 L503.7,168.3 L498.2,171.1 L497.5,171.3 L494.0,172.5 L494.0,172.5 L487.1,168.3 L480.2,169.7 L476.0,172.5 L477.0,180.0 L480.2,187.7 L478.8,193.3 L480.2,200.2 L474.6,201.6 L467.7,203.0 L460.8,200.2 L453.9,201.6ZM451.1,212.7 L450.9,213.5 L451.4,214.7 L452.0,215.0 L452.2,215.4Z" fill="none" stroke="#68626e" stroke-width="1"/>
<path d="M937.7,443.9 L937.2,443.5 L937.3,442.8 L936.9,442.4 L937.0,441.8 L933.9,435.8 L930.9,429.7 L927.9,426.7 L921.8,426.7 L915.8,428.2 L909.7,429.7 L905.2,434.2 L900.6,435.8 L893.0,438.8 L885.5,441.8 L877.9,446.4 L870.3,450.9 L878.0,465.0 L883.0,473.0 L888.0,478.0 L894.0,483.0 L899.0,486.0 L904.0,491.0 L904.5,491.3 L904.0,491.6 L905.5,492.3 L906.6,492.3 L910.0,494.0 L912.3,494.0 L912.6,494.5 L913.2,494.5 L913.5,495.0 L914.1,495.0 L914.5,495.5 L915.1,495.5 L915.4,495.9 L917.0,495.5 L919.1,495.5 L920.6,495.1 L921.8,495.4 L924.1,495.4 L926.5,495.9 L928.9,495.9 L934.0,497.0 L947.0,500.0 L957.4,500.0 L957.8,500.5 L958.4,500.5 L958.8,501.0 L959.0,501.0 L959.0,500.4 L959.0,500.0 L958.7,499.7 L958.5,499.7 L958.5,499.1 L958.0,499.0 L958.0,494.0 L953.0,483.0 L947.0,467.0 L942.0,457.0 L939.2,452.7 L938.8,451.4 L936.0,447.7 L936.3,446.2 L936.8,446.1 L936.9,445.6 L937.4,445.5 L937.5,444.7 L937.5,445.0 L938.0,444.9 L937.6,444.5Z" fill="none" stroke="#68626e" stroke-width="1"/>
<path d="M893.7,532.8 L892.9,531.3 L892.6,531.7 L892.3,531.2 L892.0,531.5 L891.9,531.5 L891.7,531.1 L888.2,532.9 L880.0,532.0 L872.0,537.0 L867.0,542.0 L862.0,553.0 L851.0,553.0 L843.0,558.0 L840.0,569.0 L838.9,570.1 L837.5,570.8 L836.3,571.9 L834.9,572.7 L834.1,573.5 L834.8,573.5 L834.3,574.0 L835.0,574.0 L846.0,577.0 L856.0,580.0 L860.0,578.8 L867.0,584.0 L870.6,592.9 L877.6,596.4 L886.5,594.6 L895.3,598.2 L902.3,599.9 L907.6,607.0 L914.7,605.2 L923.5,605.2 L930.5,599.9 L934.9,594.0 L935.8,592.9 L937.6,585.8 L934.1,578.8 L927.0,575.2 L920.0,570.0 L912.9,562.9 L907.6,552.3 L902.3,543.5 L895.3,538.2 L894.9,536.3 L894.1,534.7Z" fill="none" stroke="#68626e" stroke-width="1"/>
<path d="M625.0,340.0 L625.0,350.0 L625.0,360.0 L630.0,367.0 L637.0,377.0 L641.3,378.1 L645.0,381.9 L652.6,385.6 L662.7,385.6 L670.2,383.1 L671.5,378.1 L676.5,373.0 L684.0,366.8 L689.1,361.7 L694.2,358.0 L700.5,361.7 L708.0,361.7 L705.5,358.0 L703.0,350.4 L701.7,342.8 L695.4,336.5 L690.4,330.2 L690.2,330.0 L684.0,322.7 L682.2,322.3 L677.8,321.4 L675.3,315.1 L672.7,310.0 L665.2,310.0 L661.4,311.3 L661.4,311.3 L656.4,313.9 L648.0,318.0 L640.0,324.0 L630.3,326.5 L621.6,328.0 L618.7,329.4 L622.0,332.0Z" fill="none" stroke="#68626e" stroke-width="1"/>
<path d="M299.0,531.7 L299.5,532.5 L299.5,533.4 L300.0,534.1 L300.0,540.4 L299.5,541.1 L299.5,542.0 L298.7,543.2 L294.0,551.1 L293.5,551.8 L293.5,551.9 L293.2,552.4 L293.2,553.2 L292.7,555.4 L292.7,557.6 L291.0,565.0 L288.0,578.0 L289.6,570.9 L288.9,573.1 L287.5,580.0 L287.5,582.7 L288.0,583.0 L288.0,584.0 L297.0,587.0 L310.0,590.0 L319.0,590.0 L332.0,593.0 L347.0,597.0 L366.0,597.0 L366.4,597.3 L366.7,597.0 L367.1,597.3 L367.5,596.9 L367.9,597.3 L368.2,596.9 L368.6,597.2 L368.9,596.9 L369.3,597.2 L370.0,596.6 L369.9,596.0 L370.3,595.5 L370.2,594.9 L370.6,594.5 L370.5,593.9 L371.0,593.4 L370.9,592.8 L371.3,592.4 L371.2,591.8 L373.0,590.0 L370.0,584.0 L360.0,578.0 L347.0,571.0 L354.3,574.9 L353.8,574.1 L353.0,573.7 L352.6,572.9 L351.8,572.4 L351.4,571.6 L347.9,569.8 L350.6,571.2 L350.1,570.4 L349.3,570.0 L348.9,569.2 L348.5,569.0 L340.2,560.7 L339.9,559.7 L339.1,559.0 L338.8,557.9 L337.8,556.4 L339.3,561.2 L337.3,554.7 L336.3,553.2 L338.9,561.5 L335.7,551.5 L334.7,550.0 L334.2,548.3 L333.2,546.8 L338.0,562.0 L332.0,543.0 L335.0,527.0 L332.0,511.0 L330.2,509.2 L330.3,508.6 L329.9,508.2 L330.0,508.0 L329.6,507.9 L329.3,507.5 L321.7,505.8 L318.3,505.5 L329.0,508.0 L316.0,505.0 L300.0,502.0 L300.0,511.0 L300.0,516.0 L299.5,519.0 L299.5,522.0 L299.0,525.0 L299.0,528.1 L298.8,529.2 L298.5,529.1 L298.5,529.6 L298.1,529.6 L298.5,529.9 L298.5,530.5 L299.0,530.9Z" fill="none" stroke="#68626e" stroke-width="1"/>
<path d="M640.0,415.0 L637.0,405.0 L637.0,395.0 L630.0,400.0 L620.0,397.0 L605.0,397.0 L595.0,400.0 L580.0,402.0 L568.7,405.8 L562.5,407.0 L560.0,407.0 L558.7,407.0 L557.4,406.5 L556.1,406.5 L554.8,406.0 L554.1,406.0 L554.5,406.8 L554.5,407.9 L555.0,408.9 L555.0,410.0 L555.0,417.0 L555.0,420.0 L552.8,424.5 L552.0,427.0 L562.0,432.0 L575.0,435.0 L585.0,440.0 L595.0,445.0 L602.0,455.0 L602.2,455.7 L602.8,456.0 L603.0,456.6 L603.6,456.9 L603.8,457.6 L604.4,457.9 L604.6,458.6 L605.2,458.9 L605.4,459.5 L606.4,460.0 L607.5,460.0 L608.5,460.5 L609.6,460.5 L610.6,461.0 L611.8,461.0 L611.9,461.1 L617.9,459.3 L612.1,461.0 L613.9,461.0 L616.1,460.3 L618.7,459.0 L621.5,458.2 L622.6,457.6 L623.4,457.8 L624.1,457.5 L635.0,460.0 L635.0,457.0 L635.5,457.5 L635.5,456.8 L635.6,456.9 L635.5,456.2 L635.5,455.3 L635.8,455.1 L635.7,454.6 L645.0,450.0 L647.0,440.0 L646.4,435.5 L646.4,431.7 L645.9,428.0 L645.9,424.6 L645.4,423.6 L644.4,421.5 L643.9,420.6 L642.6,419.1 L641.7,417.3 L640.4,415.8Z" fill="none" stroke="#68626e" stroke-width="1"/>
<path d="M445.0,272.0 L444.0,277.0 L440.0,282.0 L435.0,287.0 L437.0,292.0 L435.0,299.0 L440.0,307.0 L442.0,315.0 L437.0,320.0 L430.0,322.0 L430.0,330.0 L432.0,339.0 L437.0,348.0 L439.8,351.7 L440.1,351.3 L440.3,351.6 L440.5,351.6 L440.8,351.1 L441.5,351.0 L442.7,349.2 L445.5,346.4 L447.0,345.4 L447.0,344.8 L447.5,344.4 L447.5,343.8 L448.0,343.5 L452.9,337.0 L459.5,338.6 L467.7,337.0 L477.5,338.6 L479.1,330.4 L487.3,322.2 L487.9,321.6 L488.8,321.4 L489.4,320.8 L490.3,320.6 L491.0,320.0 L491.8,319.8 L492.5,319.2 L493.3,319.0 L493.5,318.9 L494.3,318.3 L495.3,318.1 L495.5,318.1 L496.5,317.4 L496.2,317.0 L496.6,316.7 L496.3,316.3 L496.7,316.0 L496.5,315.6 L496.9,315.4 L496.6,315.0 L497.0,314.7 L496.7,314.3 L497.1,314.0 L498.8,305.8 L500.4,297.7 L498.8,289.5 L497.1,282.9 L493.8,273.1 L492.3,266.9 L492.0,267.0 L485.7,268.1 L480.2,265.3 L473.3,262.5 L466.3,261.2 L466.4,260.8 L466.1,261.7 L465.8,261.6 L465.0,265.0 L460.0,269.0 L455.0,275.0Z" fill="none" stroke="#68626e" stroke-width="1"/>
<path d="M797.0,594.1 L801.1,595.5 L801.9,595.2 L802.7,595.5 L803.5,595.2 L806.8,603.7 L811.9,608.8 L818.7,612.2 L825.5,617.3 L834.0,620.6 L842.4,624.0 L849.2,624.0 L854.3,627.4 L856.0,630.8 L862.7,634.2 L867.8,641.0 L872.9,644.4 L880.0,642.7 L881.0,634.0 L894.0,627.0 L903.0,622.0 L907.6,617.0 L907.6,607.0 L907.6,607.0 L902.3,599.9 L895.3,598.2 L886.5,594.6 L877.6,596.4 L870.6,592.9 L867.0,584.0 L860.0,578.8 L856.0,580.0 L846.0,577.0 L835.0,574.0 L834.3,574.0 L834.8,573.5 L834.1,573.5 L834.6,573.0 L834.2,573.0 L833.2,573.5 L832.1,573.5 L831.1,574.0 L830.0,574.0 L816.0,577.0 L808.0,582.0 L805.0,590.0 L797.0,593.0 L797.7,593.3 L797.0,593.5 L797.8,593.8ZM797.0,594.1 L797.8,594.3 L797.0,594.6 L797.8,594.8 L797.0,595.1 L797.9,595.4 L798.2,595.4 L798.8,595.2 L799.6,595.5 L800.4,595.2ZM790.9,592.6 L790.2,593.3 L790.7,593.5 L790.5,593.8 L792.1,594.4 L793.3,594.4 L794.5,594.8 L794.5,594.3 L795.0,594.4 L795.0,593.9 L795.5,594.1 L795.5,593.5 L796.0,593.7 L796.0,593.2 L796.5,593.4 L796.5,592.7 L796.0,592.8 L796.0,592.3 L795.5,592.5 L795.5,592.0 L795.0,592.1 L795.0,591.6 L794.5,591.8 L794.5,591.3 L794.0,591.5 L794.0,590.9 L793.7,591.0 L792.2,592.1Z" fill="none" stroke="#68626e" stroke-width="1"/>
<path d="M790.0,593.6 L789.6,593.9 L789.1,593.7 L788.7,594.1 L788.2,593.9 L787.8,594.3 L787.3,594.1 L786.9,594.5 L786.4,594.3 L786.0,594.7 L785.5,594.5 L785.0,595.0 L775.0,595.0 L773.5,594.1 L773.1,594.5 L772.7,594.2 L772.4,594.6 L772.0,594.4 L771.7,594.8 L771.2,594.5 L770.9,594.9 L770.5,594.6 L770.2,595.0 L770.1,595.1 L770.2,595.1 L769.1,595.3 L768.2,596.0 L767.2,596.2 L766.3,596.9 L765.2,597.1 L764.4,597.8 L763.3,598.0 L761.6,599.4 L760.5,600.9 L759.3,601.6 L758.4,602.7 L757.3,603.5 L756.4,604.6 L757.1,604.5 L756.7,605.1 L757.4,604.9 L757.2,605.3 L757.2,605.5 L757.7,605.4 L759.4,613.9 L762.8,620.6 L764.5,630.8 L761.1,635.9 L762.8,642.7 L767.9,652.8 L776.4,656.2 L783.1,659.6 L788.2,663.0 L791.6,652.8 L796.7,649.4 L803.5,644.4 L808.5,644.4 L817.0,646.0 L823.8,651.1 L830.6,654.5 L837.3,651.1 L845.8,651.1 L852.6,654.5 L858.2,650.2 L859.3,649.4 L866.1,646.0 L866.8,644.0 L867.8,641.0 L862.7,634.2 L856.0,630.8 L854.3,627.4 L849.2,624.0 L842.4,624.0 L834.0,620.6 L825.5,617.3 L818.7,612.2 L811.9,608.8 L806.8,603.7 L803.5,595.2 L802.7,595.5 L801.9,595.2 L801.1,595.5 L800.4,595.2 L799.6,595.5 L798.8,595.2 L798.2,595.4 L797.9,595.4 L797.0,595.1 L796.3,595.4 L795.0,595.4 L795.0,594.9 L794.5,594.9 L794.5,594.8 L793.3,594.4 L792.1,594.4Z" fill="none" stroke="#68626e" stroke-width="1"/>
<path d="M450.7,214.4 L446.7,212.4 L440.6,211.4 L436.6,208.4 L430.6,206.4 L426.5,204.4 L422.5,208.4 L419.5,212.4 L417.5,218.5 L413.4,219.5 L408.4,216.5 L404.4,215.5 L402.4,218.5 L402.4,222.5 L400.4,226.5 L398.3,230.0 L392.0,235.0 L390.0,247.0 L392.0,255.0 L400.0,267.0 L405.0,282.0 L411.0,282.0 L420.0,284.0 L423.0,287.0 L423.7,287.0 L424.2,287.5 L424.9,287.5 L425.3,287.9 L427.4,287.5 L430.0,287.5 L432.5,287.0 L435.0,287.0 L440.0,282.0 L444.0,277.0 L445.0,272.0 L455.0,275.0 L460.0,269.0 L465.0,265.0 L467.0,257.0 L466.9,256.6 L467.2,255.6 L466.5,253.8 L466.1,251.4 L465.0,248.7 L463.6,243.1 L460.8,237.6 L456.6,232.0 L457.9,228.1 L457.8,227.7 L455.2,225.1 L453.9,219.6 L452.2,215.4 L452.0,215.0 L451.4,214.7 L451.1,214.0 L450.9,213.9 L450.8,213.9Z" fill="none" stroke="#68626e" stroke-width="1"/>
<path d="M320.0,334.8 L319.7,334.4 L320.0,333.9 L319.7,333.4 L320.0,332.9 L319.7,332.5 L320.0,332.0 L325.0,327.0 L332.0,322.0 L332.0,315.0 L337.3,317.7 L337.7,317.3 L338.2,317.5 L338.6,317.2 L339.0,317.4 L339.4,317.0 L339.9,317.3 L340.5,316.7 L340.1,316.3 L340.4,316.0 L340.0,315.7 L340.4,315.3 L340.0,315.0 L330.0,305.0 L325.0,307.0 L324.2,304.2 L322.9,301.6 L322.0,298.8 L321.0,296.8 L321.0,294.0 L320.5,291.0 L320.5,288.0 L320.1,285.5 L320.0,285.6 L320.0,285.0 L312.0,290.0 L307.9,297.3 L304.4,300.0 L295.5,300.8 L286.7,300.0 L279.7,300.8 L274.4,300.8 L272.6,303.5 L267.0,310.0 L257.0,315.0 L255.0,327.0 L245.0,335.0 L237.0,337.0 L230.0,345.0 L231.1,350.6 L230.8,351.7 L231.1,352.8 L230.8,354.0 L230.9,354.8 L230.2,355.8 L229.3,357.9 L227.9,359.8 L227.0,362.0 L227.7,363.4 L228.8,364.5 L229.8,366.4 L231.7,369.2 L233.1,371.9 L233.0,372.0 L233.4,372.5 L233.3,373.1 L233.6,373.7 L233.5,374.3 L233.8,374.8 L234.2,374.5 L234.5,374.9 L234.9,374.6 L235.2,375.1 L235.6,374.8 L235.9,375.2 L236.3,374.9 L236.6,375.3 L237.0,375.0 L247.0,375.0 L252.0,382.0 L255.0,377.0 L260.0,370.0 L262.0,362.0 L270.0,355.0 L280.0,350.0 L290.0,347.0 L300.0,342.0 L310.0,337.0 L315.0,340.0 L315.3,339.6 L315.3,339.6 L315.7,339.9 L315.9,339.4 L316.4,339.7 L316.6,339.3 L317.0,339.6 L317.3,339.2 L318.1,339.7 L318.1,339.7 L317.7,339.5 L318.0,339.0 L318.4,339.3 L318.6,338.9 L319.1,339.2 L320.0,337.7 L319.7,337.2 L320.0,336.7 L319.7,336.2 L320.0,335.8 L319.7,335.3ZM308.3,296.7 L311.7,290.5 L311.2,290.4 L311.0,290.8 L310.5,290.7 L309.0,293.3 L310.2,291.2 L309.7,291.1 L309.4,291.5 L308.9,291.4 L308.7,291.9 L308.8,292.6 L308.5,293.2 L308.6,293.9 L308.3,294.6 L308.4,295.3 L308.1,295.9Z" fill="none" stroke="#68626e" stroke-width="1"/>
<path d="M254.6,460.5 L253.0,463.0 L245.0,465.0 L243.2,465.0 L241.4,464.5 L239.6,464.5 L238.1,464.1 L237.8,463.5 L237.7,463.4 L237.2,462.6 L236.8,462.5 L236.0,461.0 L230.0,465.0 L234.1,462.3 L232.5,462.8 L229.8,464.5 L231.0,463.7 L228.4,464.5 L226.7,464.5 L225.0,465.0 L223.3,464.5 L222.1,464.5 L214.8,462.1 L213.9,462.3 L210.0,461.0 L200.0,461.0 L196.0,467.0 L189.0,469.0 L193.0,477.0 L202.0,477.0 L208.0,481.0 L212.0,489.0 L210.0,497.0 L210.4,498.5 L213.8,503.6 L211.3,499.9 L211.7,501.4 L213.7,504.3 L212.6,502.8 L213.1,504.3 L213.5,504.9 L214.4,504.5 L214.8,503.7 L215.5,503.4 L215.9,502.6 L216.6,502.2 L217.0,501.5 L218.0,501.0 L221.2,500.0 L222.2,499.5 L224.3,498.9 L228.4,497.6 L228.8,497.8 L229.4,497.7 L234.4,500.9 L236.1,502.2 L236.7,503.3 L237.8,504.1 L236.0,501.0 L240.0,508.0 L245.0,508.0 L249.0,506.0 L248.8,506.1 L249.7,506.7 L253.7,510.7 L254.2,511.9 L254.6,512.3 L255.6,515.5 L256.8,518.4 L257.6,518.7 L264.9,520.5 L264.4,520.4 L267.8,521.5 L276.8,523.0 L277.2,523.1 L279.5,523.5 L280.4,523.7 L283.4,524.7 L286.6,525.2 L277.0,522.0 L289.0,526.0 L298.0,528.0 L291.7,526.6 L292.7,527.3 L293.8,527.6 L294.8,528.3 L298.8,529.2 L299.0,528.1 L299.0,525.0 L299.5,522.0 L299.5,519.0 L300.0,516.0 L300.0,511.0 L300.0,505.0 L298.0,497.0 L298.0,489.0 L296.0,479.0 L291.0,475.0 L283.0,473.0 L275.0,469.0 L269.0,461.0 L267.4,459.2 L266.3,457.1 L264.7,455.2 L263.6,453.1 L263.3,452.8 L258.7,455.0 L258.2,455.8 L257.3,456.3 L255.0,460.0 L254.8,460.1ZM263.3,452.8 L262.9,452.9 L262.7,452.5 L260.1,453.8 L259.5,454.6ZM262.7,452.5 L262.2,452.7 L262.0,452.3 L261.5,452.5 L261.2,452.8 L260.9,453.4ZM298.8,529.2 L296.0,528.6 L296.9,529.3 L298.5,529.6 L298.5,529.1Z" fill="none" stroke="#68626e" stroke-width="1"/>
<path d="M899.4,496.1 L898.4,496.1 L897.6,496.6 L896.6,496.6 L895.8,497.1 L894.8,497.1 L894.3,497.4 L894.2,497.6 L893.5,497.6 L888.0,505.0 L886.5,510.0 L890.0,515.3 L895.3,522.3 L893.5,529.4 L895.3,538.2 L902.3,543.5 L907.6,552.3 L912.9,562.9 L920.0,570.0 L927.0,575.2 L934.1,578.8 L937.6,575.2 L939.4,566.4 L939.4,557.6 L942.9,548.8 L948.2,543.5 L960.5,540.0 L969.3,534.7 L976.4,529.4 L976.4,522.3 L976.4,521.6 L973.3,518.5 L972.8,518.2 L972.4,517.6 L970.0,515.3 L968.6,513.4 L964.9,508.4 L964.5,507.7 L963.1,505.9 L959.0,500.4 L959.0,501.0 L958.8,501.0 L958.4,500.5 L957.8,500.5 L962.3,506.5 L957.4,500.0 L947.0,500.0 L934.0,497.0 L928.9,495.9 L926.5,495.9 L924.1,495.4 L921.8,495.4 L920.6,495.1 L919.1,495.5 L917.0,495.5 L915.4,495.9 L915.1,495.5 L914.5,495.5 L914.1,495.0 L913.5,495.0 L913.2,494.5 L912.6,494.5 L914.7,497.6 L912.3,494.0 L910.0,494.0 L906.6,492.3 L905.5,492.3 L904.5,491.8 L903.8,491.8 L900.3,497.1 L903.3,492.6 L902.3,493.2 L901.7,494.1 L900.7,494.7 L900.1,495.7ZM963.0,505.7 L961.9,503.6 L959.9,501.6ZM894.9,536.3 L893.6,530.0 L893.2,530.4 L893.3,531.0 L892.9,531.3 L893.7,532.8 L893.6,532.3 L894.1,534.7Z" fill="none" stroke="#68626e" stroke-width="1"/>
<path d="M398.4,496.4 L398.1,496.7 L397.7,496.5 L397.3,496.8 L398.6,497.7 L396.9,496.5 L396.5,496.9 L398.3,498.1 L396.1,496.6 L395.8,496.9 L398.1,498.6 L395.4,496.6 L395.0,497.0 L385.0,500.0 L375.0,497.0 L365.0,495.0 L350.0,495.0 L335.0,497.0 L332.0,502.0 L330.2,509.2 L332.0,511.0 L335.0,527.0 L332.0,543.0 L333.2,546.8 L340.0,557.0 L334.2,548.3 L334.7,550.0 L335.7,551.5 L336.3,553.2 L339.2,557.6 L336.3,553.2 L337.3,554.7 L337.8,556.4 L338.8,557.9 L339.1,559.0 L339.9,559.7 L340.2,560.7 L348.5,569.0 L348.9,569.2 L349.3,570.0 L350.1,570.4 L350.5,571.1 L350.6,571.2 L351.4,571.6 L351.8,572.4 L352.6,572.9 L349.6,567.3 L353.0,573.7 L353.8,574.1 L350.0,567.0 L354.3,574.9 L360.0,578.0 L370.0,584.0 L370.2,584.4 L372.0,580.0 L377.0,567.0 L382.0,560.0 L387.0,555.0 L392.0,547.0 L395.0,540.0 L400.0,530.0 L400.0,515.0 L402.0,502.0 L402.0,501.4 L401.5,501.0 L401.5,500.4 L401.0,500.1 L401.0,499.4 L400.5,499.1 L400.5,498.5 L400.0,498.1 L400.0,497.5 L399.5,497.1 L399.5,496.5 L399.2,496.3 L398.9,496.7Z" fill="none" stroke="#68626e" stroke-width="1"/>
<path d="M368.3,250.2 L368.0,250.9 L367.3,251.2 L367.0,252.0 L355.0,257.0 L335.0,265.0 L322.0,272.0 L320.0,285.0 L320.5,288.0 L320.5,291.0 L321.0,294.0 L321.0,296.8 L322.0,298.8 L322.9,301.6 L324.2,304.2 L322.0,297.0 L325.0,307.0 L330.0,305.0 L340.0,315.0 L340.4,315.3 L340.0,315.7 L340.4,316.0 L340.1,316.3 L340.5,316.7 L340.1,317.0 L341.3,318.0 L342.4,318.5 L342.9,318.6 L343.6,319.2 L344.5,319.2 L344.8,319.5 L355.0,320.5 L357.0,320.5 L362.0,321.0 L364.4,320.5 L367.0,320.5 L369.5,320.0 L372.0,320.0 L372.5,320.0 L372.7,320.5 L373.2,320.5 L373.3,321.0 L374.1,321.0 L374.1,320.5 L374.6,320.5 L374.5,320.0 L375.0,320.0 L380.0,317.0 L387.0,315.0 L391.0,310.0 L391.0,301.0 L397.0,299.0 L405.0,292.0 L405.0,282.0 L400.0,267.0 L392.0,255.0 L390.0,247.0 L380.0,250.0 L370.0,250.0 L368.2,250.8 L369.5,250.2 L369.5,249.7 L369.0,249.9 L369.0,249.9 L369.3,249.2 L369.0,249.9Z" fill="none" stroke="#68626e" stroke-width="1"/>
<path d="M877.9,380.5 L877.3,380.6 L877.5,380.8 L876.4,379.7 L870.3,381.2 L864.2,382.7 L864.2,387.4 L864.1,387.6 L864.1,390.4 L865.3,395.0 L864.6,392.2 L864.6,394.2 L864.9,395.2 L867.0,399.5 L867.8,400.1 L868.2,400.7 L868.1,400.8 L868.5,401.1 L862.7,405.5 L855.2,411.5 L853.6,417.6 L852.1,425.2 L849.1,431.2 L844.5,438.8 L845.0,439.8 L844.7,440.3 L847.0,444.7 L847.6,444.8 L855.2,447.9 L862.7,449.4 L870.3,450.9 L877.9,446.4 L885.5,441.8 L893.0,438.8 L900.6,435.8 L905.2,434.2 L909.7,429.7 L915.8,428.2 L921.8,426.7 L927.9,426.7 L929.4,423.6 L930.9,417.6 L938.5,416.1 L946.0,414.5 L953.6,411.5 L958.2,407.0 L957.8,407.4 L958.2,405.5 L958.2,405.5 L957.3,407.4 L952.1,394.8 L946.0,393.3 L941.5,390.3 L937.0,387.3 L929.4,387.3 L924.8,381.2 L923.3,376.7 L918.8,374.4 L914.2,374.4 L912.7,378.2 L921.2,381.0 L914.3,383.2 L911.2,384.2 L905.2,385.8 L903.0,388.0 L900.6,390.3 L897.5,391.8 L894.5,393.3 L894.5,393.3 L890.0,391.8 L885.5,387.3 L879.4,382.7 L878.5,381.8 L878.5,381.8 L878.5,381.8 L878.3,380.9ZM865.7,398.1 L866.6,398.6 L865.1,395.6 L865.1,396.8ZM844.7,441.4 L845.7,443.4 L845.0,442.0 L844.7,442.5 L845.2,443.4 L845.8,443.5 L846.1,444.0 L846.7,444.1 L845.0,440.9Z" fill="none" stroke="#68626e" stroke-width="1"/>
<path d="M213.5,504.9 L213.1,504.3 L213.6,506.1 L213.9,505.5 L213.7,504.8ZM211.3,499.9 L210.4,498.5 L210.0,497.0 L212.0,489.0 L208.0,481.0 L202.0,477.0 L193.0,477.0 L190.2,471.4 L187.9,471.4 L181.1,472.5 L174.3,472.5 L167.5,474.8 L163.0,475.9 L151.7,475.9 L144.9,479.3 L138.1,481.6 L129.0,479.3 L128.0,487.0 L130.0,495.0 L134.0,505.0 L138.0,512.0 L138.0,512.0 L140.0,520.0 L149.0,526.0 L155.0,532.0 L165.0,536.0 L185.0,540.0 L192.6,552.3 L192.6,552.3 L196.3,544.8 L209.5,544.8 L211.4,533.5 L207.7,518.4 L213.3,508.9 L213.6,508.2 L213.4,507.5 L213.8,506.8 L212.6,502.8 L211.7,501.4Z" fill="none" stroke="#68626e" stroke-width="1"/>
<path d="M570.5,284.7 L570.9,286.8 L571.3,287.6 L571.7,288.6 L572.0,290.8 L573.8,295.4 L575.0,297.1 L575.5,298.8 L577.7,302.1 L576.6,300.4 L577.2,302.1 L577.2,302.3 L577.3,302.5 L578.1,304.9 L578.2,306.4 L578.9,307.5 L579.0,308.7 L582.2,314.0 L583.3,319.3 L583.8,319.3 L583.9,319.8 L584.4,319.8 L584.5,320.2 L584.9,319.8 L585.7,319.8 L586.2,319.3 L586.9,319.3 L592.7,316.4 L593.7,315.9 L594.0,315.9 L594.7,315.4 L598.5,313.5 L604.3,307.7 L611.5,304.8 L613.0,299.0 L613.0,293.2 L617.3,288.9 L624.5,287.4 L633.2,281.6 L637.6,277.3 L639.0,270.0 L637.6,261.4 L631.8,261.4 L630.3,257.0 L627.3,258.1 L626.0,258.5 L618.5,261.1 L620.2,258.5 L623.0,254.1 L621.6,248.3 L618.7,242.5 L613.0,242.5 L605.7,244.0 L601.4,241.1 L598.5,233.8 L595.6,228.0 L589.8,228.0 L584.0,229.5 L576.7,228.0 L569.5,225.1 L563.7,222.2 L555.0,222.2 L554.5,222.2 L554.5,222.7 L555.0,223.1 L555.0,223.7 L560.0,225.0 L560.0,240.0 L562.0,255.0 L567.0,265.0 L570.0,277.0 L567.6,281.2 L568.4,282.0 L569.1,283.3Z" fill="none" stroke="#68626e" stroke-width="1"/>
<path d="M597.6,541.9 L597.0,542.0 L602.0,530.0 L600.0,517.0 L597.0,505.0 L592.0,500.0 L585.0,502.0 L575.0,505.0 L567.0,510.0 L555.0,512.0 L545.0,512.0 L540.0,505.0 L535.0,515.0 L535.0,530.0 L535.0,542.0 L525.0,555.0 L520.0,565.0 L525.0,572.0 L530.0,577.0 L530.0,580.0 L537.0,588.3 L548.0,592.5 L557.7,591.1 L564.7,593.9 L570.2,598.0 L569.6,598.2 L570.2,598.6 L570.7,598.2 L571.1,597.1 L573.0,595.2 L575.7,586.9 L575.7,581.3 L576.0,580.0 L572.0,570.0 L570.0,562.0 L582.0,555.0 L590.0,547.0 L596.8,542.2 L597.5,542.0Z" fill="none" stroke="#68626e" stroke-width="1"/>
<path d="M757.2,605.5 L757.2,605.3 L757.4,604.9 L756.7,605.1 L757.1,604.5 L756.4,604.6 L756.8,604.0 L756.1,604.2 L754.9,604.9 L753.5,605.2 L752.3,606.0 L751.9,606.1 L751.1,605.7 L750.3,605.9 L749.5,605.5 L749.0,605.6 L748.6,605.7 L747.8,605.4 L746.9,605.5 L746.1,605.2 L745.3,605.4 L744.9,605.9 L744.2,606.1 L743.9,606.7 L743.2,606.8 L742.8,607.4 L742.1,607.5 L741.8,608.1 L741.1,608.2 L740.7,608.8 L735.0,610.0 L734.3,609.6 L733.6,609.7 L733.0,609.3 L732.3,609.5 L731.7,609.1 L731.6,609.1 L731.2,609.4 L730.8,609.1 L730.4,609.5 L729.9,609.2 L729.5,609.5 L729.1,609.2 L728.7,609.6 L728.2,609.3 L727.8,609.6 L727.4,609.4 L724.1,612.0 L721.8,613.6 L720.0,614.0 L717.5,614.0 L716.5,614.2 L716.2,614.0 L715.4,614.0 L714.7,613.5 L713.9,613.5 L713.2,613.0 L712.4,613.0 L711.7,612.5 L710.9,612.5 L710.3,612.1 L709.8,612.3 L709.4,612.0 L708.9,612.2 L708.9,612.2 L705.6,613.3 L702.6,614.8 L700.2,615.5 L699.5,616.2 L698.6,616.4 L697.8,617.2 L695.9,617.7 L695.9,624.0 L693.4,630.3 L695.9,636.6 L690.8,642.9 L690.8,650.5 L691.7,654.5 L693.3,657.7 L693.4,658.0 L693.2,658.6 L693.5,659.2 L693.3,659.9 L693.6,660.5 L693.5,660.8 L693.8,660.9 L694.4,661.1 L695.1,661.3 L700.2,663.0 L706.9,661.3 L715.4,663.0 L720.5,664.7 L725.6,666.4 L727.3,671.4 L730.6,676.5 L737.4,679.9 L744.2,681.6 L751.0,679.9 L757.7,679.9 L762.8,681.6 L762.8,688.4 L764.5,696.8 L767.9,701.1 L771.3,698.5 L773.0,688.4 L776.4,679.9 L781.4,671.4 L788.2,663.0 L783.1,659.6 L776.4,656.2 L767.9,652.8 L762.8,642.7 L761.1,635.9 L764.5,630.8 L762.8,620.6 L759.4,613.9 L757.7,605.4Z" fill="none" stroke="#68626e" stroke-width="1"/>
<path d="M640.4,415.8 L646.4,422.7 L641.7,417.3 L642.6,419.1 L646.3,423.3 L647.7,422.6 L648.9,421.4 L652.7,418.9 L653.9,411.3 L660.2,412.6 L666.5,415.1 L671.6,418.9 L680.4,420.2 L685.4,423.9 L687.9,427.7 L695.5,426.4 L701.8,427.7 L703.0,434.0 L706.8,432.7 L711.9,426.4 L718.2,426.4 L725.7,427.7 L730.8,427.7 L732.0,420.0 L730.0,407.0 L727.0,395.0 L730.7,393.2 L735.7,390.7 L739.5,385.6 L742.0,378.1 L740.8,370.5 L743.3,365.5 L745.8,357.9 L747.0,350.4 L744.5,346.6 L738.2,350.4 L735.7,359.2 L729.4,364.2 L725.6,370.5 L718.1,370.5 L718.1,370.5 L713.0,368.0 L711.3,365.9 L708.0,361.7 L708.0,361.7 L700.5,361.7 L694.2,358.0 L689.1,361.7 L684.0,366.8 L676.5,373.0 L671.5,378.1 L670.2,383.1 L662.7,385.6 L652.6,385.6 L645.0,381.9 L641.3,378.1 L637.0,377.0 L640.0,385.0 L637.0,395.0 L637.0,405.0 L640.0,415.0ZM643.9,420.6 L644.8,422.4 L645.9,423.7 L646.3,423.3Z" fill="none" stroke="#68626e" stroke-width="1"/>
<path d="M949.9,445.3 L948.4,445.1 L947.4,445.4 L946.3,445.2 L946.1,445.3 L943.8,445.3 L942.6,445.1 L941.4,445.3 L939.8,445.3 L939.6,445.1 L939.0,445.2 L938.6,444.8 L937.5,445.0 L937.4,445.5 L938.2,445.3 L936.9,445.6 L936.8,446.1 L936.3,446.2 L936.0,447.7 L938.8,451.4 L939.2,452.7 L942.0,457.0 L947.0,467.0 L953.0,483.0 L958.0,494.0 L958.0,499.0 L958.5,499.1 L958.5,499.7 L958.7,499.7 L962.3,503.3 L964.9,508.4 L968.6,513.4 L970.0,515.3 L972.4,517.6 L972.8,518.2 L973.3,518.5 L975.1,520.3 L976.4,521.2 L976.4,520.8 L976.6,520.7 L981.6,519.4 L985.4,516.9 L987.9,511.9 L991.7,508.1 L993.6,504.2 L994.2,503.0 L996.8,498.0 L1004.3,495.5 L1011.9,494.2 L1020.7,494.2 L1028.2,495.5 L1033.3,491.7 L1039.6,487.9 L1039.6,480.4 L1035.8,474.1 L1035.5,473.1 L1033.3,465.3 L1030.8,455.2 L1025.7,453.9 L1018.2,452.7 L1013.1,448.9 L1005.6,446.4 L1004.6,446.1 L1001.0,446.8 L1000.7,446.9 L1000.3,446.9 L999.3,447.1 L998.1,446.9 L994.9,446.9 L993.8,446.7 L988.7,445.4 L984.5,444.6 L986.1,444.9 L984.1,444.1 L983.5,443.4 L982.6,443.0 L982.0,442.2 L980.9,441.8 L973.3,438.8 L973.0,437.7 L972.8,437.6 L970.3,430.0 L970.3,430.0 L970.2,429.5 L969.7,429.7 L969.6,429.5 L966.2,430.6 L964.8,431.5 L962.2,434.1 L961.4,434.3 L961.0,434.8 L962.5,434.5 L960.3,435.0 L959.9,435.6 L959.2,435.7 L958.2,437.3 L955.2,441.8 L954.1,442.2 L953.9,442.6 L953.7,442.8 L952.7,443.2 L950.0,445.9 L951.9,443.9 L950.9,444.3ZM962.3,503.3 L959.0,500.0 L959.0,500.4 L959.9,501.6 L961.9,503.6 L963.0,505.7 L963.1,505.9 L964.5,507.7Z" fill="none" stroke="#68626e" stroke-width="1"/>
<path d="M468.0,493.4 L468.0,494.0 L468.5,494.3 L468.5,494.9 L469.0,495.2 L469.0,495.8 L469.5,496.1 L469.5,496.7 L470.0,497.0 L470.0,505.0 L465.0,515.0 L467.0,530.0 L467.0,540.0 L465.0,550.0 L475.0,555.0 L485.0,555.0 L497.0,562.0 L510.0,570.0 L520.0,565.0 L525.0,555.0 L535.0,542.0 L535.0,530.0 L535.0,515.0 L540.0,505.0 L540.0,492.0 L535.0,482.0 L525.0,482.0 L515.0,477.0 L505.0,482.0 L495.0,485.0 L480.0,485.0 L470.0,490.0 L469.5,490.1 L469.5,490.6 L469.0,490.8 L469.0,491.3 L468.5,491.4 L468.5,491.9 L468.0,492.0 L468.0,492.6 L467.5,492.7 L467.5,493.1Z" fill="none" stroke="#68626e" stroke-width="1"/>
<path d="M399.5,496.5 L399.5,497.1 L400.0,497.5 L400.0,498.1 L400.5,498.5 L400.5,499.1 L401.0,499.4 L401.0,500.1 L401.5,500.4 L401.5,501.0 L402.0,501.4 L402.0,502.0 L400.0,515.0 L400.0,530.0 L395.0,540.0 L392.0,547.0 L387.0,555.0 L392.5,555.0 L393.8,555.5 L394.8,555.5 L395.9,556.6 L398.0,558.0 L400.0,560.0 L410.0,567.0 L420.0,575.0 L430.0,582.0 L437.0,587.0 L445.0,590.0 L450.0,580.0 L445.0,570.0 L455.0,560.0 L465.0,550.0 L467.0,540.0 L467.0,530.0 L465.0,515.0 L470.0,505.0 L470.0,497.0 L469.5,496.7 L469.5,496.1 L469.0,495.8 L469.0,495.2 L468.5,494.9 L468.5,494.3 L465.2,492.2 L464.5,492.4 L463.9,492.0 L463.3,492.2 L462.7,491.8 L462.0,492.0 L457.0,487.0 L450.0,482.0 L445.0,487.0 L435.0,500.0 L430.0,505.0 L425.0,502.0 L415.0,500.0 L405.0,497.0 L402.0,490.0 L401.5,490.5 L401.5,491.2 L401.0,491.7 L401.0,492.4 L400.5,492.9 L400.5,493.6 L400.0,494.1 L400.0,494.8 L399.5,495.3 L399.5,496.0 L399.2,496.3ZM467.7,492.6 L467.1,492.8 L466.5,492.4 L465.8,492.6 L468.0,494.0 L468.0,493.4 L467.5,493.1 L467.5,492.7Z" fill="none" stroke="#68626e" stroke-width="1"/>
<path d="M748.0,457.0 L759.0,454.0 L768.0,449.0 L773.0,437.0 L776.0,424.0 L781.0,421.0 L790.0,419.3 L793.5,408.8 L791.8,398.2 L793.5,389.4 L797.1,380.5 L800.6,373.5 L799.1,367.7 L797.8,369.6 L793.5,366.4 L787.1,362.1 L781.8,357.8 L776.4,356.7 L772.1,352.5 L770.0,347.1 L766.8,341.7 L766.3,341.2 L766.3,340.5 L765.8,340.0 L765.8,339.3 L765.3,338.8 L765.3,338.1 L765.2,338.0 L764.7,338.1 L764.1,338.3 L763.6,338.5 L760.3,339.6 L756.0,341.7 L751.8,342.8 L748.6,345.0 L746.8,350.1 L745.0,347.3 L747.0,350.4 L745.8,357.9 L743.3,365.5 L740.8,370.5 L742.0,378.1 L739.5,385.6 L735.7,390.7 L730.7,393.2 L727.0,395.0 L730.0,407.0 L732.0,420.0 L730.8,427.7 L730.4,427.7 L731.2,429.4 L731.7,431.6 L733.7,435.5 L735.2,438.0 L735.0,437.0 L737.0,447.0 L742.0,455.0Z" fill="none" stroke="#68626e" stroke-width="1"/>
<path d="M605.2,458.9 L604.6,458.6 L604.4,457.9 L603.8,457.6 L603.6,456.9 L603.0,456.6 L602.8,456.0 L602.2,455.7 L602.0,455.0 L595.0,445.0 L585.0,440.0 L575.0,435.0 L562.0,432.0 L552.0,427.0 L551.2,427.6 L550.0,430.0 L544.0,433.0 L542.9,434.1 L541.5,434.8 L540.3,435.9 L538.9,436.7 L537.8,437.8 L536.4,438.5 L536.2,438.7 L535.8,438.8 L533.3,440.0 L536.5,439.1 L530.7,440.7 L528.2,442.0 L529.9,441.5 L525.4,442.9 L522.8,444.2 L520.0,445.0 L512.0,452.0 L511.3,454.5 L510.1,456.9 L506.6,469.7 L507.0,470.0 L515.0,477.0 L525.0,482.0 L535.0,482.0 L540.0,492.0 L540.0,505.0 L545.0,512.0 L555.0,512.0 L567.0,510.0 L575.0,505.0 L585.0,502.0 L592.0,500.0 L595.0,487.0 L600.0,480.0 L602.0,470.0 L605.0,465.0 L602.6,456.9 L604.1,462.0 L604.6,462.0 L603.7,459.0 L604.5,461.5 L605.0,461.5 L604.1,458.6 L604.8,461.0 L605.4,461.0 L604.8,459.0 L605.2,460.5 L605.7,460.5 L605.6,460.0 L606.1,460.0 L606.1,459.8 L605.4,459.5ZM505.1,465.7 L505.5,466.0 L505.4,466.5 L505.8,466.8 L505.7,467.3 L506.1,467.6 L507.2,463.5 L507.1,464.0 L506.6,464.0 L506.5,464.5 L505.9,464.5 L505.8,465.0 L505.3,465.0ZM507.2,463.5 L506.0,468.1 L506.4,468.4 L506.3,468.9 L506.7,469.2 L509.4,459.4 L508.3,461.7 L507.8,463.5Z" fill="none" stroke="#68626e" stroke-width="1"/>
<path d="M635.8,455.1 L635.5,455.3 L635.5,456.2 L635.8,457.8 L637.5,459.5 L640.1,463.0 L643.2,463.6 L644.8,464.4 L646.3,464.7 L647.9,465.4 L659.6,471.3 L660.6,471.8 L661.8,472.8 L665.0,476.0 L670.0,480.0 L670.1,480.1 L673.8,482.3 L677.6,485.3 L680.0,487.0 L680.1,487.3 L680.2,487.3 L680.8,487.6 L681.0,488.2 L682.2,488.6 L682.7,488.2 L683.2,488.4 L683.7,488.0 L684.2,488.2 L684.3,488.1 L692.0,482.0 L702.0,480.0 L707.7,478.3 L708.1,478.1 L708.7,478.0 L712.0,477.0 L714.4,477.0 L715.6,476.8 L716.6,477.0 L722.0,477.0 L730.0,480.0 L731.4,481.6 L732.3,481.9 L732.9,482.7 L733.8,483.0 L734.4,483.7 L735.2,484.0 L736.0,483.6 L737.5,483.2 L737.9,482.6 L738.7,482.4 L740.8,479.6 L740.8,478.7 L741.3,478.0 L741.3,475.7 L741.6,474.5 L741.6,472.5 L742.1,470.5 L742.1,470.2 L745.1,467.2 L745.4,467.2 L747.1,465.5 L748.4,459.2 L747.6,456.9 L742.0,455.0 L737.0,447.0 L735.2,438.0 L733.7,435.5 L731.7,431.6 L731.2,429.4 L730.4,427.7 L725.7,427.7 L718.2,426.4 L711.9,426.4 L706.8,432.7 L703.0,434.0 L701.8,427.7 L695.5,426.4 L687.9,427.7 L685.4,423.9 L680.4,420.2 L671.6,418.9 L666.5,415.1 L660.2,412.6 L653.9,411.3 L652.7,418.9 L648.9,421.4 L647.7,422.6 L646.3,423.3 L646.3,423.3 L645.9,423.7 L645.6,423.3 L645.4,423.5 L645.4,423.6 L645.9,424.6 L645.9,428.0 L646.4,431.7 L646.4,435.5 L647.0,440.0 L645.0,450.0 L635.7,454.6Z" fill="none" stroke="#68626e" stroke-width="1"/>
<path d="M322.0,672.0 L329.0,669.0 L325.0,656.0 L325.0,644.0 L335.0,641.0 L347.0,644.0 L357.0,641.0 L360.0,634.0 L363.0,625.0 L366.0,619.0 L373.0,612.0 L373.0,603.0 L366.0,597.0 L347.0,597.0 L332.0,593.0 L319.0,590.0 L310.0,590.0 L297.0,587.0 L288.0,584.0 L288.0,583.0 L287.5,582.7 L287.5,582.2 L287.1,582.0 L287.0,582.5 L273.8,588.2 L271.8,599.5 L273.8,610.9 L266.2,622.2 L265.7,622.9 L265.7,623.7 L265.2,624.4 L265.2,624.5 L265.7,624.7 L266.2,625.0 L272.0,628.0 L278.0,631.0 L284.0,637.0 L291.0,644.0 L297.0,653.0 L303.0,660.0 L313.0,669.0ZM373.0,603.0 L372.9,602.2 L366.7,597.0 L366.4,597.3ZM368.6,597.2 L368.2,596.9 L367.9,597.3 L367.5,596.9 L367.1,597.3 L372.3,601.7 L372.2,601.0 L371.6,600.5 L371.5,599.7 L370.9,599.2 L370.8,598.4 L370.2,597.9 L370.1,597.2 L369.7,596.9 L369.3,597.2 L368.9,596.9Z" fill="none" stroke="#68626e" stroke-width="1"/>
<path d="M687.0,615.0 L695.0,620.0 L695.9,619.1 L695.9,617.7 L697.8,617.2 L698.6,616.4 L699.5,616.2 L700.2,615.5 L702.6,614.8 L705.6,613.3 L708.9,612.2 L708.9,612.2 L709.4,612.0 L709.8,612.3 L710.3,612.1 L710.9,612.5 L711.7,612.5 L712.4,613.0 L713.2,613.0 L713.9,613.5 L714.7,613.5 L715.4,614.0 L716.2,614.0 L716.5,614.2 L717.5,614.0 L720.0,614.0 L721.8,613.6 L724.1,612.0 L727.4,609.4 L727.8,609.6 L728.2,609.3 L728.7,609.6 L729.1,609.2 L729.5,609.5 L729.9,609.2 L730.4,609.5 L730.8,609.1 L731.2,609.4 L731.6,609.1 L731.7,609.1 L732.3,609.5 L733.0,609.3 L733.6,609.7 L734.3,609.6 L735.0,610.0 L740.7,608.8 L741.1,608.2 L741.8,608.1 L742.1,607.5 L742.8,607.4 L743.2,606.8 L743.9,606.7 L744.2,606.1 L744.9,605.9 L745.3,605.4 L745.9,605.2 L746.0,605.1 L745.5,604.9 L745.8,604.5 L745.3,604.3 L745.6,603.9 L745.1,603.7 L745.4,603.3 L744.9,603.1 L745.2,602.6 L744.7,602.4 L745.0,602.0 L742.0,595.0 L745.0,585.0 L747.0,575.0 L743.6,560.0 L742.1,552.0 L740.0,552.0 L732.0,552.0 L722.0,550.0 L715.0,547.0 L707.0,542.0 L702.0,535.0 L697.0,530.0 L690.0,532.0 L685.0,527.0 L680.0,530.0 L675.0,537.0 L674.0,537.6 L673.3,538.7 L672.3,539.3 L671.6,540.3 L670.6,541.0 L669.9,542.0 L668.9,542.6 L668.1,543.7 L667.8,545.2 L666.9,546.4 L666.6,547.8 L665.7,549.1 L665.5,550.1 L665.3,550.6 L664.6,551.8 L662.8,556.4 L662.8,557.9 L662.0,560.0 L662.0,563.9 L661.5,565.9 L661.5,568.0 L661.2,569.2 L661.8,574.0 L663.0,580.3 L663.6,585.6 L664.2,586.7 L665.9,589.0 L666.9,591.0 L666.7,591.7 L667.0,592.4 L666.8,593.1 L667.2,593.8 L667.0,594.5 L667.3,595.2 L667.1,596.0 L667.5,596.7 L667.4,597.0 L667.8,597.3 L668.3,598.3 L669.2,598.9 L669.4,599.5 L670.1,599.6 L670.3,600.1 L671.0,600.3 L671.2,600.8 L671.8,600.9 L672.1,601.5 L672.7,601.6 L673.0,602.1 L673.6,602.2 L675.0,605.0 L680.0,610.0ZM695.0,555.0 L705.0,552.0 L715.0,550.0 L725.0,555.0 L730.0,562.0 L730.0,575.0 L730.0,585.0 L725.0,590.0 L715.0,587.0 L710.0,582.0 L700.0,580.0 L692.0,575.0 L690.0,567.0 L690.0,560.0Z" fill="none" stroke="#68626e" stroke-width="1"/>
<path d="M127.0,412.2 L126.7,412.5 L124.8,414.4 L123.3,415.9 L120.0,420.4 L116.5,426.1 L114.3,431.7 L113.1,437.4 L105.2,441.9 L104.1,445.3 L106.3,452.1 L115.4,458.9 L121.0,463.5 L122.2,472.5 L126.7,477.0 L129.0,479.3 L129.0,479.3 L138.1,481.6 L144.9,479.3 L151.7,475.9 L163.0,475.9 L167.5,474.8 L174.3,472.5 L181.1,472.5 L187.9,471.4 L190.2,471.4 L189.0,469.0 L196.0,467.0 L200.0,461.0 L200.3,461.0 L199.2,456.7 L203.8,449.9 L201.5,443.0 L203.8,437.4 L200.4,432.9 L195.8,429.2 L195.7,428.5 L195.2,428.1 L195.4,427.2 L195.2,425.9 L194.7,428.3 L195.8,422.7 L192.5,417.0 L189.0,411.3 L186.8,406.8 L185.1,407.5 L185.1,407.4 L185.1,407.5 L184.2,407.8 L182.8,407.8 L181.0,408.5 L181.5,408.3 L179.8,408.3 L176.4,407.8 L175.0,407.8 L165.9,406.3 L165.9,406.4 L165.2,406.2 L158.7,407.8 L145.6,411.0 L137.9,411.0 L133.5,412.5 L136.5,411.5 L134.9,411.5 L133.4,412.0 L126.8,412.0Z" fill="none" stroke="#68626e" stroke-width="1"/>
<path d="M232.6,375.7 L232.4,376.4 L231.8,376.9 L231.6,377.6 L231.0,378.1 L230.8,378.8 L230.2,379.3 L230.0,380.0 L225.0,390.0 L215.0,392.0 L205.0,390.0 L195.0,395.0 L187.0,400.0 L185.0,407.0 L185.1,407.5 L186.8,406.8 L189.0,411.3 L192.5,417.0 L195.8,422.7 L195.2,425.9 L195.4,427.2 L195.2,428.1 L195.7,428.5 L195.8,429.2 L200.4,432.9 L203.8,437.4 L201.5,443.0 L203.8,449.9 L199.7,455.9 L199.3,457.2 L200.3,461.0 L210.0,461.0 L213.9,462.3 L215.0,462.0 L214.8,462.1 L222.1,464.5 L223.3,464.5 L225.0,465.0 L226.8,464.4 L226.7,464.5 L228.4,464.5 L231.0,463.7 L232.5,462.8 L234.1,462.3 L236.0,461.0 L236.8,462.5 L237.9,462.9 L234.0,457.0 L234.0,448.0 L240.0,442.0 L245.0,438.0 L251.0,440.0 L257.0,444.0 L257.0,454.0 L254.1,460.4 L255.0,460.0 L260.0,452.0 L257.3,456.3 L258.2,455.8 L260.4,452.3 L258.7,455.0 L259.5,454.6 L260.1,453.8 L260.9,453.4 L261.2,452.8 L261.5,452.5 L262.0,452.3 L261.8,452.0 L261.5,452.5 L262.1,451.6 L261.9,451.1 L262.2,450.6 L262.0,450.3 L262.0,450.1 L262.5,449.4 L262.5,448.5 L263.0,447.8 L263.0,446.0 L266.0,440.0 L266.7,436.7 L265.0,430.0 L267.0,420.0 L270.0,410.0 L280.0,405.0 L285.0,400.0 L280.0,395.0 L270.0,392.0 L260.0,387.0 L252.0,382.0 L247.0,375.0 L237.0,375.0 L236.6,375.3 L236.3,374.9 L233.0,377.2 L235.9,375.2 L235.6,374.8 L235.2,375.1 L234.9,374.6 L234.5,374.9 L234.2,374.5 L233.8,374.8 L233.5,374.4 L233.4,374.5 L233.3,375.2Z" fill="none" stroke="#68626e" stroke-width="1"/>
<path d="M395.0,440.0 L397.0,450.0 L405.0,460.0 L410.0,470.0 L410.0,480.0 L402.0,490.0 L405.0,497.0 L415.0,500.0 L425.0,502.0 L430.0,505.0 L435.0,500.0 L445.0,487.0 L450.0,482.0 L457.0,487.0 L462.0,492.0 L462.7,491.8 L463.3,492.2 L463.9,492.0 L464.5,492.4 L465.2,492.2 L465.8,492.6 L466.5,492.4 L467.1,492.8 L467.7,492.6 L468.0,492.6 L468.0,492.0 L468.5,491.9 L468.5,491.4 L469.0,491.3 L469.0,490.8 L469.5,490.6 L469.5,490.1 L470.0,490.0 L480.0,485.0 L495.0,485.0 L505.0,482.0 L515.0,477.0 L507.0,470.0 L506.6,469.7 L506.7,469.2 L498.5,463.7 L506.3,468.9 L506.4,468.4 L506.0,468.1 L506.1,467.6 L505.7,467.3 L505.8,466.8 L505.4,466.5 L505.5,466.0 L504.0,465.0 L503.3,464.5 L502.4,464.5 L501.6,464.0 L500.7,464.0 L500.0,463.5 L499.1,463.5 L498.3,463.0 L497.4,463.0 L496.7,462.5 L495.8,462.5 L495.0,462.0 L485.0,455.0 L475.0,445.0 L470.0,435.0 L467.0,425.0 L460.0,422.0 L450.0,422.0 L446.3,421.3 L449.5,421.9 L449.5,421.4 L445.7,420.6 L445.0,421.0 L444.2,420.8 L443.1,421.4 L434.8,418.6 L429.2,427.0 L422.0,427.0 L421.0,427.0 L420.4,425.9 L419.6,425.3 L419.1,424.3 L415.4,421.7 L415.6,422.2 L415.5,422.3 L415.0,422.0 L405.0,427.0 L400.0,435.0ZM446.5,420.8 L449.0,421.3 L449.0,420.8 L448.5,420.7 L448.5,420.3 L448.0,420.6 L447.2,420.4ZM416.6,421.9 L415.8,421.3 L416.2,422.2 L418.2,423.7 L417.7,422.7 L416.9,422.1 L416.1,420.9 L416.3,421.3Z" fill="none" stroke="#68626e" stroke-width="1"/>
<path d="M844.4,443.2 L843.9,443.2 L843.6,443.6 L843.2,443.5 L843.2,443.4 L842.9,444.0 L839.4,437.0 L834.1,435.2 L825.3,433.5 L816.5,431.7 L807.6,433.5 L800.6,429.9 L797.1,422.9 L790.0,419.3 L781.0,421.0 L776.0,424.0 L773.0,437.0 L768.0,449.0 L759.0,454.0 L748.0,457.0 L747.6,456.9 L748.4,459.2 L747.1,465.5 L745.4,467.2 L757.2,468.7 L766.3,474.8 L770.8,480.8 L775.4,485.4 L781.4,491.4 L787.5,492.9 L792.0,491.4 L796.5,494.4 L801.1,500.5 L805.6,509.6 L808.6,514.1 L814.7,512.6 L816.2,506.5 L822.2,500.5 L828.3,497.5 L835.9,491.4 L841.9,488.4 L848.0,485.4 L852.5,479.3 L854.0,471.8 L860.0,464.2 L867.6,459.7 L869.1,452.1 L870.3,450.9 L862.7,449.4 L855.2,447.9 L847.6,444.8 L847.0,444.7 L846.7,444.1 L846.1,444.0 L845.8,443.5 L845.2,443.4 L844.9,442.8 L844.6,442.8Z" fill="none" stroke="#68626e" stroke-width="1"/>
<path d="M662.0,560.0 L662.8,557.9 L662.8,556.4 L663.2,555.3 L663.2,555.3 L662.8,556.4 L658.5,560.6 L650.0,556.4 L639.2,552.0 L632.8,552.0 L622.0,547.8 L611.4,545.6 L600.7,541.4 L597.6,541.9 L597.5,542.0 L596.8,542.2 L590.0,547.0 L582.0,555.0 L570.0,562.0 L572.0,570.0 L576.0,580.0 L575.7,581.3 L575.7,586.9 L573.0,595.2 L571.1,597.1 L570.7,598.2 L570.2,598.6 L569.7,598.3 L569.0,598.8 L567.8,599.1 L565.8,600.6 L566.7,599.9 L565.4,600.3 L565.2,600.3 L564.4,601.4 L563.3,602.1 L562.5,603.2 L561.3,603.8 L560.5,604.9 L556.3,613.2 L553.6,621.6 L559.1,629.9 L563.3,635.4 L564.2,634.8 L564.8,633.9 L565.7,633.3 L566.9,631.4 L566.3,632.4 L567.7,631.5 L568.5,631.6 L569.2,631.2 L569.9,631.4 L570.2,631.2 L570.8,631.0 L572.8,631.3 L579.3,628.1 L586.7,629.2 L587.0,628.9 L587.5,629.0 L590.9,625.0 L592.3,623.6 L596.7,620.1 L599.0,618.4 L604.2,616.6 L606.9,615.9 L611.5,611.4 L613.5,610.6 L618.3,608.5 L620.1,609.1 L622.1,610.3 L625.3,611.4 L626.1,611.0 L630.6,611.0 L638.1,610.0 L645.6,606.7 L648.8,603.5 L656.3,601.4 L659.1,598.6 L660.0,598.3 L660.6,597.7 L662.5,597.2 L663.6,596.7 L664.0,597.0 L666.1,596.0 L667.0,592.4 L666.7,591.7 L665.7,595.7 L666.9,591.0 L665.9,589.0 L664.2,586.7 L663.6,585.6 L663.7,586.0 L663.0,580.3 L661.8,574.0 L661.2,569.2 L661.5,568.0 L661.5,565.9 L662.0,563.9ZM666.1,596.0 L664.5,596.8 L665.0,597.1 L665.5,596.9 L666.0,597.2 L666.5,597.0 L666.9,597.3 L667.4,597.1 L667.5,596.7 L667.1,596.0 L667.3,595.2 L667.0,594.5 L667.2,593.8 L666.8,593.1 L667.0,592.4Z" fill="none" stroke="#68626e" stroke-width="1"/>
<path d="M329.0,669.0 L322.0,672.0 L325.0,682.0 L335.0,691.0 L338.0,700.0 L344.0,707.0 L357.0,710.0 L370.0,713.0 L382.0,716.0 L392.0,704.0 L401.0,697.0 L410.0,700.0 L417.0,707.0 L426.0,710.0 L436.0,713.0 L439.0,700.0 L436.0,685.0 L429.0,672.0 L417.0,666.0 L404.0,663.0 L398.0,653.0 L392.0,644.0 L382.0,637.0 L373.0,631.0 L363.0,625.0 L360.0,634.0 L357.0,641.0 L347.0,644.0 L335.0,641.0 L325.0,644.0 L325.0,656.0Z" fill="none" stroke="#68626e" stroke-width="1"/>
<path d="M666.9,597.3 L666.5,597.0 L666.0,597.2 L665.5,596.9 L665.0,597.1 L664.5,596.8 L664.0,597.0 L663.6,596.7 L668.6,600.4 L671.2,600.8 L671.0,600.3 L670.3,600.1 L670.1,599.6 L669.0,599.4 L669.4,599.5 L669.2,598.9 L668.3,598.3 L667.8,597.3 L667.4,597.0 L667.4,597.1ZM668.6,600.4 L663.6,596.7 L662.5,597.2 L663.2,597.1 L660.6,597.7 L660.0,598.3 L659.1,598.6 L656.3,601.4 L648.8,603.5 L645.6,606.7 L638.1,610.0 L630.6,611.0 L626.1,611.0 L625.3,611.4 L622.1,610.3 L620.1,609.1 L618.3,608.5 L613.5,610.6 L611.5,611.4 L606.9,615.9 L604.2,616.6 L599.0,618.4 L596.7,620.1 L592.3,623.6 L590.9,625.0 L587.5,629.0 L587.0,628.9 L586.7,629.2 L579.3,628.1 L572.8,631.3 L570.8,631.0 L570.2,631.2 L569.9,631.4 L569.2,631.2 L566.0,633.2 L568.5,631.6 L567.7,631.5 L566.3,632.4 L565.7,633.3 L564.8,633.9 L564.2,634.8 L563.3,635.4 L560.5,638.2 L563.2,639.5 L566.0,640.9 L573.0,646.0 L580.0,651.7 L586.3,651.7 L592.6,649.2 L601.4,647.9 L605.2,650.5 L611.5,654.2 L619.0,658.0 L621.6,663.0 L627.9,668.1 L632.9,670.6 L640.5,673.1 L650.5,674.4 L660.6,675.6 L668.2,675.6 L677.0,676.9 L683.3,676.9 L687.1,671.9 L690.8,665.6 L691.7,663.0 L692.6,660.5 L693.0,660.6 L693.5,660.8 L693.6,660.5 L693.3,659.9 L693.5,659.2 L693.2,658.6 L693.4,658.0 L693.3,657.7 L691.7,654.5 L690.8,650.5 L690.8,642.9 L695.9,636.6 L693.4,630.3 L695.9,624.0 L695.9,619.1 L695.0,620.0 L687.0,615.0 L680.0,610.0 L675.0,605.0 L673.6,602.2 L673.0,602.1 L672.7,601.6 L668.4,600.8 L672.1,601.5 L671.8,600.9Z" fill="none" stroke="#68626e" stroke-width="1"/>
<path d="M803.5,359.9 L807.6,355.9 L813.0,351.8 L810.6,353.0 L807.3,355.5 L803.9,358.8ZM807.6,355.9 L802.6,360.8 L802.1,362.1 L800.0,366.4 L799.1,367.7 L800.6,373.5 L797.1,380.5 L793.5,389.4 L791.8,398.2 L793.5,408.8 L790.0,419.3 L797.1,422.9 L800.6,429.9 L807.6,433.5 L816.5,431.7 L825.3,433.5 L834.1,435.2 L839.4,437.0 L842.9,444.0 L845.0,439.8 L844.5,438.8 L849.1,431.2 L852.1,425.2 L853.6,417.6 L855.2,411.5 L862.7,405.5 L868.5,401.1 L868.1,400.8 L868.2,400.7 L867.8,400.1 L864.6,397.9 L867.0,399.5 L866.6,398.6 L865.7,398.1 L865.1,396.8 L865.1,395.6 L864.9,395.2 L864.6,394.2 L864.6,392.2 L864.1,390.4 L864.1,387.6 L864.2,387.4 L864.2,382.7 L870.3,381.2 L876.4,379.7 L877.3,380.6 L877.9,380.5 L878.3,380.9 L878.2,380.5 L876.4,373.5 L872.9,368.2 L867.6,362.9 L857.0,361.1 L853.5,355.9 L857.0,350.6 L867.6,347.0 L874.7,343.5 L874.7,336.5 L871.1,331.2 L872.9,324.1 L871.1,320.6 L864.1,317.0 L860.5,325.9 L851.7,329.4 L839.4,329.4 L828.8,333.0 L828.3,333.2 L826.6,343.1 L825.8,343.3 L822.4,344.7 L827.0,343.5 L820.0,345.3 L814.7,350.6ZM828.3,333.2 L827.7,333.4 L827.5,334.7 L827.7,336.4ZM844.6,442.8 L845.0,442.0 L844.7,441.4 L845.0,440.9 L844.7,440.3 L843.2,443.4 L843.2,443.5 L843.6,443.6 L843.9,443.2 L844.4,443.2Z" fill="none" stroke="#68626e" stroke-width="1"/>
<path d="M370.0,596.7 L370.2,597.9 L370.8,598.4 L370.9,599.2 L371.5,599.7 L371.6,600.5 L372.2,601.0 L372.3,601.7 L372.9,602.2 L373.0,603.0 L373.0,612.0 L366.0,619.0 L363.0,625.0 L373.0,631.0 L382.0,637.0 L392.0,644.0 L398.0,653.0 L404.0,663.0 L417.0,666.0 L429.0,672.0 L436.0,685.0 L442.0,688.0 L448.0,682.0 L455.0,672.0 L460.0,660.0 L460.2,659.5 L460.4,658.9 L460.7,658.4 L460.6,658.3 L459.9,656.7 L457.5,653.6 L454.5,650.7 L454.2,650.4 L454.0,650.1 L453.6,649.6 L448.4,641.7 L447.1,639.5 L446.8,639.0 L446.7,638.8 L444.8,635.8 L443.6,632.9 L442.1,630.6 L441.7,629.7 L440.0,624.7 L438.1,621.1 L436.9,620.0 L436.1,618.6 L434.9,617.5 L434.2,616.1 L433.0,615.0 L427.0,602.0 L433.0,592.0 L435.9,586.2 L430.0,582.0 L420.0,575.0 L410.0,567.0 L400.0,560.0 L398.0,558.0 L395.9,556.6 L394.8,555.5 L393.8,555.5 L392.5,555.0 L387.0,555.0 L382.0,560.0 L377.0,567.0 L372.0,580.0 L370.2,584.4 L373.0,590.0 L371.2,591.8 L371.3,592.4 L370.9,592.8 L371.0,593.4 L370.5,593.9 L370.6,594.5 L370.2,594.9 L370.3,595.5 L369.9,596.0 L370.0,596.6 L369.7,596.9 L370.1,597.2Z" fill="none" stroke="#68626e" stroke-width="1"/>
<path d="M232.4,376.4 L233.3,373.1 L233.4,372.5 L233.0,372.0 L231.8,376.9ZM233.3,373.1 L232.6,375.7 L233.3,375.2 L233.4,374.5 L233.5,374.4 L233.5,374.3 L233.6,373.7ZM160.4,394.7 L163.6,401.3 L165.3,406.2 L175.0,407.8 L176.4,407.8 L179.8,408.3 L181.5,408.3 L182.8,407.8 L184.2,407.8 L185.1,407.5 L185.1,407.4 L185.0,407.0 L187.0,400.0 L195.0,395.0 L205.0,390.0 L215.0,392.0 L225.0,390.0 L230.0,380.0 L232.0,372.0 L230.2,379.3 L230.8,378.8 L232.5,371.9 L231.0,378.1 L231.6,377.6 L233.1,371.9 L231.7,369.2 L229.8,366.4 L228.8,364.5 L227.7,363.4 L227.0,362.0 L230.0,355.0 L227.9,359.8 L229.3,357.9 L230.5,355.2 L230.2,355.8 L230.9,354.8 L230.8,354.0 L231.1,352.8 L230.8,351.7 L231.1,350.6 L230.0,345.0 L227.0,341.0 L227.0,327.0 L225.0,315.0 L217.0,312.0 L205.0,307.0 L192.0,300.0 L186.0,301.0 L168.6,290.0 L158.7,293.3 L149.0,298.0 L145.6,301.5 L145.6,301.5 L147.3,308.0 L145.6,314.5 L147.3,321.0 L152.2,326.0 L155.5,331.0 L158.7,339.0 L162.0,347.3 L168.6,350.6 L171.8,358.7 L170.2,368.6 L167.0,373.5 L165.3,381.6 L162.0,388.2Z" fill="none" stroke="#68626e" stroke-width="1"/>
<path d="M361.6,427.5 L361.0,427.5 L360.8,428.0 L360.2,428.0 L360.0,428.5 L359.4,428.5 L359.2,429.0 L358.6,429.0 L358.4,429.5 L357.8,429.5 L357.6,430.0 L357.0,430.0 L350.0,435.0 L342.0,440.0 L332.0,440.0 L320.0,442.0 L310.0,447.0 L305.9,441.2 L304.0,444.0 L296.0,450.0 L291.0,455.0 L293.0,465.0 L291.0,475.0 L296.0,479.0 L298.0,489.0 L298.0,497.0 L300.0,505.0 L300.0,502.0 L316.0,505.0 L318.3,505.5 L324.0,506.0 L321.7,505.8 L329.3,507.5 L329.6,507.9 L330.0,508.0 L330.1,507.5 L330.6,507.6 L332.0,502.0 L335.0,497.0 L350.0,495.0 L365.0,495.0 L375.0,497.0 L385.0,500.0 L395.0,497.0 L395.4,496.6 L395.8,496.9 L396.1,496.6 L396.5,496.9 L396.9,496.5 L397.3,496.8 L397.7,496.5 L398.1,496.7 L398.4,496.4 L398.9,496.7 L399.5,496.0 L399.5,495.3 L400.0,494.8 L400.0,494.1 L400.5,493.6 L400.5,492.9 L401.0,492.4 L401.0,491.7 L401.5,491.2 L401.5,490.5 L402.0,490.0 L410.0,480.0 L410.0,470.0 L405.0,460.0 L397.0,450.0 L395.0,440.0 L385.0,435.0 L377.0,432.0 L367.0,430.0 L366.4,430.0 L366.2,429.5 L365.6,429.5 L365.4,429.0 L364.8,429.0 L364.6,428.5 L364.0,428.5 L363.8,428.0 L363.2,428.0 L363.0,427.5 L362.4,427.5 L362.1,427.0 L361.9,427.0Z" fill="none" stroke="#68626e" stroke-width="1"/>
<path d="M606.1,460.0 L605.6,460.0 L605.7,460.5 L605.2,460.5 L605.4,461.0 L604.8,461.0 L605.0,461.5 L604.5,461.5 L604.6,462.0 L604.1,462.0 L605.0,465.0 L602.0,470.0 L600.0,480.0 L595.0,487.0 L592.0,500.0 L597.0,505.0 L600.0,517.0 L602.0,530.0 L597.0,542.0 L600.7,541.4 L611.4,545.6 L622.0,547.8 L632.8,552.0 L639.2,552.0 L650.0,556.4 L658.5,560.6 L662.8,556.4 L663.2,555.3 L663.2,555.3 L664.6,551.8 L665.3,550.6 L665.5,550.1 L665.7,549.1 L666.6,547.8 L666.9,546.4 L667.8,545.2 L668.3,543.0 L669.9,542.0 L670.6,541.0 L671.6,540.3 L672.3,539.3 L667.4,542.3 L673.3,538.7 L674.0,537.6 L675.0,537.0 L680.0,530.0 L680.0,515.0 L685.0,505.0 L680.0,497.0 L681.7,491.2 L681.4,490.4 L681.6,489.7 L681.6,489.7 L681.4,489.2 L681.8,488.9 L681.6,488.4 L681.0,488.2 L680.8,487.6 L680.2,487.3 L680.1,487.3 L680.0,487.0 L677.6,485.3 L673.8,482.3 L670.1,480.1 L670.0,480.0 L660.0,472.0 L665.0,476.0 L661.8,472.8 L660.6,471.8 L659.6,471.3 L647.9,465.4 L646.3,464.7 L644.8,464.4 L643.2,463.6 L640.1,463.0 L637.5,459.5 L635.8,457.8 L635.6,456.9 L635.5,456.8 L635.5,457.5 L635.0,457.0 L635.0,460.0 L624.1,457.5 L623.4,457.8 L622.6,457.6 L621.5,458.2 L618.7,459.0 L616.1,460.3 L613.9,461.0 L612.1,461.0 L611.9,461.1 L611.8,461.0 L610.6,461.0 L609.6,460.5 L608.5,460.5 L607.5,460.0 L606.4,460.0 L606.1,459.8Z" fill="none" stroke="#68626e" stroke-width="1"/>
<path d="M213.6,506.1 L213.8,506.8 L213.4,507.5 L213.6,508.2 L213.3,508.9 L207.7,518.4 L211.4,533.5 L209.5,544.8 L196.3,544.8 L192.6,552.3 L192.6,552.3 L192.6,552.3 L200.1,561.8 L205.8,571.2 L213.3,584.4 L220.9,590.0 L232.2,592.0 L239.8,601.4 L243.5,607.1 L247.3,618.4 L254.9,626.0 L260.5,629.8 L265.1,623.7 L264.7,624.2 L265.1,624.5 L265.7,623.7 L265.7,622.9 L266.2,622.2 L273.8,610.9 L271.8,599.5 L273.8,588.2 L287.0,582.5 L287.3,580.9 L287.1,582.0 L287.5,582.2 L287.5,580.0 L288.9,573.1 L289.6,570.9 L291.0,565.0 L292.7,557.6 L292.7,555.4 L293.2,553.2 L293.2,552.4 L293.5,551.9 L293.5,551.8 L294.0,551.1 L298.7,543.2 L299.5,542.0 L299.5,541.1 L298.3,542.9 L300.0,540.4 L300.0,534.1 L299.5,533.4 L299.5,532.5 L299.0,531.7 L299.0,530.9 L298.5,530.5 L298.5,529.9 L298.1,529.6 L296.9,529.3 L296.0,528.6 L294.8,528.3 L298.7,531.3 L293.8,527.6 L292.7,527.3 L291.7,526.6 L289.0,526.0 L286.6,525.2 L283.4,524.7 L280.4,523.7 L279.5,523.5 L268.2,521.6 L264.4,520.4 L257.6,518.7 L268.1,522.1 L256.8,518.4 L253.7,510.7 L249.7,506.7 L248.8,506.1 L245.0,508.0 L240.0,508.0 L237.8,504.1 L234.1,501.3 L236.7,503.3 L236.1,502.2 L234.4,500.9 L229.4,497.7 L228.8,497.8 L228.4,497.6 L224.3,498.9 L222.2,499.5 L221.2,500.0 L222.1,499.7 L218.0,501.0 L217.0,501.5 L216.6,502.2 L215.9,502.6 L215.5,503.4 L214.8,503.7 L214.4,504.5 L213.7,504.8 L213.9,505.5ZM268.2,521.6 L277.2,523.1 L276.8,523.0 L267.8,521.5Z" fill="none" stroke="#68626e" stroke-width="1"/>
<path d="M569.7,598.3 L569.6,598.2 L570.2,598.0 L564.7,593.9 L557.7,591.1 L548.0,592.5 L537.0,588.3 L530.0,580.0 L530.0,577.0 L525.0,572.0 L520.0,565.0 L510.0,570.0 L497.0,562.0 L485.0,555.0 L475.0,555.0 L465.0,550.0 L455.0,560.0 L445.0,570.0 L450.0,580.0 L445.0,590.0 L437.0,587.0 L435.9,586.2 L433.0,592.0 L427.0,602.0 L433.0,615.0 L434.2,616.1 L434.9,617.5 L436.1,618.6 L436.9,620.0 L439.1,622.2 L438.1,621.1 L440.0,624.7 L441.7,629.7 L442.1,630.6 L444.7,634.5 L443.6,632.9 L444.8,635.8 L446.7,638.8 L446.8,639.0 L447.1,639.5 L448.4,641.7 L453.6,649.6 L454.5,650.7 L459.5,655.6 L454.5,650.7 L457.5,653.6 L459.9,656.7 L460.6,658.3 L460.7,658.4 L460.9,657.8 L461.2,657.2 L461.5,656.5 L461.6,656.1 L466.3,670.0 L473.2,672.8 L477.4,671.4 L474.6,663.1 L477.4,653.4 L477.4,640.9 L477.4,628.5 L478.8,621.6 L480.2,617.4 L485.7,617.4 L491.2,620.2 L498.2,621.6 L502.3,627.1 L503.7,632.6 L510.6,629.9 L517.6,628.5 L521.7,622.9 L530.0,624.3 L537.0,627.1 L543.9,629.9 L550.8,632.6 L555.0,636.8 L560.5,638.2 L563.3,635.4 L559.1,629.9 L553.6,621.6 L556.3,613.2 L560.5,604.9 L561.3,603.8 L562.5,603.2 L563.3,602.1 L564.4,601.4 L565.2,600.3 L565.4,600.3 L566.7,599.9 L567.8,599.1 L569.0,598.8Z" fill="none" stroke="#68626e" stroke-width="1"/>
<path d="M814.0,166.0 L820.0,172.0 L831.0,172.0 L833.0,163.0 L831.0,155.0 L820.0,153.0 L814.0,158.0Z" fill="#7b508d" fill-rule="evenodd"/>
<path d="M854.0,87.0 L846.0,90.0 L840.0,93.0 L833.0,91.0 L826.0,96.0 L820.0,106.0 L820.0,113.0 L823.0,121.0 L822.8,121.5 L823.3,121.7 L823.1,122.1 L823.6,122.3 L823.5,122.8 L823.9,123.0 L824.1,122.5 L824.6,122.7 L824.7,122.5 L825.4,122.5 L826.7,123.0 L828.0,123.0 L830.1,123.0 L840.2,120.5 L848.2,114.5 L841.3,119.7 L841.8,119.5 L842.8,119.2 L848.3,115.0 L844.2,118.1 L845.8,117.5 L847.3,116.4 L849.6,115.6 L849.8,115.5 L851.9,115.5 L853.8,115.0 L854.6,115.3 L855.3,115.1 L856.1,115.5 L856.9,115.3 L854.0,114.0 L863.0,118.0 L858.7,116.1 L859.1,116.8 L862.8,118.5 L860.0,117.2 L860.4,118.0 L861.1,118.2 L861.3,118.3 L861.7,119.1 L862.4,119.4 L862.5,119.4 L863.0,120.1 L863.7,120.4 L864.0,120.8 L864.3,120.6 L864.9,120.9 L865.5,120.6 L866.2,120.8 L866.8,120.5 L867.4,120.7 L868.0,120.4 L868.3,120.5 L868.7,120.7 L869.3,120.4 L871.0,121.0 L883.0,121.0 L888.7,118.9 L891.0,118.0 L888.0,110.0 L888.0,99.5 L888.5,99.6 L888.5,99.3 L888.0,99.0 L883.0,96.0 L878.0,94.0 L874.0,87.0 L871.0,79.0 L866.0,76.0 L860.0,76.0 L856.0,77.0ZM888.7,118.9 L887.3,119.4 L888.0,119.6 L888.8,119.4Z" fill="#bba4d5" fill-rule="evenodd"/>
<path d="M686.5,136.3 L685.7,141.2 L686.5,143.7 L690.6,149.4 L692.3,154.3 L698.0,159.2 L704.6,165.8 L707.8,170.7 L712.8,173.1 L721.0,172.3 L729.1,171.5 L737.3,169.0 L738.4,169.0 L739.5,168.5 L740.6,168.5 L741.6,168.0 L742.8,168.0 L744.4,167.2 L745.4,166.1 L743.8,167.0 L745.8,166.0 L746.4,165.9 L747.0,165.3 L747.8,165.2 L748.4,164.6 L745.5,165.0 L752.1,164.1 L754.3,161.3 L755.0,161.0 L755.2,160.9 L755.8,160.1 L755.8,159.9 L755.3,160.0 L753.7,151.9 L752.9,143.7 L752.1,136.3 L742.2,133.0 L735.7,129.7 L729.1,124.8 L721.0,128.9 L711.1,129.7 L706.2,133.8 L701.3,142.8 L698.5,147.9 L696.4,142.0 L691.5,137.1Z" fill="#e3d5f3" fill-rule="evenodd"/>
<path d="M982.5,234.2 L983.0,237.0 L992.0,247.0 L1000.0,258.0 L1008.0,264.0 L1013.0,269.0 L1013.0,269.0 L1013.0,269.0 L1024.0,264.0 L1035.0,258.0 L1040.0,253.0 L1043.0,242.0 L1048.0,231.0 L1057.0,223.0 L1062.0,218.0 L1062.0,218.0 L1062.0,218.0 L1054.0,212.0 L1040.0,210.0 L1030.0,210.0 L1027.0,210.0 L1016.0,215.0 L1008.0,218.0 L1000.0,223.0 L992.0,228.0 L983.0,234.0 L982.9,233.5 L982.5,233.7Z" fill="#9d78ae" fill-rule="evenodd"/>
<path d="M863.8,121.4 L865.5,120.6 L864.9,120.9 L864.3,120.6 L863.5,121.0ZM865.5,120.6 L863.3,121.7 L863.6,122.1 L863.2,122.3 L863.4,122.7 L863.4,122.7 L866.6,134.3 L867.0,134.6 L867.7,135.7 L868.7,136.5 L869.5,137.6 L876.5,142.8 L870.5,138.4 L871.2,139.6 L876.0,143.0 L872.3,140.3 L872.7,140.9 L873.2,141.6 L874.6,142.6 L875.5,143.8 L875.5,144.7 L876.0,145.3 L876.0,146.2 L876.5,146.8 L876.5,147.7 L877.0,148.3 L877.0,149.2 L877.5,149.8 L877.5,150.0 L877.5,152.8 L877.6,153.3 L882.8,158.5 L883.0,158.0 L894.0,155.0 L908.0,155.0 L916.0,158.0 L927.0,158.0 L937.0,155.0 L946.0,153.0 L940.0,147.0 L932.0,142.0 L928.7,136.7 L927.0,134.0 L927.0,134.0 L929.0,126.0 L936.3,118.7 L940.0,115.0 L937.0,112.0 L929.0,107.0 L921.0,112.0 L913.0,109.0 L905.0,107.0 L894.0,101.0 L889.4,99.9 L889.4,99.9 L889.4,99.9 L888.5,99.3 L888.5,99.6 L888.0,99.5 L888.0,110.0 L891.0,118.0 L888.7,118.9 L888.8,119.4 L888.0,119.6 L887.3,119.4 L883.0,121.0 L871.0,121.0 L869.3,120.4 L868.7,120.7 L868.0,120.4 L867.4,120.7 L866.8,120.5 L866.2,120.8ZM879.0,155.4 L879.2,156.3 L881.7,158.8 L881.9,158.3 L882.3,158.7 L882.4,158.1 L878.2,153.9 L878.4,154.8ZM879.2,156.3 L879.8,156.9 L879.9,157.8 L880.7,158.5 L881.1,158.9 L881.3,158.4Z" fill="#7b508d" fill-rule="evenodd"/>
<path d="M880.4,160.5 L880.5,160.7 L880.3,161.3 L880.6,161.9 L880.4,162.6 L880.8,163.2 L880.5,163.8 L882.2,166.8 L885.5,172.1 L882.5,182.0 L883.0,182.0 L894.0,185.0 L908.0,191.0 L919.0,196.0 L929.0,201.0 L940.0,207.0 L948.0,204.0 L959.0,204.0 L962.0,193.0 L959.0,182.0 L959.0,172.0 L959.0,161.0 L954.0,158.0 L946.0,153.0 L937.0,155.0 L927.0,158.0 L916.0,158.0 L908.0,155.0 L894.0,155.0 L883.0,158.0 L882.8,158.5 L882.4,158.1 L882.3,158.7 L881.9,158.3 L881.7,158.8 L881.3,158.4 L881.1,158.9 L880.7,158.5 L880.3,159.8Z" fill="#9d78ae" fill-rule="evenodd"/>
<path d="M965.0,150.0 L959.0,161.0 L959.0,172.0 L959.0,182.0 L962.0,193.0 L959.0,204.0 L965.0,215.0 L967.0,220.0 L973.0,215.0 L981.0,226.0 L982.4,233.6 L982.5,234.1 L982.5,233.7 L982.9,233.5 L983.0,234.0 L992.0,228.0 L1000.0,223.0 L1008.0,218.0 L1016.0,215.0 L1027.0,210.0 L1024.0,201.0 L1013.0,193.0 L1002.0,188.0 L992.0,185.0 L986.0,180.0 L983.0,172.0 L986.0,161.0 L992.0,150.0 L997.0,142.0 L992.0,139.0 L981.0,134.0 L970.0,128.0 L965.0,128.0 L967.0,134.0 L973.0,142.0Z" fill="#9d78ae" fill-rule="evenodd"/>
<path d="M755.3,160.0 L755.8,159.9 L755.8,160.1 L755.6,160.4 L758.5,159.7 L763.0,158.0 L771.0,150.0 L782.0,145.0 L796.0,139.0 L809.0,136.0 L817.0,136.0 L817.8,134.4 L818.4,134.3 L818.7,133.7 L819.3,133.6 L820.9,130.4 L823.4,123.0 L822.0,127.2 L824.0,122.9 L824.0,122.9 L823.9,123.0 L823.5,122.8 L823.6,122.3 L823.1,122.1 L823.3,121.7 L822.8,121.5 L823.0,121.0 L820.0,113.0 L820.0,106.0 L826.0,96.0 L833.0,91.0 L834.0,84.0 L831.0,77.0 L826.0,74.0 L817.0,73.0 L814.0,76.0 L817.0,81.0 L811.0,87.0 L805.2,89.1 L800.0,91.0 L791.0,96.0 L783.0,101.0 L771.0,103.0 L769.0,107.0 L761.0,110.0 L754.0,116.0 L740.6,121.6 L735.7,129.7 L742.2,133.0 L752.1,136.3 L752.9,143.7 L753.7,151.9Z" fill="#9d78ae" fill-rule="evenodd"/>
<path d="M986.0,161.0 L983.0,172.0 L986.0,180.0 L992.0,185.0 L1002.0,188.0 L1013.0,193.0 L1024.0,201.0 L1027.0,210.0 L1030.0,210.0 L1040.0,210.0 L1054.0,212.0 L1062.0,218.0 L1067.0,215.0 L1073.0,210.0 L1084.0,207.0 L1084.0,201.0 L1078.0,193.0 L1074.0,190.5 L1070.0,188.0 L1068.8,184.8 L1067.0,180.0 L1065.0,172.0 L1051.0,169.0 L1040.0,166.0 L1036.0,163.5 L1032.0,161.0 L1032.0,161.0 L1024.0,155.0 L1024.0,155.0 L1017.6,148.6 L1016.0,147.0 L1016.0,147.0 L1016.0,139.0 L1013.0,136.0 L1008.0,142.0 L997.0,142.0 L992.0,150.0Z" fill="#bba4d5" fill-rule="evenodd"/>
<path d="M891.8,260.2 L891.3,260.4 L890.9,260.0 L890.4,260.2 L890.0,259.8 L889.7,260.0 L889.4,260.6 L890.3,260.3 L888.8,260.8 L888.6,261.4 L890.5,260.7 L887.9,261.7 L887.7,262.3 L887.1,262.5 L886.9,263.1 L886.2,263.4 L886.0,264.0 L891.0,266.0 L900.0,269.0 L910.0,272.0 L921.0,272.0 L932.0,275.0 L940.0,280.0 L946.0,275.0 L956.0,275.0 L967.0,280.0 L967.0,280.0 L973.0,291.0 L975.0,291.0 L978.0,280.0 L983.0,275.0 L983.0,275.0 L992.0,277.0 L1002.0,275.0 L1013.0,269.0 L1008.0,264.0 L1000.0,258.0 L992.0,247.0 L983.0,237.0 L982.5,234.2 L981.0,226.0 L973.0,215.0 L967.0,220.0 L965.0,215.0 L959.0,204.0 L948.0,204.0 L940.0,207.0 L937.0,220.0 L935.0,234.0 L932.0,245.0 L927.0,253.0 L916.0,256.0 L905.0,258.0 L894.0,261.0 L893.6,260.6 L893.1,260.8 L892.7,260.4 L892.2,260.6Z" fill="#7b508d" fill-rule="evenodd"/>
<path d="M852.0,207.0 L847.0,204.0 L851.0,220.0 L851.0,231.0 L859.0,239.0 L870.0,245.0 L881.0,250.0 L889.0,256.0 L888.8,256.5 L889.2,256.9 L889.0,257.4 L889.4,257.8 L889.2,258.3 L891.3,260.4 L891.8,260.2 L892.2,260.6 L892.7,260.4 L893.1,260.8 L893.6,260.6 L894.0,261.0 L905.0,258.0 L916.0,256.0 L927.0,253.0 L932.0,245.0 L935.0,234.0 L937.0,220.0 L940.0,207.0 L929.0,201.0 L919.0,196.0 L908.0,191.0 L894.0,185.0 L883.0,182.0 L882.5,182.0 L882.6,181.5 L882.1,181.5 L882.0,182.0 L874.0,191.0 L866.0,196.0 L863.0,204.0ZM891.3,260.4 L889.2,258.3 L889.6,258.7 L889.4,259.2 L889.9,259.7 L889.8,259.6 L889.6,260.1 L889.6,260.1 L889.7,260.0 L890.0,259.8 L890.4,260.2 L890.9,260.0Z" fill="#7b508d" fill-rule="evenodd"/>
<path d="M742.8,168.0 L741.6,168.0 L740.6,168.5 L739.5,168.5 L738.4,169.0 L737.3,169.0 L729.1,171.5 L721.0,172.3 L714.7,172.9 L713.1,173.6 L712.8,173.6 L712.0,174.0 L706.0,177.0 L704.0,188.0 L709.0,196.0 L714.0,204.0 L720.0,212.0 L728.0,220.0 L736.0,228.0 L741.0,237.0 L750.0,245.0 L755.0,250.0 L760.0,258.0 L768.0,261.0 L771.0,253.0 L774.0,242.0 L779.0,237.0 L782.0,226.0 L785.0,212.0 L782.0,201.0 L779.0,193.0 L785.0,177.0 L779.0,166.0 L771.0,163.0 L763.0,158.0 L758.5,159.7 L755.6,160.4 L755.2,160.9 L755.0,161.0 L754.3,161.3 L752.1,164.1 L748.4,164.6 L747.8,165.2 L747.0,165.3 L746.4,165.9 L745.8,166.0 L745.4,166.1 L745.0,166.6 L744.4,167.2Z" fill="#9d78ae" fill-rule="evenodd"/>
<path d="M771.0,264.0 L782.0,269.0 L787.0,274.0 L793.0,288.0 L798.0,296.0 L809.0,299.0 L820.0,296.0 L831.0,299.0 L840.0,288.0 L845.0,285.0 L854.0,285.0 L856.0,275.0 L862.0,261.0 L872.0,264.0 L886.0,264.0 L886.2,263.4 L886.9,263.1 L887.1,262.5 L887.7,262.3 L887.9,261.7 L888.6,261.4 L888.6,261.2 L888.8,260.8 L889.4,260.6 L889.8,259.6 L889.4,259.2 L889.6,258.7 L889.2,258.3 L889.4,257.8 L889.0,257.4 L889.2,256.9 L888.8,256.5 L889.0,256.0 L881.0,250.0 L870.0,245.0 L859.0,239.0 L851.0,231.0 L851.0,220.0 L847.0,204.0 L842.0,207.0 L836.0,209.0 L825.0,212.0 L814.0,209.0 L804.0,209.0 L793.0,212.0 L785.0,212.0 L782.0,226.0 L779.0,237.0 L774.0,242.0 L771.0,253.0 L768.0,261.0Z" fill="#bba4d5" fill-rule="evenodd"/>
<path d="M863.6,122.1 L863.3,121.7 L863.8,121.4 L863.5,121.0 L864.0,120.8 L863.7,120.4 L863.0,120.1 L862.5,119.4 L862.4,119.4 L861.7,119.1 L861.3,118.3 L860.4,118.0 L860.0,117.2 L859.1,116.8 L858.7,116.1 L856.9,115.3 L856.1,115.5 L855.3,115.1 L854.6,115.3 L853.8,115.0 L851.9,115.5 L849.8,115.5 L849.6,115.6 L847.3,116.4 L845.8,117.5 L844.2,118.1 L842.8,119.2 L841.8,119.5 L841.3,119.7 L840.2,120.5 L830.1,123.0 L828.0,123.0 L826.7,123.0 L825.4,122.5 L824.7,122.5 L824.6,122.7 L824.1,122.5 L824.1,122.6 L824.0,122.9 L822.0,127.2 L820.9,130.4 L819.3,133.6 L818.7,133.7 L818.4,134.3 L817.8,134.4 L817.0,136.0 L809.0,136.0 L796.0,139.0 L782.0,145.0 L771.0,150.0 L763.0,158.0 L771.0,163.0 L779.0,166.0 L785.0,177.0 L779.0,193.0 L782.0,201.0 L785.0,212.0 L793.0,212.0 L804.0,209.0 L814.0,209.0 L825.0,212.0 L836.0,209.0 L842.0,207.0 L847.0,204.0 L852.0,207.0 L863.0,204.0 L866.0,196.0 L874.0,191.0 L882.0,182.0 L882.1,181.5 L882.6,181.5 L885.5,172.1 L882.2,166.8 L880.5,163.8 L880.8,163.2 L880.4,162.6 L880.6,161.9 L880.3,161.3 L880.5,160.7 L880.4,160.5 L880.3,159.8 L880.6,158.8 L880.6,158.4 L879.9,157.8 L879.8,156.9 L879.2,156.3 L879.0,155.4 L878.4,154.8 L878.2,153.9 L877.6,153.3 L877.5,152.8 L877.5,150.0 L877.5,149.8 L877.0,149.2 L877.0,148.3 L876.5,147.7 L876.5,146.8 L876.0,146.2 L876.0,145.3 L872.7,140.9 L872.3,140.3 L871.2,139.6 L870.5,138.4 L869.5,137.6 L868.7,136.5 L867.7,135.7 L867.0,134.6 L866.6,134.3 L863.4,122.7 L863.4,122.7 L863.2,122.3ZM820.0,153.0 L831.0,155.0 L833.0,163.0 L831.0,172.0 L820.0,172.0 L814.0,166.0 L814.0,158.0ZM873.2,141.6 L875.5,144.7 L875.5,143.8 L874.6,142.6Z" fill="#7b508d" fill-rule="evenodd"/>
<path d="M814.0,166.0 L820.0,172.0 L831.0,172.0 L833.0,163.0 L831.0,155.0 L820.0,153.0 L814.0,158.0Z" fill="none" stroke="#68626e" stroke-width="1"/>
<path d="M854.0,87.0 L846.0,90.0 L840.0,93.0 L833.0,91.0 L826.0,96.0 L820.0,106.0 L820.0,113.0 L823.0,121.0 L822.8,121.5 L823.3,121.7 L823.1,122.1 L823.6,122.3 L823.5,122.8 L823.9,123.0 L824.1,122.5 L824.6,122.7 L824.7,122.5 L825.4,122.5 L826.7,123.0 L828.0,123.0 L830.1,123.0 L840.2,120.5 L848.2,114.5 L841.3,119.7 L841.8,119.5 L842.8,119.2 L848.3,115.0 L844.2,118.1 L845.8,117.5 L847.3,116.4 L849.6,115.6 L849.8,115.5 L851.9,115.5 L853.8,115.0 L854.6,115.3 L855.3,115.1 L856.1,115.5 L856.9,115.3 L854.0,114.0 L863.0,118.0 L858.7,116.1 L859.1,116.8 L862.8,118.5 L860.0,117.2 L860.4,118.0 L861.1,118.2 L861.3,118.3 L861.7,119.1 L862.4,119.4 L862.5,119.4 L863.0,120.1 L863.7,120.4 L864.0,120.8 L864.3,120.6 L864.9,120.9 L865.5,120.6 L866.2,120.8 L866.8,120.5 L867.4,120.7 L868.0,120.4 L868.3,120.5 L868.7,120.7 L869.3,120.4 L871.0,121.0 L883.0,121.0 L888.7,118.9 L891.0,118.0 L888.0,110.0 L888.0,99.5 L888.5,99.6 L888.5,99.3 L888.0,99.0 L883.0,96.0 L878.0,94.0 L874.0,87.0 L871.0,79.0 L866.0,76.0 L860.0,76.0 L856.0,77.0ZM888.7,118.9 L887.3,119.4 L888.0,119.6 L888.8,119.4Z" fill="none" stroke="#68626e" stroke-width="1"/>
<path d="M686.5,136.3 L685.7,141.2 L686.5,143.7 L690.6,149.4 L692.3,154.3 L698.0,159.2 L704.6,165.8 L707.8,170.7 L712.8,173.1 L721.0,172.3 L729.1,171.5 L737.3,169.0 L738.4,169.0 L739.5,168.5 L740.6,168.5 L741.6,168.0 L742.8,168.0 L744.4,167.2 L745.4,166.1 L743.8,167.0 L745.8,166.0 L746.4,165.9 L747.0,165.3 L747.8,165.2 L748.4,164.6 L745.5,165.0 L752.1,164.1 L754.3,161.3 L755.0,161.0 L755.2,160.9 L755.8,160.1 L755.8,159.9 L755.3,160.0 L753.7,151.9 L752.9,143.7 L752.1,136.3 L742.2,133.0 L735.7,129.7 L729.1,124.8 L721.0,128.9 L711.1,129.7 L706.2,133.8 L701.3,142.8 L698.5,147.9 L696.4,142.0 L691.5,137.1Z" fill="none" stroke="#68626e" stroke-width="1"/>
<path d="M982.5,234.2 L983.0,237.0 L992.0,247.0 L1000.0,258.0 L1008.0,264.0 L1013.0,269.0 L1013.0,269.0 L1013.0,269.0 L1024.0,264.0 L1035.0,258.0 L1040.0,253.0 L1043.0,242.0 L1048.0,231.0 L1057.0,223.0 L1062.0,218.0 L1062.0,218.0 L1062.0,218.0 L1054.0,212.0 L1040.0,210.0 L1030.0,210.0 L1027.0,210.0 L1016.0,215.0 L1008.0,218.0 L1000.0,223.0 L992.0,228.0 L983.0,234.0 L982.9,233.5 L982.5,233.7Z" fill="none" stroke="#68626e" stroke-width="1"/>
<path d="M863.8,121.4 L865.5,120.6 L864.9,120.9 L864.3,120.6 L863.5,121.0ZM865.5,120.6 L863.3,121.7 L863.6,122.1 L863.2,122.3 L863.4,122.7 L863.4,122.7 L866.6,134.3 L867.0,134.6 L867.7,135.7 L868.7,136.5 L869.5,137.6 L876.5,142.8 L870.5,138.4 L871.2,139.6 L876.0,143.0 L872.3,140.3 L872.7,140.9 L873.2,141.6 L874.6,142.6 L875.5,143.8 L875.5,144.7 L876.0,145.3 L876.0,146.2 L876.5,146.8 L876.5,147.7 L877.0,148.3 L877.0,149.2 L877.5,149.8 L877.5,150.0 L877.5,152.8 L877.6,153.3 L882.8,158.5 L883.0,158.0 L894.0,155.0 L908.0,155.0 L916.0,158.0 L927.0,158.0 L937.0,155.0 L946.0,153.0 L940.0,147.0 L932.0,142.0 L928.7,136.7 L927.0,134.0 L927.0,134.0 L929.0,126.0 L936.3,118.7 L940.0,115.0 L937.0,112.0 L929.0,107.0 L921.0,112.0 L913.0,109.0 L905.0,107.0 L894.0,101.0 L889.4,99.9 L889.4,99.9 L889.4,99.9 L888.5,99.3 L888.5,99.6 L888.0,99.5 L888.0,110.0 L891.0,118.0 L888.7,118.9 L888.8,119.4 L888.0,119.6 L887.3,119.4 L883.0,121.0 L871.0,121.0 L869.3,120.4 L868.7,120.7 L868.0,120.4 L867.4,120.7 L866.8,120.5 L866.2,120.8ZM879.0,155.4 L879.2,156.3 L881.7,158.8 L881.9,158.3 L882.3,158.7 L882.4,158.1 L878.2,153.9 L878.4,154.8ZM879.2,156.3 L879.8,156.9 L879.9,157.8 L880.7,158.5 L881.1,158.9 L881.3,158.4Z" fill="none" stroke="#68626e" stroke-width="1"/>
<path d="M880.4,160.5 L880.5,160.7 L880.3,161.3 L880.6,161.9 L880.4,162.6 L880.8,163.2 L880.5,163.8 L882.2,166.8 L885.5,172.1 L882.5,182.0 L883.0,182.0 L894.0,185.0 L908.0,191.0 L919.0,196.0 L929.0,201.0 L940.0,207.0 L948.0,204.0 L959.0,204.0 L962.0,193.0 L959.0,182.0 L959.0,172.0 L959.0,161.0 L954.0,158.0 L946.0,153.0 L937.0,155.0 L927.0,158.0 L916.0,158.0 L908.0,155.0 L894.0,155.0 L883.0,158.0 L882.8,158.5 L882.4,158.1 L882.3,158.7 L881.9,158.3 L881.7,158.8 L881.3,158.4 L881.1,158.9 L880.7,158.5 L880.3,159.8Z" fill="none" stroke="#68626e" stroke-width="1"/>
<path d="M965.0,150.0 L959.0,161.0 L959.0,172.0 L959.0,182.0 L962.0,193.0 L959.0,204.0 L965.0,215.0 L967.0,220.0 L973.0,215.0 L981.0,226.0 L982.4,233.6 L982.5,234.1 L982.5,233.7 L982.9,233.5 L983.0,234.0 L992.0,228.0 L1000.0,223.0 L1008.0,218.0 L1016.0,215.0 L1027.0,210.0 L1024.0,201.0 L1013.0,193.0 L1002.0,188.0 L992.0,185.0 L986.0,180.0 L983.0,172.0 L986.0,161.0 L992.0,150.0 L997.0,142.0 L992.0,139.0 L981.0,134.0 L970.0,128.0 L965.0,128.0 L967.0,134.0 L973.0,142.0Z" fill="none" stroke="#68626e" stroke-width="1"/>
<path d="M755.3,160.0 L755.8,159.9 L755.8,160.1 L755.6,160.4 L758.5,159.7 L763.0,158.0 L771.0,150.0 L782.0,145.0 L796.0,139.0 L809.0,136.0 L817.0,136.0 L817.8,134.4 L818.4,134.3 L818.7,133.7 L819.3,133.6 L820.9,130.4 L823.4,123.0 L822.0,127.2 L824.0,122.9 L824.0,122.9 L823.9,123.0 L823.5,122.8 L823.6,122.3 L823.1,122.1 L823.3,121.7 L822.8,121.5 L823.0,121.0 L820.0,113.0 L820.0,106.0 L826.0,96.0 L833.0,91.0 L834.0,84.0 L831.0,77.0 L826.0,74.0 L817.0,73.0 L814.0,76.0 L817.0,81.0 L811.0,87.0 L805.2,89.1 L800.0,91.0 L791.0,96.0 L783.0,101.0 L771.0,103.0 L769.0,107.0 L761.0,110.0 L754.0,116.0 L740.6,121.6 L735.7,129.7 L742.2,133.0 L752.1,136.3 L752.9,143.7 L753.7,151.9Z" fill="none" stroke="#68626e" stroke-width="1"/>
<path d="M986.0,161.0 L983.0,172.0 L986.0,180.0 L992.0,185.0 L1002.0,188.0 L1013.0,193.0 L1024.0,201.0 L1027.0,210.0 L1030.0,210.0 L1040.0,210.0 L1054.0,212.0 L1062.0,218.0 L1067.0,215.0 L1073.0,210.0 L1084.0,207.0 L1084.0,201.0 L1078.0,193.0 L1074.0,190.5 L1070.0,188.0 L1068.8,184.8 L1067.0,180.0 L1065.0,172.0 L1051.0,169.0 L1040.0,166.0 L1036.0,163.5 L1032.0,161.0 L1032.0,161.0 L1024.0,155.0 L1024.0,155.0 L1017.6,148.6 L1016.0,147.0 L1016.0,147.0 L1016.0,139.0 L1013.0,136.0 L1008.0,142.0 L997.0,142.0 L992.0,150.0Z" fill="none" stroke="#68626e" stroke-width="1"/>
<path d="M891.8,260.2 L891.3,260.4 L890.9,260.0 L890.4,260.2 L890.0,259.8 L889.7,260.0 L889.4,260.6 L890.3,260.3 L888.8,260.8 L888.6,261.4 L890.5,260.7 L887.9,261.7 L887.7,262.3 L887.1,262.5 L886.9,263.1 L886.2,263.4 L886.0,264.0 L891.0,266.0 L900.0,269.0 L910.0,272.0 L921.0,272.0 L932.0,275.0 L940.0,280.0 L946.0,275.0 L956.0,275.0 L967.0,280.0 L967.0,280.0 L973.0,291.0 L975.0,291.0 L978.0,280.0 L983.0,275.0 L983.0,275.0 L992.0,277.0 L1002.0,275.0 L1013.0,269.0 L1008.0,264.0 L1000.0,258.0 L992.0,247.0 L983.0,237.0 L982.5,234.2 L981.0,226.0 L973.0,215.0 L967.0,220.0 L965.0,215.0 L959.0,204.0 L948.0,204.0 L940.0,207.0 L937.0,220.0 L935.0,234.0 L932.0,245.0 L927.0,253.0 L916.0,256.0 L905.0,258.0 L894.0,261.0 L893.6,260.6 L893.1,260.8 L892.7,260.4 L892.2,260.6Z" fill="none" stroke="#68626e" stroke-width="1"/>
<path d="M852.0,207.0 L847.0,204.0 L851.0,220.0 L851.0,231.0 L859.0,239.0 L870.0,245.0 L881.0,250.0 L889.0,256.0 L888.8,256.5 L889.2,256.9 L889.0,257.4 L889.4,257.8 L889.2,258.3 L891.3,260.4 L891.8,260.2 L892.2,260.6 L892.7,260.4 L893.1,260.8 L893.6,260.6 L894.0,261.0 L905.0,258.0 L916.0,256.0 L927.0,253.0 L932.0,245.0 L935.0,234.0 L937.0,220.0 L940.0,207.0 L929.0,201.0 L919.0,196.0 L908.0,191.0 L894.0,185.0 L883.0,182.0 L882.5,182.0 L882.6,181.5 L882.1,181.5 L882.0,182.0 L874.0,191.0 L866.0,196.0 L863.0,204.0ZM891.3,260.4 L889.2,258.3 L889.6,258.7 L889.4,259.2 L889.9,259.7 L889.8,259.6 L889.6,260.1 L889.6,260.1 L889.7,260.0 L890.0,259.8 L890.4,260.2 L890.9,260.0Z" fill="none" stroke="#68626e" stroke-width="1"/>
<path d="M742.8,168.0 L741.6,168.0 L740.6,168.5 L739.5,168.5 L738.4,169.0 L737.3,169.0 L729.1,171.5 L721.0,172.3 L714.7,172.9 L713.1,173.6 L712.8,173.6 L712.0,174.0 L706.0,177.0 L704.0,188.0 L709.0,196.0 L714.0,204.0 L720.0,212.0 L728.0,220.0 L736.0,228.0 L741.0,237.0 L750.0,245.0 L755.0,250.0 L760.0,258.0 L768.0,261.0 L771.0,253.0 L774.0,242.0 L779.0,237.0 L782.0,226.0 L785.0,212.0 L782.0,201.0 L779.0,193.0 L785.0,177.0 L779.0,166.0 L771.0,163.0 L763.0,158.0 L758.5,159.7 L755.6,160.4 L755.2,160.9 L755.0,161.0 L754.3,161.3 L752.1,164.1 L748.4,164.6 L747.8,165.2 L747.0,165.3 L746.4,165.9 L745.8,166.0 L745.4,166.1 L745.0,166.6 L744.4,167.2Z" fill="none" stroke="#68626e" stroke-width="1"/>
<path d="M771.0,264.0 L782.0,269.0 L787.0,274.0 L793.0,288.0 L798.0,296.0 L809.0,299.0 L820.0,296.0 L831.0,299.0 L840.0,288.0 L845.0,285.0 L854.0,285.0 L856.0,275.0 L862.0,261.0 L872.0,264.0 L886.0,264.0 L886.2,263.4 L886.9,263.1 L887.1,262.5 L887.7,262.3 L887.9,261.7 L888.6,261.4 L888.6,261.2 L888.8,260.8 L889.4,260.6 L889.8,259.6 L889.4,259.2 L889.6,258.7 L889.2,258.3 L889.4,257.8 L889.0,257.4 L889.2,256.9 L888.8,256.5 L889.0,256.0 L881.0,250.0 L870.0,245.0 L859.0,239.0 L851.0,231.0 L851.0,220.0 L847.0,204.0 L842.0,207.0 L836.0,209.0 L825.0,212.0 L814.0,209.0 L804.0,209.0 L793.0,212.0 L785.0,212.0 L782.0,226.0 L779.0,237.0 L774.0,242.0 L771.0,253.0 L768.0,261.0Z" fill="none" stroke="#68626e" stroke-width="1"/>
<path d="M863.6,122.1 L863.3,121.7 L863.8,121.4 L863.5,121.0 L864.0,120.8 L863.7,120.4 L863.0,120.1 L862.5,119.4 L862.4,119.4 L861.7,119.1 L861.3,118.3 L860.4,118.0 L860.0,117.2 L859.1,116.8 L858.7,116.1 L856.9,115.3 L856.1,115.5 L855.3,115.1 L854.6,115.3 L853.8,115.0 L851.9,115.5 L849.8,115.5 L849.6,115.6 L847.3,116.4 L845.8,117.5 L844.2,118.1 L842.8,119.2 L841.8,119.5 L841.3,119.7 L840.2,120.5 L830.1,123.0 L828.0,123.0 L826.7,123.0 L825.4,122.5 L824.7,122.5 L824.6,122.7 L824.1,122.5 L824.1,122.6 L824.0,122.9 L822.0,127.2 L820.9,130.4 L819.3,133.6 L818.7,133.7 L818.4,134.3 L817.8,134.4 L817.0,136.0 L809.0,136.0 L796.0,139.0 L782.0,145.0 L771.0,150.0 L763.0,158.0 L771.0,163.0 L779.0,166.0 L785.0,177.0 L779.0,193.0 L782.0,201.0 L785.0,212.0 L793.0,212.0 L804.0,209.0 L814.0,209.0 L825.0,212.0 L836.0,209.0 L842.0,207.0 L847.0,204.0 L852.0,207.0 L863.0,204.0 L866.0,196.0 L874.0,191.0 L882.0,182.0 L882.1,181.5 L882.6,181.5 L885.5,172.1 L882.2,166.8 L880.5,163.8 L880.8,163.2 L880.4,162.6 L880.6,161.9 L880.3,161.3 L880.5,160.7 L880.4,160.5 L880.3,159.8 L880.6,158.8 L880.6,158.4 L879.9,157.8 L879.8,156.9 L879.2,156.3 L879.0,155.4 L878.4,154.8 L878.2,153.9 L877.6,153.3 L877.5,152.8 L877.5,150.0 L877.5,149.8 L877.0,149.2 L877.0,148.3 L876.5,147.7 L876.5,146.8 L876.0,146.2 L876.0,145.3 L872.7,140.9 L872.3,140.3 L871.2,139.6 L870.5,138.4 L869.5,137.6 L868.7,136.5 L867.7,135.7 L867.0,134.6 L866.6,134.3 L863.4,122.7 L863.4,122.7 L863.2,122.3ZM820.0,153.0 L831.0,155.0 L833.0,163.0 L831.0,172.0 L820.0,172.0 L814.0,166.0 L814.0,158.0ZM873.2,141.6 L875.5,144.7 L875.5,143.8 L874.6,142.6Z" fill="none" stroke="#68626e" stroke-width="1"/>
<text x="391" y="209" fill="#000" class="l">DC</text>
<text x="484" y="222" fill="#000" class="l">LI</text>
<text x="425" y="251" fill="#000" class="l">CL</text>
<text x="512" y="235" fill="#000" class="l">JN</text>
<text x="341" y="243" fill="#000" class="l">UL</text>
<text x="306" y="263" fill="#fff" class="l">TP</text>
<text x="538" y="261" fill="#000" class="l">SM</text>
<text x="279" y="273" fill="#000" class="l">MO</text>
<text x="233" y="300" fill="#000" class="l">CV</text>
<text x="593" y="274" fill="#000" class="l">TU</text>
<text x="362" y="290" fill="#000" class="l">LT</text>
<text x="642" y="292" fill="#000" class="l">NA</text>
<text x="540" y="308" fill="#fff" class="l">JC</text>
<text x="405" y="322" fill="#000" class="l">ME</text>
<text x="463" y="305" fill="#000" class="l">MB</text>
<text x="786" y="336" fill="#000" class="l">JE</text>
<text x="282" y="327" fill="#fff" class="l">LN</text>
<text x="139" y="345" fill="#000" class="l">SO</text>
<text x="196" y="350" fill="#000" class="l">KV</text>
<text x="103" y="372" fill="#000" class="l">CH</text>
<text x="349" y="355" fill="#000" class="l">KD</text>
<text x="492" y="351" fill="#fff" class="l">NB</text>
<text x="578" y="347" fill="#000" class="l">HK</text>
<text x="659" y="354" fill="#000" class="l">RK</text>
<text x="828" y="387" fill="#000" class="l">BR</text>
<text x="402" y="384" fill="#000" class="l">PH</text>
<text x="296" y="376" fill="#fff" class="l">RA</text>
<text x="587" y="386" fill="#000" class="l">PU</text>
<text x="691" y="395" fill="#000" class="l">UO</text>
<text x="762" y="400" fill="#000" class="l">SU</text>
<text x="385" y="411" fill="#000" class="l">PZ</text>
<text x="432" y="411" fill="#fff" class="l">PY</text>
<text x="900" y="416" fill="#000" class="l">OP</text>
<text x="484" y="395" fill="#000" class="l">KO</text>
<text x="949" y="430" fill="#000" class="l">OV</text>
<text x="981" y="427" fill="#000" class="l">KI</text>
<text x="230" y="419" fill="#000" class="l">PS</text>
<text x="337" y="417" fill="#000" class="l">BE</text>
<text x="285" y="442" fill="#000" class="l">RO</text>
<text x="512" y="429" fill="#000" class="l">KH</text>
<text x="602" y="428" fill="#000" class="l">CR</text>
<text x="155" y="445" fill="#000" class="l">TC</text>
<text x="244" y="455" fill="#000" class="l">PM</text>
<text x="445" y="456" fill="#fff" class="l">BN</text>
<text x="690" y="459" fill="#000" class="l">SY</text>
<text x="802" y="468" fill="#000" class="l">OC</text>
<text x="913" y="468" fill="#000" class="l">NJ</text>
<text x="989" y="476" fill="#000" class="l">FM</text>
<text x="349" y="471" fill="#000" class="l">PB</text>
<text x="255" y="485" fill="#000" class="l">PJ</text>
<text x="556" y="473" fill="#000" class="l">HB</text>
<text x="855" y="504" fill="#000" class="l">PR</text>
<text x="637" y="510" fill="#000" class="l">ZR</text>
<text x="713" y="514" fill="#fff" class="l">BK</text>
<text x="783" y="510" fill="#000" class="l">PV</text>
<text x="175" y="508" fill="#000" class="l">DO</text>
<text x="498" y="525" fill="#fff" class="l">PE</text>
<text x="366" y="535" fill="#000" class="l">PI</text>
<text x="431" y="538" fill="#000" class="l">TA</text>
<text x="934" y="530" fill="#000" class="l">VS</text>
<text x="835" y="551" fill="#000" class="l">KM</text>
<text x="559" y="549" fill="#000" class="l">JI</text>
<text x="240" y="559" fill="#fff" class="l">KT</text>
<text x="313" y="560" fill="#000" class="l">ST</text>
<text x="769" y="565" fill="#fff" class="l">VY</text>
<text x="886" y="566" fill="#000" class="l">ZL</text>
<text x="608" y="581" fill="#000" class="l">TR</text>
<text x="709" y="574" fill="#000" class="l">BM</text>
<text x="489" y="592" fill="#000" class="l">JH</text>
<text x="854" y="609" fill="#000" class="l">UH</text>
<text x="703" y="600" fill="#000" class="l">BI</text>
<text x="312" y="624" fill="#000" class="l">PT</text>
<text x="400" y="623" fill="#000" class="l">CB</text>
<text x="806" y="631" fill="#000" class="l">HO</text>
<text x="737" y="646" fill="#000" class="l">BV</text>
<text x="643" y="645" fill="#000" class="l">ZN</text>
<text x="373" y="679" fill="#000" class="l">CK</text>
<text x="721" y="153" class="q">KVK</text>
<text x="852" y="107" class="q">LBK</text>
<text x="786" y="127" class="q">ULK</text>
<text x="904" y="133" class="q">HKK</text>
<text x="823" y="164" class="q">PHA</text>
<text x="827" y="191" class="q">STC</text>
<text x="920" y="180" class="q">PAK</text>
<text x="1035" y="188" class="q">MSK</text>
<text x="745" y="207" class="q">PLK</text>
<text x="989" y="208" class="q">OLK</text>
<text x="892" y="225" class="q">VYS</text>
<text x="1019" y="245" class="q">ZLK</text>
<text x="820" y="256" class="q">JHC</text>
<text x="958" y="254" class="q">JHM</text>
<rect x="45.5" y="627.5" width="37" height="18" fill="#e3d5f3" stroke="#6e6e6e" stroke-width="1"/>
<rect x="45.5" y="652.5" width="37" height="18" fill="#bba4d5" stroke="#6e6e6e" stroke-width="1"/>
<rect x="45.5" y="677.5" width="37" height="18" fill="#9d78ae" stroke="#6e6e6e" stroke-width="1"/>
<rect x="45.5" y="702.5" width="37" height="18" fill="#7b508d" stroke="#6e6e6e" stroke-width="1"/>
<rect x="45.5" y="727.5" width="37" height="18" fill="#5c2a71" stroke="#6e6e6e" stroke-width="1"/>
<text x="89" y="640.6" class="s">&lt;= 500,0</text>
<text x="89" y="665.7" class="s">500,1 - 540,0</text>
<text x="89" y="690.8" class="s">540,1 - 580,0</text>
<text x="89" y="715.9" class="s">580,1 - 620,0</text>
<text x="89" y="741.0" class="s">&gt; 620,0</text>
<text x="92" y="97" class="t1" textLength="548" lengthAdjust="spacingAndGlyphs">Zemřelí na nemoci oběhové soustavy  (průměr let 1999 - 2003)</text>
<text x="92" y="120.5" class="t2">Deaths of circulatory system diseases: 1999 - 2003 average</text>
<text x="45.5" y="595" class="s">zemřelí na 100 000 obyvatel</text>
<text x="45.5" y="616.6" class="s" font-style="italic">Deaths per 100 000 population</text>
<text x="474" y="705.3" class="s">Česká republika = 568,8</text>
<text x="474" y="720.9" class="s">Maximum: Nymburk = 684,4</text>
<text x="474" y="736.5" class="s">Minimum: Tachov = 410,3</text>
</svg>
</body></html>
